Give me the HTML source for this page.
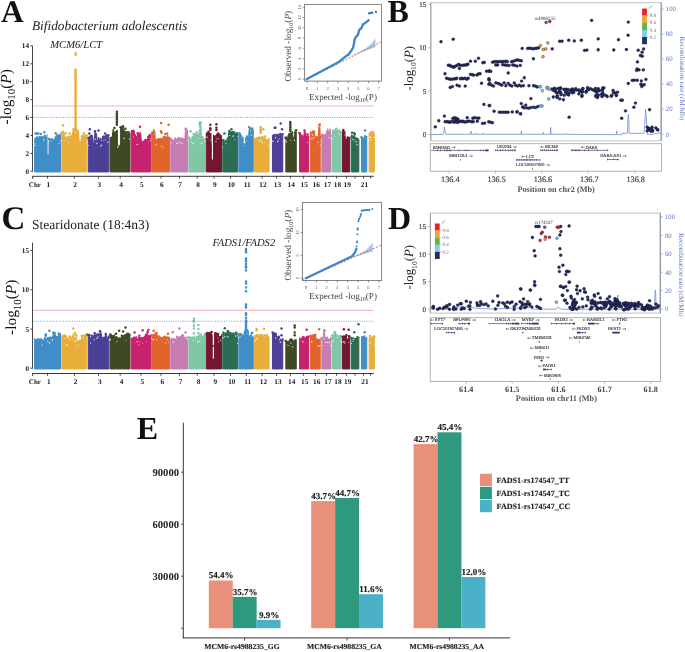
<!DOCTYPE html><html><head><meta charset="utf-8"><style>html,body{margin:0;padding:0;background:#fff;overflow:hidden}svg{display:block;will-change:transform;text-rendering:geometricPrecision;-webkit-font-smoothing:antialiased}</style></head><body>
<svg width="685" height="652" viewBox="0 0 685 652" style="font-family:'Liberation Serif',serif">
<rect width="685" height="652" fill="#fff"/>
<text x="0.9" y="21.6" font-size="31.5" font-weight="bold" font-style="normal" fill="#111" text-anchor="start" >A</text>
<text x="32" y="29.7" font-size="13.3" font-weight="normal" font-style="italic" fill="#222" text-anchor="start" >Bifidobacterium adolescentis</text>
<line x1="33" y1="105.8" x2="373.6" y2="105.8" stroke="#fad4d7" stroke-width="1.8" />
<line x1="33" y1="117.4" x2="373.8" y2="117.4" stroke="#8fa3dc" stroke-width="1" stroke-dasharray="1.1 1.2"/>
<path d="M34.55,171.95 L34.55,142.59 L34.56,143.5 L35.01,137.54 L35.47,138.06 L35.92,139.06 L36.38,138.2 L36.84,136.28 L37.29,136.89 L37.75,138.07 L38.2,137.43 L38.66,138.51 L39.12,139.18 L39.57,137.73 L40.03,136.49 L40.48,137.2 L40.94,137.2 L41.39,137.41 L41.85,135.99 L42.31,137.82 L42.76,136.89 L43.22,136.57 L43.67,137.54 L44.13,137.08 L44.59,135.99 L45.04,136.57 L45.5,137.57 L45.95,137.16 L46.41,137.79 L46.87,137.78 L47.32,134.19 L47.78,144.95 L48.23,145.4 L48.69,146.71 L49.15,139.3 L49.6,139.15 L50.06,138.65 L50.51,139.98 L50.97,139.39 L51.43,138.39 L51.88,138.72 L52.34,138.47 L52.79,140.88 L53.25,140.91 L53.71,140.41 L54.16,139.34 L54.62,140.22 L55.07,137.74 L55.53,136.43 L55.98,135.74 L56.44,136.67 L56.9,136.39 L57.35,136.27 L57.81,137.66 L58.26,137.06 L58.72,137.81 L59.18,135.47 L59.63,136.27 L60.09,136 L60.54,133.47 L60.55,136.07 L60.55,171.95 Z" fill="#3f8ec8" stroke="#3f8ec8" stroke-width="1.0" stroke-linejoin="round"/>
<g fill="#fff" fill-opacity="0.85"><circle cx="34.55" cy="145.74" r="0.77"/><circle cx="35.01" cy="143.85" r="0.66"/><circle cx="43.22" cy="141.77" r="0.49"/><circle cx="44.13" cy="139.71" r="0.75"/><circle cx="51.43" cy="141.07" r="0.54"/><circle cx="58.72" cy="143.65" r="0.48"/><circle cx="59.63" cy="143.26" r="0.46"/><circle cx="60.54" cy="141.01" r="0.6"/></g>
<rect x="47.6" y="108.55" width="0.9" height="45.64" rx="0.5" fill="#fff"/>
<g fill="#3f8ec8"><circle cx="39.39" cy="137.27" r="1.25"/><circle cx="42.07" cy="137.56" r="1.25"/><circle cx="44.94" cy="135.9" r="1.25"/><circle cx="49.04" cy="139.03" r="1.25"/><circle cx="53.35" cy="140.63" r="1.25"/><circle cx="57.46" cy="135.08" r="1.25"/><circle cx="58.56" cy="136.49" r="1.25"/><circle cx="35.5" cy="133.61" r="1.25"/><circle cx="37" cy="133.61" r="1.25"/><circle cx="38.2" cy="133.61" r="1.25"/><circle cx="40.8" cy="134.06" r="1.25"/><circle cx="44.3" cy="132.18" r="1.25"/><circle cx="55.7" cy="133.34" r="1.25"/><circle cx="59.8" cy="135.85" r="1.25"/></g>
<path d="M61.85,171.95 L61.85,133.24 L61.85,132.83 L62.31,131.27 L62.76,132.95 L63.21,132.58 L63.66,138.59 L64.12,135.68 L64.57,136.63 L65.02,137.97 L65.47,137.78 L65.93,138.47 L66.38,139.69 L66.83,138.05 L67.28,136.94 L67.74,138.59 L68.19,136.94 L68.64,138.05 L69.09,137.75 L69.55,138.4 L70,138.82 L70.45,137.64 L70.91,134.65 L71.36,138.25 L71.81,138.52 L72.26,137.33 L72.72,131.16 L73.17,131.72 L73.62,130 L74.07,130.15 L74.53,131.49 L74.98,128 L75.43,130.22 L75.88,130.12 L76.34,128.97 L76.79,129.57 L77.24,132.24 L77.69,131.08 L78.15,129.59 L78.6,130.57 L79.05,140.94 L79.51,141.58 L79.96,141.64 L80.41,141.61 L80.86,142.9 L81.32,138.07 L81.77,137.32 L82.22,136.94 L82.67,136.48 L83.13,135.49 L83.58,137.82 L84.03,134.63 L84.48,137.48 L84.94,134.21 L85.39,137.13 L85.84,135.98 L86.29,136.07 L86.75,136.89 L86.75,136.61 L86.75,171.95 Z" fill="#e9ae3a" stroke="#e9ae3a" stroke-width="1.0" stroke-linejoin="round"/>
<g fill="#fff" fill-opacity="0.85"><circle cx="64.12" cy="140.61" r="0.65"/><circle cx="68.64" cy="142.66" r="0.61"/><circle cx="75.88" cy="132.38" r="0.55"/><circle cx="86.75" cy="142.45" r="0.64"/></g>
<g fill="#e9ae3a"><circle cx="61.75" cy="133.02" r="1.25"/><circle cx="63.03" cy="131.73" r="1.25"/><circle cx="64.06" cy="134.87" r="1.25"/><circle cx="65.32" cy="137.39" r="1.25"/><circle cx="68.15" cy="136.69" r="1.25"/><circle cx="69.61" cy="137.56" r="1.25"/><circle cx="72.29" cy="136.95" r="1.25"/><circle cx="73.47" cy="129.21" r="1.25"/><circle cx="81.93" cy="136.17" r="1.25"/><circle cx="84.25" cy="137.1" r="1.25"/><circle cx="86.78" cy="135.61" r="1.25"/><circle cx="63.1" cy="125.29" r="1.25"/><circle cx="65.7" cy="133.16" r="1.25"/><circle cx="69.6" cy="133.61" r="1.25"/><circle cx="83.6" cy="133.16" r="1.25"/><circle cx="75.6" cy="54.85" r="1.25"/><circle cx="75.6" cy="53.06" r="1.25"/><circle cx="75.6" cy="130.92" r="1.25"/><circle cx="75.6" cy="129.31" r="1.25"/><circle cx="75.6" cy="127.7" r="1.25"/><circle cx="75.6" cy="126.09" r="1.25"/><circle cx="75.6" cy="124.48" r="1.25"/><circle cx="75.6" cy="122.87" r="1.25"/><circle cx="75.6" cy="121.26" r="1.25"/><circle cx="75.6" cy="119.65" r="1.25"/><circle cx="75.6" cy="118.04" r="1.25"/><circle cx="75.6" cy="116.43" r="1.25"/><circle cx="75.6" cy="114.82" r="1.25"/><circle cx="75.6" cy="113.2" r="1.25"/><circle cx="75.6" cy="111.59" r="1.25"/><circle cx="75.6" cy="109.98" r="1.25"/><circle cx="75.6" cy="108.37" r="1.25"/><circle cx="75.6" cy="106.76" r="1.25"/><circle cx="75.6" cy="105.15" r="1.25"/><circle cx="75.6" cy="103.54" r="1.25"/><circle cx="75.6" cy="101.93" r="1.25"/><circle cx="75.6" cy="100.32" r="1.25"/><circle cx="75.6" cy="98.71" r="1.25"/><circle cx="75.6" cy="97.09" r="1.25"/><circle cx="75.6" cy="95.48" r="1.25"/><circle cx="75.6" cy="93.87" r="1.25"/><circle cx="75.6" cy="92.26" r="1.25"/><circle cx="75.6" cy="90.65" r="1.25"/><circle cx="75.6" cy="89.04" r="1.25"/><circle cx="75.6" cy="87.43" r="1.25"/><circle cx="75.6" cy="85.82" r="1.25"/><circle cx="75.6" cy="84.21" r="1.25"/><circle cx="75.6" cy="82.6" r="1.25"/><circle cx="75.6" cy="80.98" r="1.25"/><circle cx="75.6" cy="79.37" r="1.25"/><circle cx="75.6" cy="77.76" r="1.25"/><circle cx="75.6" cy="76.15" r="1.25"/><circle cx="75.6" cy="74.54" r="1.25"/><circle cx="75.6" cy="72.93" r="1.25"/><circle cx="75.6" cy="71.32" r="1.25"/><circle cx="75.6" cy="69.71" r="1.25"/></g>
<path d="M88.25,171.95 L88.25,138.58 L88.26,137.82 L88.71,136.95 L89.17,137.05 L89.63,136.62 L90.09,136.94 L90.54,136.02 L91,135.79 L91.46,137.4 L91.92,136.41 L92.37,136.29 L92.83,137.26 L93.29,143.98 L93.75,144.38 L94.2,144.08 L94.66,135.28 L95.12,131.87 L95.58,134.51 L96.03,134.69 L96.49,133.27 L96.95,140.77 L97.41,140.36 L97.86,141.76 L98.32,137.2 L98.78,141.04 L99.24,139.79 L99.69,141.02 L100.15,139.78 L100.61,141.03 L101.07,141.94 L101.52,140.84 L101.98,140.46 L102.44,138.13 L102.9,137.04 L103.35,135.75 L103.81,136.04 L104.27,136.65 L104.73,137.86 L105.18,137.4 L105.64,136.98 L106.1,138 L106.56,137.48 L107.01,137.74 L107.47,136.82 L107.93,135.77 L108.39,135.75 L108.84,136.95 L108.85,137.03 L108.85,171.95 Z" fill="#4b3f96" stroke="#4b3f96" stroke-width="1.0" stroke-linejoin="round"/>
<g fill="#fff" fill-opacity="0.85"><circle cx="88.25" cy="145.54" r="0.6"/><circle cx="95.12" cy="139.04" r="0.75"/><circle cx="96.95" cy="143.5" r="0.73"/><circle cx="100.61" cy="146.12" r="0.61"/><circle cx="101.52" cy="145.2" r="0.7"/><circle cx="103.35" cy="140.81" r="0.48"/><circle cx="105.18" cy="139.82" r="0.58"/><circle cx="107.93" cy="142.27" r="0.73"/></g>
<g fill="#4b3f96"><circle cx="88.45" cy="137.95" r="1.25"/><circle cx="90.75" cy="135.94" r="1.25"/><circle cx="91.69" cy="136.05" r="1.25"/><circle cx="93.37" cy="143.94" r="1.25"/><circle cx="100.43" cy="138.94" r="1.25"/><circle cx="103.16" cy="136.96" r="1.25"/><circle cx="105.68" cy="136.17" r="1.25"/><circle cx="108.33" cy="135.27" r="1.25"/><circle cx="89.8" cy="129.13" r="1.25"/><circle cx="89.3" cy="133.61" r="1.25"/><circle cx="95" cy="131.37" r="1.25"/><circle cx="98.5" cy="130.48" r="1.25"/><circle cx="105.1" cy="133.61" r="1.25"/><circle cx="106.8" cy="135.4" r="1.25"/></g>
<path d="M110.05,171.95 L110.05,138.71 L110.05,138.73 L110.5,137.01 L110.96,138.31 L111.41,137.34 L111.86,137.55 L112.31,137.73 L112.77,131.49 L113.22,129.1 L113.67,132.08 L114.12,132.36 L114.57,131.96 L115.03,131.73 L115.48,131.25 L115.93,130.67 L116.38,130.34 L116.83,131.72 L117.29,130.19 L117.74,144.05 L118.19,143.85 L118.64,143.62 L119.1,146.04 L119.55,144.45 L120,144.67 L120.45,127.94 L120.9,127.58 L121.36,129.24 L121.81,128.56 L122.26,128.78 L122.71,128.33 L123.17,126.91 L123.62,127.37 L124.07,132.66 L124.52,131.94 L124.97,133.15 L125.43,133.69 L125.88,132.53 L126.33,133.31 L126.78,134.82 L127.23,135.73 L127.69,133.54 L128.14,133.75 L128.59,133.74 L129.04,133.32 L129.5,134.02 L129.95,133.44 L129.95,133.85 L129.95,171.95 Z" fill="#3d4a23" stroke="#3d4a23" stroke-width="1.0" stroke-linejoin="round"/>
<g fill="#fff" fill-opacity="0.85"><circle cx="117.74" cy="146.98" r="0.79"/><circle cx="118.64" cy="146" r="0.54"/><circle cx="124.07" cy="138.18" r="0.8"/><circle cx="129.5" cy="139.22" r="0.6"/></g>
<rect x="118.1" y="108.55" width="1.7" height="36.69" rx="0.5" fill="#fff"/>
<g fill="#3d4a23"><circle cx="112.57" cy="137.19" r="1.25"/><circle cx="120.63" cy="127.32" r="1.25"/><circle cx="121.8" cy="127.56" r="1.25"/><circle cx="122.94" cy="126.29" r="1.25"/><circle cx="124.23" cy="131.39" r="1.25"/><circle cx="126.09" cy="132.19" r="1.25"/><circle cx="128.45" cy="132.4" r="1.25"/><circle cx="125.5" cy="128.69" r="1.25"/><circle cx="128.1" cy="132.27" r="1.25"/><circle cx="114.4" cy="127.97" r="1.25"/><circle cx="116.9" cy="124.66" r="1.25"/><circle cx="116.9" cy="123.05" r="1.25"/><circle cx="116.9" cy="121.44" r="1.25"/><circle cx="116.9" cy="119.83" r="1.25"/><circle cx="116.9" cy="118.22" r="1.25"/><circle cx="116.9" cy="116.61" r="1.25"/><circle cx="116.9" cy="114.99" r="1.25"/><circle cx="116.9" cy="113.38" r="1.25"/><circle cx="116.9" cy="111.77" r="1.25"/></g>
<path d="M131.15,171.95 L131.15,133.04 L131.16,131.84 L131.62,131.52 L132.08,131.74 L132.54,131.23 L133,132.29 L133.45,131.64 L133.91,130.67 L134.37,131.95 L134.83,137.83 L135.29,134.34 L135.75,136.39 L136.21,137.55 L136.67,136.48 L137.13,137.15 L137.59,134.2 L138.05,132.31 L138.5,133.67 L138.96,132.88 L139.42,133.86 L139.88,133.41 L140.34,132.44 L140.8,133.87 L141.26,140.09 L141.72,140.94 L142.18,142.08 L142.64,141.65 L143.1,140.89 L143.55,141.35 L144.01,141.31 L144.47,141.72 L144.93,139.53 L145.39,139.24 L145.85,141.44 L146.31,139.09 L146.77,141.49 L147.23,142.55 L147.69,136.53 L148.15,137.15 L148.6,137.53 L149.06,136.58 L149.52,136.25 L149.98,136.25 L150.44,136.4 L150.45,135.87 L150.45,171.95 Z" fill="#c7226e" stroke="#c7226e" stroke-width="1.0" stroke-linejoin="round"/>
<g fill="#fff" fill-opacity="0.85"><circle cx="133.45" cy="137.1" r="0.54"/><circle cx="137.13" cy="144.5" r="0.77"/><circle cx="148.15" cy="141.92" r="0.46"/><circle cx="149.98" cy="138.71" r="0.49"/><circle cx="150.45" cy="140.84" r="0.57"/></g>
<g fill="#c7226e"><circle cx="131.88" cy="131.05" r="1.25"/><circle cx="133.48" cy="131.05" r="1.25"/><circle cx="134.85" cy="137.46" r="1.25"/><circle cx="135.97" cy="137.01" r="1.25"/><circle cx="137.61" cy="133.32" r="1.25"/><circle cx="144.58" cy="141.31" r="1.25"/><circle cx="145.64" cy="140.21" r="1.25"/><circle cx="148.81" cy="136.41" r="1.25"/><circle cx="149.78" cy="135.05" r="1.25"/><circle cx="140" cy="126.63" r="1.25"/></g>
<path d="M151.65,171.95 L151.65,131.82 L151.66,131.85 L152.12,132.22 L152.58,132.91 L153.03,131.32 L153.49,131.98 L153.95,129.2 L154.41,132.14 L154.87,131.63 L155.33,140.63 L155.79,139.9 L156.24,139.82 L156.7,139.91 L157.16,138.79 L157.62,140.12 L158.08,138.51 L158.54,139.31 L159,138.64 L159.45,139.38 L159.91,138.32 L160.37,140.04 L160.83,139.61 L161.29,140.09 L161.75,138.42 L162.2,140.3 L162.66,138.9 L163.12,140.98 L163.58,138.47 L164.04,138.48 L164.5,136.47 L164.96,137.5 L165.41,136.43 L165.87,136.91 L166.33,138.03 L166.79,138.03 L167.25,137.93 L167.71,134.92 L168.17,138.46 L168.62,136.98 L169.08,138.25 L169.54,138.46 L169.55,138.67 L169.55,171.95 Z" fill="#e0642b" stroke="#e0642b" stroke-width="1.0" stroke-linejoin="round"/>
<g fill="#fff" fill-opacity="0.85"><circle cx="151.65" cy="138.28" r="0.47"/><circle cx="155.79" cy="145.03" r="0.48"/><circle cx="156.7" cy="144.2" r="0.55"/><circle cx="161.29" cy="146.14" r="0.57"/><circle cx="163.12" cy="147.66" r="0.52"/></g>
<g fill="#e0642b"><circle cx="152.62" cy="132.71" r="1.25"/><circle cx="159.31" cy="139.19" r="1.25"/><circle cx="160.81" cy="139.24" r="1.25"/><circle cx="162.06" cy="140.12" r="1.25"/><circle cx="163.6" cy="137.39" r="1.25"/><circle cx="165.18" cy="136.93" r="1.25"/><circle cx="169.16" cy="137.98" r="1.25"/><circle cx="161.2" cy="123.05" r="1.25"/><circle cx="168.6" cy="124.66" r="1.25"/><circle cx="161" cy="131.19" r="1.25"/><circle cx="161.4" cy="132.72" r="1.25"/><circle cx="165.3" cy="134.06" r="1.25"/><circle cx="167.1" cy="133.61" r="1.25"/></g>
<path d="M170.75,171.95 L170.75,139.16 L170.76,138.24 L171.22,139.04 L171.68,140.54 L172.14,139.47 L172.59,139.7 L173.05,139.49 L173.51,141.2 L173.97,139.91 L174.43,139.81 L174.89,138.18 L175.35,137.6 L175.81,139.3 L176.27,139.18 L176.73,139.64 L177.18,138.29 L177.64,138.81 L178.1,139.18 L178.56,138.19 L179.02,138.56 L179.48,138.22 L179.94,139.49 L180.4,138.17 L180.86,138.65 L181.32,140.06 L181.77,139.49 L182.23,138.12 L182.69,138.25 L183.15,138.34 L183.61,138.84 L184.07,139.81 L184.53,139.04 L184.99,137.78 L185.45,129.19 L185.91,127.67 L186.36,131.37 L186.82,130.73 L187.28,130.06 L187.74,136.88 L187.75,138.93 L187.75,171.95 Z" fill="#c77db4" stroke="#c77db4" stroke-width="1.0" stroke-linejoin="round"/>
<g fill="#fff" fill-opacity="0.85"><circle cx="171.22" cy="142.77" r="0.62"/><circle cx="176.73" cy="143.57" r="0.77"/><circle cx="178.56" cy="142.8" r="0.58"/><circle cx="180.4" cy="142.1" r="0.71"/><circle cx="182.23" cy="143.51" r="0.68"/><circle cx="185.91" cy="130.52" r="0.5"/><circle cx="187.74" cy="140.54" r="0.52"/></g>
<g fill="#c77db4"><circle cx="170.64" cy="139.02" r="1.25"/><circle cx="178.64" cy="138.11" r="1.25"/><circle cx="181.35" cy="138.76" r="1.25"/><circle cx="185.71" cy="128.96" r="1.25"/><circle cx="186.69" cy="130.62" r="1.25"/></g>
<path d="M188.95,171.95 L188.95,138.01 L188.96,137.59 L189.42,138.44 L189.88,138.89 L190.34,138.57 L190.8,139.3 L191.26,139.2 L191.72,139.03 L192.18,139.75 L192.64,138.29 L193.09,136.41 L193.55,135.08 L194.01,135.01 L194.47,136.14 L194.93,134.36 L195.39,135.03 L195.85,134.8 L196.31,132.03 L196.77,131.24 L197.23,131.14 L197.69,132.7 L198.15,136.26 L198.61,136.51 L199.07,135.12 L199.53,124.2 L199.99,121.23 L200.45,123.08 L200.91,123.13 L201.36,140.27 L201.82,138.32 L202.28,137.57 L202.74,138.17 L203.2,139.06 L203.66,139.62 L204.12,139.36 L204.58,139.64 L205.04,138.02 L205.05,138.83 L205.05,171.95 Z" fill="#7fc8a6" stroke="#7fc8a6" stroke-width="1.0" stroke-linejoin="round"/>
<g fill="#fff" fill-opacity="0.85"><circle cx="191.26" cy="141.99" r="0.63"/><circle cx="193.09" cy="143.6" r="0.79"/><circle cx="194.01" cy="137.27" r="0.47"/><circle cx="196.77" cy="133.52" r="0.64"/><circle cx="198.61" cy="138.79" r="0.52"/><circle cx="199.53" cy="128.02" r="0.64"/><circle cx="201.36" cy="143.64" r="0.76"/><circle cx="202.28" cy="142.79" r="0.61"/><circle cx="205.04" cy="141.25" r="0.67"/></g>
<g fill="#7fc8a6"><circle cx="189.24" cy="137.8" r="1.25"/><circle cx="192.52" cy="137.35" r="1.25"/><circle cx="193.73" cy="134.1" r="1.25"/><circle cx="195.62" cy="134.29" r="1.25"/><circle cx="198.2" cy="135.45" r="1.25"/><circle cx="199.39" cy="123.46" r="1.25"/><circle cx="200.66" cy="122.71" r="1.25"/><circle cx="202.51" cy="136.9" r="1.25"/><circle cx="190.6" cy="131.37" r="1.25"/></g>
<path d="M206.25,171.95 L206.25,133.51 L206.26,133.26 L206.73,132.86 L207.19,133.95 L207.65,133.18 L208.11,132.58 L208.58,133 L209.04,132.14 L209.5,133.76 L209.97,134.6 L210.43,134.33 L210.89,132.94 L211.35,146.83 L211.82,146.51 L212.28,146.36 L212.74,135.17 L213.21,134.82 L213.67,135.51 L214.13,135.78 L214.59,137.05 L215.06,135.24 L215.52,136.48 L215.98,137.54 L216.45,136.47 L216.91,136.25 L217.37,134.93 L217.83,134.17 L218.3,134.25 L218.76,136.08 L219.22,134.98 L219.69,135 L220.15,136.35 L220.61,136.75 L221.07,135.96 L221.54,135.26 L221.55,136.23 L221.55,171.95 Z" fill="#731730" stroke="#731730" stroke-width="1.0" stroke-linejoin="round"/>
<g fill="#fff" fill-opacity="0.85"><circle cx="206.25" cy="136.87" r="0.51"/><circle cx="207.65" cy="137.35" r="0.66"/><circle cx="210.43" cy="140.02" r="0.52"/><circle cx="215.98" cy="141.47" r="0.62"/><circle cx="216.91" cy="138.77" r="0.58"/><circle cx="218.76" cy="138.69" r="0.56"/></g>
<rect x="211.9" y="108.55" width="1.1" height="51.02" rx="0.5" fill="#fff"/>
<g fill="#731730"><circle cx="206.97" cy="133.82" r="1.25"/><circle cx="208.36" cy="131.8" r="1.25"/><circle cx="209.97" cy="134.18" r="1.25"/><circle cx="216.96" cy="135.08" r="1.25"/><circle cx="218.21" cy="133.57" r="1.25"/><circle cx="219.51" cy="134.9" r="1.25"/><circle cx="210.3" cy="124.66" r="1.25"/><circle cx="210.3" cy="128.24" r="1.25"/><circle cx="210.3" cy="130.03" r="1.25"/><circle cx="216.4" cy="124.21" r="1.25"/><circle cx="216.4" cy="127.79" r="1.25"/><circle cx="216.4" cy="130.03" r="1.25"/></g>
<path d="M222.75,171.95 L222.75,140.01 L222.75,140.83 L223.2,139.35 L223.65,141.38 L224.11,141.75 L224.56,140.97 L225.01,141.49 L225.46,141.94 L225.91,141.19 L226.36,141.32 L226.81,141.07 L227.27,140.71 L227.72,139.19 L228.17,140.54 L228.62,132.49 L229.07,131.35 L229.52,130.37 L229.97,131.67 L230.43,133.01 L230.88,131.85 L231.33,132.09 L231.78,131.82 L232.23,131.23 L232.68,131.02 L233.13,133.11 L233.59,132.54 L234.04,130.9 L234.49,133.09 L234.94,133.46 L235.39,132.92 L235.84,132.7 L236.29,132.83 L236.75,132.16 L237.2,134.16 L237.65,133.77 L237.65,132.61 L237.65,171.95 Z" fill="#2c6c52" stroke="#2c6c52" stroke-width="1.0" stroke-linejoin="round"/>
<g fill="#fff" fill-opacity="0.85"><circle cx="222.75" cy="147.23" r="0.53"/><circle cx="225.91" cy="143.72" r="0.61"/><circle cx="229.52" cy="135.52" r="0.6"/><circle cx="233.13" cy="136.13" r="0.79"/><circle cx="234.94" cy="140.05" r="0.53"/><circle cx="237.65" cy="136.56" r="0.47"/></g>
<g fill="#2c6c52"><circle cx="223.39" cy="140.25" r="1.25"/><circle cx="226.33" cy="140.8" r="1.25"/><circle cx="227.93" cy="138.59" r="1.25"/><circle cx="229.36" cy="131.09" r="1.25"/><circle cx="230.67" cy="132.49" r="1.25"/><circle cx="232.94" cy="132.3" r="1.25"/><circle cx="224.4" cy="133.61" r="1.25"/><circle cx="231.4" cy="129.13" r="1.25"/></g>
<path d="M238.85,171.95 L238.85,132.77 L238.86,133.67 L239.33,132.09 L239.79,132.65 L240.25,132.7 L240.72,136.94 L241.18,136.48 L241.65,136.57 L242.11,136.82 L242.57,137.08 L243.04,137.69 L243.5,137.33 L243.96,144.54 L244.43,144.81 L244.89,144.31 L245.35,143.73 L245.82,137.3 L246.28,137.57 L246.75,135.53 L247.21,135.62 L247.67,137.05 L248.14,137.4 L248.6,137.45 L249.06,129.7 L249.53,128.53 L249.99,129.26 L250.45,128.22 L250.92,130.47 L251.38,129.35 L251.85,130.75 L252.31,129.59 L252.77,131.06 L253.24,131.18 L253.25,129.55 L253.25,171.95 Z" fill="#3f8ec8" stroke="#3f8ec8" stroke-width="1.0" stroke-linejoin="round"/>
<g fill="#fff" fill-opacity="0.85"><circle cx="240.25" cy="137.09" r="0.49"/><circle cx="245.82" cy="141.53" r="0.57"/><circle cx="250.45" cy="130.81" r="0.53"/><circle cx="251.38" cy="135.18" r="0.61"/></g>
<rect x="243.7" y="108.55" width="1.1" height="37.59" rx="0.5" fill="#fff"/>
<g fill="#3f8ec8"><circle cx="240.96" cy="135.99" r="1.25"/><circle cx="243.95" cy="144.45" r="1.25"/><circle cx="249.23" cy="127.31" r="1.25"/><circle cx="252.12" cy="128.49" r="1.25"/></g>
<path d="M254.45,171.95 L254.45,140.09 L254.46,141.4 L254.91,140.31 L255.37,139.68 L255.82,141.14 L256.28,139.85 L256.74,139.49 L257.19,137.81 L257.65,139.19 L258.1,136.66 L258.56,137.57 L259.01,138.2 L259.47,136.37 L259.93,137.54 L260.38,137.51 L260.84,138.53 L261.29,137.42 L261.75,137.13 L262.21,138.5 L262.66,137.63 L263.12,137 L263.57,138.43 L264.03,137.7 L264.49,137.26 L264.94,137.46 L265.4,138.53 L265.85,139.99 L266.31,139.8 L266.76,140.02 L267.22,139.81 L267.68,141.02 L268.13,138.62 L268.59,139.28 L269.04,140.32 L269.05,138.22 L269.05,171.95 Z" fill="#e9ae3a" stroke="#e9ae3a" stroke-width="1.0" stroke-linejoin="round"/>
<g fill="#fff" fill-opacity="0.85"><circle cx="258.56" cy="140.11" r="0.49"/><circle cx="259.47" cy="141.59" r="0.56"/><circle cx="261.29" cy="140.46" r="0.75"/><circle cx="262.21" cy="142.64" r="0.69"/><circle cx="264.94" cy="142.8" r="0.54"/><circle cx="268.59" cy="144.8" r="0.55"/></g>
<g fill="#e9ae3a"><circle cx="254.7" cy="139.11" r="1.25"/><circle cx="256.76" cy="138.18" r="1.25"/><circle cx="260.55" cy="137.91" r="1.25"/><circle cx="262.32" cy="137.21" r="1.25"/><circle cx="265" cy="136.54" r="1.25"/><circle cx="263.3" cy="129.13" r="1.25"/><circle cx="260.7" cy="132.72" r="1.25"/><circle cx="260.7" cy="130.92" r="1.25"/><circle cx="260.7" cy="129.13" r="1.25"/><circle cx="260.7" cy="127.34" r="1.25"/></g>
<path d="M272.45,171.95 L272.45,135.05 L272.47,136.18 L272.93,135 L273.4,135.58 L273.87,134.06 L274.33,134.53 L274.8,135.49 L275.27,133.87 L275.73,135.28 L276.2,136.2 L276.67,134.5 L277.13,133.91 L277.6,135.94 L278.07,134.51 L278.53,134.52 L279,134.86 L279.47,136.11 L279.93,136.36 L280.4,134.99 L280.87,135.8 L281.33,134.54 L281.8,136.45 L282.27,136.29 L282.73,135.99 L282.75,135.56 L282.75,171.95 Z" fill="#4b3f96" stroke="#4b3f96" stroke-width="1.0" stroke-linejoin="round"/>
<g fill="#fff" fill-opacity="0.85"><circle cx="272.93" cy="141.35" r="0.79"/><circle cx="275.73" cy="137.66" r="0.73"/><circle cx="277.6" cy="141.79" r="0.77"/><circle cx="278.53" cy="140.03" r="0.57"/><circle cx="279.47" cy="138.74" r="0.47"/></g>
<g fill="#4b3f96"><circle cx="277.85" cy="135.05" r="1.25"/><circle cx="280.27" cy="133.99" r="1.25"/><circle cx="282.47" cy="134.26" r="1.25"/><circle cx="280.7" cy="123.5" r="1.25"/><circle cx="282" cy="129.13" r="1.25"/><circle cx="275.4" cy="127.79" r="1.25"/><circle cx="274.7" cy="127.79" r="1.25"/></g>
<path d="M285.85,171.95 L285.85,137.92 L285.85,137.84 L286.3,137.63 L286.76,138.85 L287.21,138.54 L287.66,139.26 L288.11,135 L288.56,135.4 L289.02,135.25 L289.47,134.38 L289.92,133.9 L290.37,133.38 L290.82,134.2 L291.28,134.21 L291.73,135.46 L292.18,131.31 L292.63,134.56 L293.08,139.19 L293.54,138.37 L293.99,136.73 L294.44,137.03 L294.89,132.78 L295.34,133.4 L295.8,132.12 L296.25,131.5 L296.25,132.33 L296.25,171.95 Z" fill="#3d4a23" stroke="#3d4a23" stroke-width="1.0" stroke-linejoin="round"/>
<g fill="#fff" fill-opacity="0.85"><circle cx="285.85" cy="140.43" r="0.56"/><circle cx="286.3" cy="142" r="0.76"/><circle cx="290.82" cy="140.14" r="0.5"/><circle cx="294.44" cy="140.31" r="0.7"/></g>
<g fill="#3d4a23"><circle cx="285.56" cy="137.73" r="1.25"/><circle cx="286.51" cy="137.63" r="1.25"/><circle cx="289.34" cy="134.37" r="1.25"/><circle cx="291.05" cy="133.47" r="1.25"/><circle cx="294.88" cy="132.54" r="1.25"/><circle cx="296.07" cy="130.29" r="1.25"/><circle cx="290.3" cy="130.92" r="1.25"/><circle cx="290.3" cy="129.13" r="1.25"/><circle cx="290.3" cy="127.34" r="1.25"/><circle cx="290.3" cy="125.55" r="1.25"/><circle cx="290.3" cy="123.76" r="1.25"/><circle cx="290.3" cy="121.97" r="1.25"/></g>
<path d="M299.55,171.95 L299.55,134.37 L299.57,134.19 L300.04,132.04 L300.51,134.84 L300.99,134.26 L301.46,136.85 L301.93,135.55 L302.4,135.23 L302.87,136.82 L303.34,136.73 L303.81,135.65 L304.29,131.53 L304.76,131.62 L305.23,131.78 L305.7,132.5 L306.17,137.87 L306.64,136.25 L307.11,136.19 L307.59,135.54 L308.06,135.67 L308.53,137.78 L308.55,136.4 L308.55,171.95 Z" fill="#c7226e" stroke="#c7226e" stroke-width="1.0" stroke-linejoin="round"/>
<g fill="#fff" fill-opacity="0.85"><circle cx="302.87" cy="139.15" r="0.46"/><circle cx="307.59" cy="142.47" r="0.53"/></g>
<g fill="#c7226e"><circle cx="299.4" cy="133.08" r="1.25"/><circle cx="300.26" cy="134.81" r="1.25"/><circle cx="304.56" cy="130.62" r="1.25"/><circle cx="306.34" cy="137.02" r="1.25"/><circle cx="307.57" cy="134.45" r="1.25"/></g>
<path d="M310.35,171.95 L310.35,131.54 L310.35,132.85 L310.8,132.41 L311.25,133.39 L311.7,132.78 L312.15,131.61 L312.6,131.76 L313.05,131.15 L313.5,132.15 L313.95,131.99 L314.4,131.7 L314.85,136.61 L315.3,137.64 L315.75,137.29 L316.2,136.09 L316.65,137.73 L317.1,136.57 L317.55,137.64 L318,138.03 L318.45,134.86 L318.9,125.13 L319.35,125.72 L319.8,123.78 L320.25,137.02 L320.25,138.1 L320.25,171.95 Z" fill="#e0642b" stroke="#e0642b" stroke-width="1.0" stroke-linejoin="round"/>
<g fill="#fff" fill-opacity="0.85"><circle cx="311.7" cy="138.88" r="0.74"/><circle cx="312.6" cy="135.09" r="0.78"/><circle cx="313.5" cy="137.7" r="0.77"/><circle cx="318" cy="142.41" r="0.62"/><circle cx="319.8" cy="126.42" r="0.58"/><circle cx="320.25" cy="145.22" r="0.61"/></g>
<g fill="#e0642b"><circle cx="312.79" cy="131.65" r="1.25"/><circle cx="313.91" cy="131.52" r="1.25"/><circle cx="317.79" cy="137.67" r="1.25"/><circle cx="319.63" cy="124.43" r="1.25"/><circle cx="320.53" cy="137.3" r="1.25"/></g>
<path d="M321.85,171.95 L321.85,136.49 L321.85,134.94 L322.31,135.24 L322.76,135.97 L323.22,137.78 L323.67,136.58 L324.13,135.81 L324.58,137.26 L325.04,137.54 L325.49,134.46 L325.95,137.15 L326.4,130.82 L326.85,131.66 L327.31,131.39 L327.76,128.65 L328.22,131.58 L328.67,131.61 L329.13,132.28 L329.58,130.91 L330.04,128.77 L330.49,131.23 L330.95,136.14 L330.95,135.27 L330.95,171.95 Z" fill="#c77db4" stroke="#c77db4" stroke-width="1.0" stroke-linejoin="round"/>
<g fill="#fff" fill-opacity="0.85"><circle cx="328.67" cy="137.25" r="0.54"/><circle cx="330.95" cy="138.15" r="0.69"/></g>
<g fill="#c77db4"><circle cx="322.02" cy="135.58" r="1.25"/><circle cx="322.71" cy="134.71" r="1.25"/><circle cx="324.06" cy="135.58" r="1.25"/></g>
<path d="M332.45,171.95 L332.45,131.89 L332.46,130.46 L332.91,129.56 L333.37,131.95 L333.83,131.6 L334.29,131.13 L334.74,131.78 L335.2,129.69 L335.66,129.24 L336.11,129.38 L336.57,127.8 L337.03,131.65 L337.49,131.41 L337.94,130.24 L338.4,130.9 L338.86,130.89 L339.31,130.26 L339.77,130.27 L340.23,131.22 L340.69,131.81 L341.14,131.14 L341.15,132.05 L341.15,171.95 Z" fill="#7fc8a6" stroke="#7fc8a6" stroke-width="1.0" stroke-linejoin="round"/>
<g fill="#fff" fill-opacity="0.85"><circle cx="332.45" cy="138.24" r="0.48"/><circle cx="334.74" cy="136.3" r="0.5"/><circle cx="339.31" cy="133.96" r="0.74"/></g>
<g fill="#7fc8a6"><circle cx="333.47" cy="131.78" r="1.25"/><circle cx="334.51" cy="130.94" r="1.25"/><circle cx="336.12" cy="128.98" r="1.25"/><circle cx="337.69" cy="131.13" r="1.25"/><circle cx="339.08" cy="130.43" r="1.25"/></g>
<path d="M342.55,171.95 L342.55,132.6 L342.56,130.49 L343.03,133.2 L343.49,131.32 L343.96,132.04 L344.42,131.41 L344.89,130.94 L345.35,140.1 L345.82,139.77 L346.28,138.67 L346.75,140.38 L347.21,139.59 L347.68,137.93 L348.14,139.47 L348.61,138.57 L349.07,138.3 L349.54,138.4 L349.55,138.6 L349.55,171.95 Z" fill="#731730" stroke="#731730" stroke-width="1.0" stroke-linejoin="round"/>
<g fill="#fff" fill-opacity="0.85"><circle cx="344.89" cy="134.97" r="0.56"/></g>
<g fill="#731730"><circle cx="347.71" cy="137.52" r="1.25"/><circle cx="349.24" cy="137.9" r="1.25"/><circle cx="343.4" cy="130.03" r="1.25"/></g>
<path d="M351.15,171.95 L351.15,136.36 L351.15,136.78 L351.61,134.78 L352.06,136.31 L352.51,136.15 L352.96,136.33 L353.42,137.05 L353.87,135.71 L354.32,136.05 L354.77,135.28 L355.23,138.74 L355.68,138.47 L356.13,138.69 L356.58,139.31 L357.04,138.38 L357.49,137.98 L357.94,138.85 L358.39,139.35 L358.85,138.92 L358.85,138.83 L358.85,171.95 Z" fill="#2c6c52" stroke="#2c6c52" stroke-width="1.0" stroke-linejoin="round"/>
<g fill="#fff" fill-opacity="0.85"><circle cx="352.51" cy="139.33" r="0.54"/><circle cx="353.42" cy="139.51" r="0.59"/><circle cx="354.32" cy="140.99" r="0.45"/><circle cx="356.13" cy="141.8" r="0.69"/><circle cx="357.04" cy="144.81" r="0.69"/></g>
<g fill="#2c6c52"><circle cx="352.14" cy="136.22" r="1.25"/><circle cx="354.64" cy="134.23" r="1.25"/><circle cx="356.2" cy="138.58" r="1.25"/><circle cx="352.1" cy="132.72" r="1.25"/><circle cx="354.3" cy="133.16" r="1.25"/></g>
<path d="M361.55,171.95 L361.55,138.04 L361.57,139.3 L362.04,137.05 L362.51,137.77 L362.98,139.18 L363.45,138.28 L363.92,138.57 L364.38,136.15 L364.85,135.17 L365.32,136.17 L365.79,136.5 L366.26,136.86 L366.73,136.8 L366.75,135.88 L366.75,171.95 Z" fill="#3f8ec8" stroke="#3f8ec8" stroke-width="1.0" stroke-linejoin="round"/>
<g fill="#fff" fill-opacity="0.85"></g>
<g fill="#3f8ec8"><circle cx="361.48" cy="137.19" r="1.25"/><circle cx="365.1" cy="130.48" r="1.25"/></g>
<path d="M369.15,171.95 L369.15,133.29 L369.18,133.16 L369.65,133.61 L370.13,132.03 L370.61,133.16 L371.08,133.29 L371.56,133.19 L372.04,133.67 L372.52,133.73 L372.99,133.31 L373.47,131.38 L373.95,135.14 L374.42,134.16 L374.45,135.22 L374.45,171.95 Z" fill="#e9ae3a" stroke="#e9ae3a" stroke-width="1.0" stroke-linejoin="round"/>
<g fill="#fff" fill-opacity="0.85"><circle cx="369.15" cy="140.75" r="0.64"/><circle cx="369.65" cy="137.38" r="0.74"/><circle cx="370.61" cy="137.07" r="0.69"/><circle cx="371.56" cy="139.29" r="0.66"/><circle cx="374.42" cy="137.43" r="0.72"/></g>
<g fill="#e9ae3a"><circle cx="371.6" cy="131.93" r="1.25"/><circle cx="373.1" cy="132.63" r="1.25"/></g>
<line x1="32.5" y1="45.9" x2="32.5" y2="171.7" stroke="#333" stroke-width="0.9" />
<line x1="30.5" y1="171.2" x2="32.5" y2="171.2" stroke="#222" stroke-width="0.9" />
<text x="29" y="173.7" font-size="7.2" font-weight="bold" font-style="normal" fill="#222" text-anchor="end" >0</text>
<line x1="30.5" y1="153.3" x2="32.5" y2="153.3" stroke="#222" stroke-width="0.9" />
<text x="29" y="155.8" font-size="7.2" font-weight="bold" font-style="normal" fill="#222" text-anchor="end" >2</text>
<line x1="30.5" y1="135.4" x2="32.5" y2="135.4" stroke="#222" stroke-width="0.9" />
<text x="29" y="137.9" font-size="7.2" font-weight="bold" font-style="normal" fill="#222" text-anchor="end" >4</text>
<line x1="30.5" y1="117.5" x2="32.5" y2="117.5" stroke="#222" stroke-width="0.9" />
<text x="29" y="120" font-size="7.2" font-weight="bold" font-style="normal" fill="#222" text-anchor="end" >6</text>
<line x1="30.5" y1="99.6" x2="32.5" y2="99.6" stroke="#222" stroke-width="0.9" />
<text x="29" y="102.1" font-size="7.2" font-weight="bold" font-style="normal" fill="#222" text-anchor="end" >8</text>
<line x1="30.5" y1="81.7" x2="32.5" y2="81.7" stroke="#222" stroke-width="0.9" />
<text x="29" y="84.2" font-size="7.2" font-weight="bold" font-style="normal" fill="#222" text-anchor="end" >10</text>
<line x1="30.5" y1="63.8" x2="32.5" y2="63.8" stroke="#222" stroke-width="0.9" />
<text x="29" y="66.3" font-size="7.2" font-weight="bold" font-style="normal" fill="#222" text-anchor="end" >12</text>
<line x1="30.5" y1="45.9" x2="32.5" y2="45.9" stroke="#222" stroke-width="0.9" />
<text x="29" y="48.4" font-size="7.2" font-weight="bold" font-style="normal" fill="#222" text-anchor="end" >14</text>
<line x1="32.3" y1="176.3" x2="373.8" y2="176.3" stroke="#222" stroke-width="0.9" />
<line x1="32.7" y1="176.3" x2="32.7" y2="178.9" stroke="#222" stroke-width="0.9" />
<line x1="47.5" y1="176.3" x2="47.5" y2="178.6" stroke="#222" stroke-width="0.8" />
<text x="48.3" y="186.8" font-size="7.3" font-weight="bold" font-style="normal" fill="#222" text-anchor="middle" >1</text>
<line x1="74.4" y1="176.3" x2="74.4" y2="178.6" stroke="#222" stroke-width="0.8" />
<text x="75.2" y="186.8" font-size="7.3" font-weight="bold" font-style="normal" fill="#222" text-anchor="middle" >2</text>
<line x1="98.5" y1="176.3" x2="98.5" y2="178.6" stroke="#222" stroke-width="0.8" />
<text x="99.3" y="186.8" font-size="7.3" font-weight="bold" font-style="normal" fill="#222" text-anchor="middle" >3</text>
<line x1="120.2" y1="176.3" x2="120.2" y2="178.6" stroke="#222" stroke-width="0.8" />
<text x="121" y="186.8" font-size="7.3" font-weight="bold" font-style="normal" fill="#222" text-anchor="middle" >4</text>
<line x1="141" y1="176.3" x2="141" y2="178.6" stroke="#222" stroke-width="0.8" />
<text x="141.8" y="186.8" font-size="7.3" font-weight="bold" font-style="normal" fill="#222" text-anchor="middle" >5</text>
<line x1="161" y1="176.3" x2="161" y2="178.6" stroke="#222" stroke-width="0.8" />
<text x="161.8" y="186.8" font-size="7.3" font-weight="bold" font-style="normal" fill="#222" text-anchor="middle" >6</text>
<line x1="179.4" y1="176.3" x2="179.4" y2="178.6" stroke="#222" stroke-width="0.8" />
<text x="180.2" y="186.8" font-size="7.3" font-weight="bold" font-style="normal" fill="#222" text-anchor="middle" >7</text>
<line x1="197.2" y1="176.3" x2="197.2" y2="178.6" stroke="#222" stroke-width="0.8" />
<text x="198" y="186.8" font-size="7.3" font-weight="bold" font-style="normal" fill="#222" text-anchor="middle" >8</text>
<line x1="214" y1="176.3" x2="214" y2="178.6" stroke="#222" stroke-width="0.8" />
<text x="214.8" y="186.8" font-size="7.3" font-weight="bold" font-style="normal" fill="#222" text-anchor="middle" >9</text>
<line x1="230.5" y1="176.3" x2="230.5" y2="178.6" stroke="#222" stroke-width="0.8" />
<text x="231.3" y="186.8" font-size="7.3" font-weight="bold" font-style="normal" fill="#222" text-anchor="middle" >10</text>
<line x1="246.4" y1="176.3" x2="246.4" y2="178.6" stroke="#222" stroke-width="0.8" />
<text x="247.2" y="186.8" font-size="7.3" font-weight="bold" font-style="normal" fill="#222" text-anchor="middle" >11</text>
<line x1="262.2" y1="176.3" x2="262.2" y2="178.6" stroke="#222" stroke-width="0.8" />
<text x="263" y="186.8" font-size="7.3" font-weight="bold" font-style="normal" fill="#222" text-anchor="middle" >12</text>
<line x1="276.6" y1="176.3" x2="276.6" y2="178.6" stroke="#222" stroke-width="0.8" />
<text x="277.4" y="186.8" font-size="7.3" font-weight="bold" font-style="normal" fill="#222" text-anchor="middle" >13</text>
<line x1="290.4" y1="176.3" x2="290.4" y2="178.6" stroke="#222" stroke-width="0.8" />
<text x="291.2" y="186.8" font-size="7.3" font-weight="bold" font-style="normal" fill="#222" text-anchor="middle" >14</text>
<line x1="303.4" y1="176.3" x2="303.4" y2="178.6" stroke="#222" stroke-width="0.8" />
<text x="304.2" y="186.8" font-size="7.3" font-weight="bold" font-style="normal" fill="#222" text-anchor="middle" >15</text>
<line x1="315.4" y1="176.3" x2="315.4" y2="178.6" stroke="#222" stroke-width="0.8" />
<text x="316.2" y="186.8" font-size="7.3" font-weight="bold" font-style="normal" fill="#222" text-anchor="middle" >16</text>
<line x1="326.6" y1="176.3" x2="326.6" y2="178.6" stroke="#222" stroke-width="0.8" />
<text x="327.4" y="186.8" font-size="7.3" font-weight="bold" font-style="normal" fill="#222" text-anchor="middle" >17</text>
<line x1="336.6" y1="176.3" x2="336.6" y2="178.6" stroke="#222" stroke-width="0.8" />
<text x="337.4" y="186.8" font-size="7.3" font-weight="bold" font-style="normal" fill="#222" text-anchor="middle" >18</text>
<line x1="346.4" y1="176.3" x2="346.4" y2="178.6" stroke="#222" stroke-width="0.8" />
<text x="347.2" y="186.8" font-size="7.3" font-weight="bold" font-style="normal" fill="#222" text-anchor="middle" >19</text>
<line x1="355" y1="176.3" x2="355" y2="178.6" stroke="#222" stroke-width="0.8" />
<line x1="363.6" y1="176.3" x2="363.6" y2="178.6" stroke="#222" stroke-width="0.8" />
<text x="364.4" y="186.8" font-size="7.3" font-weight="bold" font-style="normal" fill="#222" text-anchor="middle" >21</text>
<line x1="370.6" y1="176.3" x2="370.6" y2="178.6" stroke="#222" stroke-width="0.8" />
<text x="34.9" y="186.8" font-size="7" font-weight="bold" font-style="normal" fill="#222" text-anchor="middle" >Chr</text>
<text transform="translate(10.9,96.8) rotate(-90)" font-size="15.4" text-anchor="middle" fill="#111">-log<tspan font-size="10.78" dy="4.31">10</tspan><tspan dy="-4.31">(</tspan><tspan font-style="italic">P</tspan>)</text>
<text x="50.2" y="48.1" font-size="10.65" font-weight="normal" font-style="italic" fill="#222" text-anchor="start" >MCM6/LCT</text>
<path d="M352,55.5 L360,51.5 L366,48 L371,44 L375.4,38.6 L375.4,47.3 L366,50.6 L358,53.6 L352,56 Z" fill="#9cc3e6" fill-opacity="0.85" stroke="none"/>
<line x1="304.6" y1="80.41" x2="381.4" y2="41.8" stroke="#d9534f" stroke-width="0.9" stroke-dasharray="2 1.5"/>
<polyline points="306.9,79.1 337.8,62.6 342,59.3 345.5,56.5 348.3,54.7 351,51 352.9,48.2 353.8,44.6 354.7,39 356.1,36.7 357.9,34.9 359.3,29.8 361.2,28.5 363,24.3 365.3,22.9 367.6,21.1 368.7,20.2" fill="none" stroke="#3a86c8" stroke-width="2.3" stroke-linecap="round" stroke-linejoin="round"/>
<g fill="#3a86c8"><circle cx="369.1" cy="13.3" r="1.2"/><circle cx="370.1" cy="13.1" r="1.2"/><circle cx="371.1" cy="12.9" r="1.2"/><circle cx="372.1" cy="12.7" r="1.2"/><circle cx="375.9" cy="11.9" r="1.2"/></g>
<rect x="304.6" y="4.4" width="76.8" height="76.7" fill="none" stroke="#777" stroke-width="0.9"/>
<line x1="302.8" y1="79.1" x2="304.6" y2="79.1" stroke="#666" stroke-width="0.7" />
<text transform="translate(301.4,79.1) rotate(-90)" font-size="4.6" text-anchor="middle" fill="#555">0</text>
<line x1="302.8" y1="68.83" x2="304.6" y2="68.83" stroke="#666" stroke-width="0.7" />
<text transform="translate(301.4,68.83) rotate(-90)" font-size="4.6" text-anchor="middle" fill="#555">2</text>
<line x1="302.8" y1="58.55" x2="304.6" y2="58.55" stroke="#666" stroke-width="0.7" />
<text transform="translate(301.4,58.55) rotate(-90)" font-size="4.6" text-anchor="middle" fill="#555">4</text>
<line x1="302.8" y1="48.28" x2="304.6" y2="48.28" stroke="#666" stroke-width="0.7" />
<text transform="translate(301.4,48.28) rotate(-90)" font-size="4.6" text-anchor="middle" fill="#555">6</text>
<line x1="302.8" y1="38" x2="304.6" y2="38" stroke="#666" stroke-width="0.7" />
<text transform="translate(301.4,38) rotate(-90)" font-size="4.6" text-anchor="middle" fill="#555">8</text>
<line x1="302.8" y1="27.73" x2="304.6" y2="27.73" stroke="#666" stroke-width="0.7" />
<text transform="translate(301.4,27.73) rotate(-90)" font-size="4.6" text-anchor="middle" fill="#555">10</text>
<line x1="302.8" y1="17.46" x2="304.6" y2="17.46" stroke="#666" stroke-width="0.7" />
<text transform="translate(301.4,17.46) rotate(-90)" font-size="4.6" text-anchor="middle" fill="#555">12</text>
<line x1="302.8" y1="7.18" x2="304.6" y2="7.18" stroke="#666" stroke-width="0.7" />
<text transform="translate(301.4,7.18) rotate(-90)" font-size="4.6" text-anchor="middle" fill="#555">14</text>
<line x1="307.2" y1="81.1" x2="307.2" y2="83.1" stroke="#666" stroke-width="0.7" />
<text x="307.2" y="89.7" font-size="4.6" font-weight="normal" font-style="normal" fill="#555" text-anchor="middle" >0</text>
<line x1="317.42" y1="81.1" x2="317.42" y2="83.1" stroke="#666" stroke-width="0.7" />
<text x="317.42" y="89.7" font-size="4.6" font-weight="normal" font-style="normal" fill="#555" text-anchor="middle" >1</text>
<line x1="327.64" y1="81.1" x2="327.64" y2="83.1" stroke="#666" stroke-width="0.7" />
<text x="327.64" y="89.7" font-size="4.6" font-weight="normal" font-style="normal" fill="#555" text-anchor="middle" >2</text>
<line x1="337.86" y1="81.1" x2="337.86" y2="83.1" stroke="#666" stroke-width="0.7" />
<text x="337.86" y="89.7" font-size="4.6" font-weight="normal" font-style="normal" fill="#555" text-anchor="middle" >3</text>
<line x1="348.08" y1="81.1" x2="348.08" y2="83.1" stroke="#666" stroke-width="0.7" />
<text x="348.08" y="89.7" font-size="4.6" font-weight="normal" font-style="normal" fill="#555" text-anchor="middle" >4</text>
<line x1="358.3" y1="81.1" x2="358.3" y2="83.1" stroke="#666" stroke-width="0.7" />
<text x="358.3" y="89.7" font-size="4.6" font-weight="normal" font-style="normal" fill="#555" text-anchor="middle" >5</text>
<line x1="368.52" y1="81.1" x2="368.52" y2="83.1" stroke="#666" stroke-width="0.7" />
<text x="368.52" y="89.7" font-size="4.6" font-weight="normal" font-style="normal" fill="#555" text-anchor="middle" >6</text>
<line x1="378.74" y1="81.1" x2="378.74" y2="83.1" stroke="#666" stroke-width="0.7" />
<text x="378.74" y="89.7" font-size="4.6" font-weight="normal" font-style="normal" fill="#555" text-anchor="middle" >7</text>
<text transform="translate(290.8,46.2) rotate(-90)" font-size="9.3" text-anchor="middle" fill="#444">Observed -log<tspan font-size="6" dy="2.6">10</tspan><tspan dy="-2.6">(</tspan><tspan font-style="italic">P</tspan>)</text>
<text x="343" y="99.6" font-size="9.1" text-anchor="middle" fill="#444">Expected -log<tspan font-size="6" dy="2.6">10</tspan><tspan dy="-2.6">(P)</tspan></text>
<text x="1.6" y="229" font-size="33" font-weight="bold" font-style="normal" fill="#111" text-anchor="start" >C</text>
<text x="32" y="228.7" font-size="13.5" font-weight="normal" font-style="normal" fill="#222" text-anchor="start" >Stearidonate (18:4n3)</text>
<line x1="33" y1="310.4" x2="373.6" y2="310.4" stroke="#f6c0c5" stroke-width="1.3" />
<line x1="33" y1="321.2" x2="373.8" y2="321.2" stroke="#8fa3dc" stroke-width="1" stroke-dasharray="1.1 1.2"/>
<path d="M34.55,368.95 L34.55,339.15 L34.56,338.62 L35.01,339.93 L35.47,338.93 L35.92,340.15 L36.38,340.48 L36.84,339.22 L37.29,339.81 L37.75,338.17 L38.2,340.81 L38.66,340.02 L39.12,339.31 L39.57,338.74 L40.03,339.11 L40.48,339.25 L40.94,340.3 L41.39,340.07 L41.85,340.09 L42.31,340.27 L42.76,339.75 L43.22,340.19 L43.67,340.65 L44.13,339.28 L44.59,337.47 L45.04,338.61 L45.5,338.82 L45.95,339.51 L46.41,339.59 L46.87,338.94 L47.32,338.23 L47.78,339.15 L48.23,337.22 L48.69,337.85 L49.15,339.13 L49.6,338.17 L50.06,336.56 L50.51,338.75 L50.97,337.3 L51.43,338.35 L51.88,338.13 L52.34,336.61 L52.79,337.59 L53.25,333.05 L53.71,333.48 L54.16,332.38 L54.62,333.68 L55.07,331.98 L55.53,337.78 L55.98,337.8 L56.44,338.58 L56.9,337.73 L57.35,337.49 L57.81,338.67 L58.26,335.52 L58.72,334.85 L59.18,334.9 L59.63,335.06 L60.09,334.63 L60.54,335.49 L60.55,334.42 L60.55,368.95 Z" fill="#3f8ec8" stroke="#3f8ec8" stroke-width="1.0" stroke-linejoin="round"/>
<g fill="#fff" fill-opacity="0.85"><circle cx="42.31" cy="345.03" r="0.65"/><circle cx="47.78" cy="341.62" r="0.65"/><circle cx="49.6" cy="343.09" r="0.76"/><circle cx="52.34" cy="339.94" r="0.79"/></g>
<g fill="#3f8ec8"><circle cx="38.25" cy="339.89" r="1.25"/><circle cx="41.1" cy="339.57" r="1.25"/><circle cx="45.01" cy="338.42" r="1.25"/><circle cx="47.86" cy="338.34" r="1.25"/><circle cx="48.98" cy="338.58" r="1.25"/><circle cx="50.4" cy="338.59" r="1.25"/><circle cx="51.6" cy="337.9" r="1.25"/><circle cx="53.32" cy="332.6" r="1.25"/><circle cx="55.69" cy="336.74" r="1.25"/><circle cx="57.3" cy="337.16" r="1.25"/><circle cx="58.64" cy="333.87" r="1.25"/><circle cx="59.85" cy="333.91" r="1.25"/><circle cx="45.8" cy="334.49" r="1.25"/><circle cx="45.8" cy="335.66" r="1.25"/><circle cx="49.4" cy="330.8" r="1.25"/></g>
<path d="M61.85,368.95 L61.85,335.59 L61.85,336.46 L62.31,336.36 L62.76,336.49 L63.21,335.34 L63.66,336.88 L64.12,336.11 L64.57,335.67 L65.02,336.36 L65.47,336.05 L65.93,336.35 L66.38,336.1 L66.83,340.62 L67.28,338.7 L67.74,339.52 L68.19,339.35 L68.64,338.91 L69.09,339.07 L69.55,336.89 L70,339.56 L70.45,338.33 L70.91,339.08 L71.36,340.05 L71.81,339.76 L72.26,336.21 L72.72,337.16 L73.17,334.09 L73.62,337.12 L74.07,337.74 L74.53,337.25 L74.98,337.57 L75.43,338.39 L75.88,338.95 L76.34,336.95 L76.79,341.88 L77.24,340.73 L77.69,341.68 L78.15,341.63 L78.6,341.25 L79.05,341.78 L79.51,341.96 L79.96,341.07 L80.41,340.88 L80.86,341.69 L81.32,341.41 L81.77,335.91 L82.22,335.46 L82.67,335.23 L83.13,335.31 L83.58,336.25 L84.03,336.34 L84.48,335.97 L84.94,335.64 L85.39,335.82 L85.84,335.55 L86.29,335.61 L86.75,334.15 L86.75,334.29 L86.75,368.95 Z" fill="#e9ae3a" stroke="#e9ae3a" stroke-width="1.0" stroke-linejoin="round"/>
<g fill="#fff" fill-opacity="0.85"><circle cx="65.02" cy="338.61" r="0.72"/><circle cx="66.83" cy="345.16" r="0.8"/><circle cx="69.55" cy="339.18" r="0.76"/><circle cx="72.26" cy="339.32" r="0.47"/><circle cx="74.07" cy="340.9" r="0.59"/><circle cx="75.88" cy="341.08" r="0.79"/><circle cx="76.79" cy="346.24" r="0.59"/><circle cx="78.6" cy="344.69" r="0.49"/><circle cx="83.13" cy="337.35" r="0.64"/></g>
<g fill="#e9ae3a"><circle cx="63.88" cy="335.57" r="1.25"/><circle cx="65.4" cy="335.86" r="1.25"/><circle cx="66.62" cy="339.58" r="1.25"/><circle cx="67.99" cy="339.02" r="1.25"/><circle cx="69.54" cy="336.61" r="1.25"/><circle cx="70.83" cy="337.99" r="1.25"/><circle cx="76.11" cy="335.84" r="1.25"/><circle cx="79.19" cy="340.99" r="1.25"/><circle cx="80.13" cy="340.64" r="1.25"/><circle cx="81.71" cy="335.82" r="1.25"/><circle cx="84.47" cy="335.61" r="1.25"/><circle cx="85.97" cy="334.69" r="1.25"/><circle cx="86.85" cy="334" r="1.25"/><circle cx="73.3" cy="328.61" r="1.25"/><circle cx="74.7" cy="332.92" r="1.25"/><circle cx="75.5" cy="334.49" r="1.25"/></g>
<path d="M88.25,368.95 L88.25,335.19 L88.26,335.5 L88.71,336.95 L89.17,335.58 L89.63,337.38 L90.09,337.19 L90.54,337.92 L91,337.99 L91.46,337.96 L91.92,336.74 L92.37,336.1 L92.83,336.33 L93.29,335.22 L93.75,336.22 L94.2,336.25 L94.66,334.17 L95.12,334.52 L95.58,336.18 L96.03,334.6 L96.49,335.27 L96.95,333.44 L97.41,333.82 L97.86,334.76 L98.32,333.51 L98.78,335.09 L99.24,334.78 L99.69,333.42 L100.15,333.42 L100.61,330.73 L101.07,334.12 L101.52,333.94 L101.98,338.25 L102.44,337.49 L102.9,338.52 L103.35,336.93 L103.81,338.37 L104.27,338.58 L104.73,337.92 L105.18,335.67 L105.64,335.08 L106.1,333.99 L106.56,335.73 L107.01,339.07 L107.47,338.42 L107.93,337.6 L108.39,337.47 L108.84,337.34 L108.85,337.52 L108.85,368.95 Z" fill="#4b3f96" stroke="#4b3f96" stroke-width="1.0" stroke-linejoin="round"/>
<g fill="#fff" fill-opacity="0.85"><circle cx="90.54" cy="343.12" r="0.64"/><circle cx="94.2" cy="339.65" r="0.54"/><circle cx="96.95" cy="338.38" r="0.72"/><circle cx="97.86" cy="337.02" r="0.65"/><circle cx="108.84" cy="339.45" r="0.49"/></g>
<g fill="#4b3f96"><circle cx="88" cy="335.1" r="1.25"/><circle cx="89.33" cy="334.9" r="1.25"/><circle cx="91.78" cy="335.65" r="1.25"/><circle cx="94.76" cy="333.28" r="1.25"/><circle cx="104.51" cy="337.97" r="1.25"/><circle cx="105.67" cy="333.94" r="1.25"/><circle cx="106.95" cy="339.07" r="1.25"/><circle cx="108.62" cy="336.7" r="1.25"/><circle cx="99.9" cy="331.2" r="1.25"/></g>
<path d="M110.05,368.95 L110.05,335.56 L110.05,336.01 L110.5,334.03 L110.96,334.57 L111.41,334.79 L111.86,335.29 L112.31,336.42 L112.77,336.92 L113.22,336.63 L113.67,335.04 L114.12,334.63 L114.57,334.53 L115.03,339.13 L115.48,338.54 L115.93,338.79 L116.38,338.26 L116.83,338.17 L117.29,337.21 L117.74,338.18 L118.19,339.44 L118.64,338.36 L119.1,339.12 L119.55,337.81 L120,338.83 L120.45,339.2 L120.9,337.62 L121.36,339.1 L121.81,335.8 L122.26,336.22 L122.71,335.88 L123.17,337.03 L123.62,335.62 L124.07,335.38 L124.52,336.14 L124.97,334.16 L125.43,334.96 L125.88,334.12 L126.33,336.02 L126.78,334.6 L127.23,334.86 L127.69,333.74 L128.14,334.37 L128.59,334.32 L129.04,334.54 L129.5,335.1 L129.95,335.42 L129.95,333.58 L129.95,368.95 Z" fill="#3d4a23" stroke="#3d4a23" stroke-width="1.0" stroke-linejoin="round"/>
<g fill="#fff" fill-opacity="0.85"><circle cx="110.05" cy="339.78" r="0.7"/><circle cx="110.5" cy="339.62" r="0.6"/><circle cx="114.12" cy="338.95" r="0.46"/><circle cx="116.83" cy="341.53" r="0.61"/><circle cx="125.88" cy="340.46" r="0.48"/></g>
<g fill="#3d4a23"><circle cx="110.33" cy="334.58" r="1.25"/><circle cx="112.57" cy="336.15" r="1.25"/><circle cx="114.98" cy="338.91" r="1.25"/><circle cx="116.31" cy="337.37" r="1.25"/><circle cx="119.38" cy="338.51" r="1.25"/><circle cx="121.89" cy="335.67" r="1.25"/><circle cx="123.15" cy="336.59" r="1.25"/><circle cx="127.09" cy="334.19" r="1.25"/><circle cx="116.1" cy="333.7" r="1.25"/><circle cx="119.2" cy="330.8" r="1.25"/><circle cx="123.1" cy="331.59" r="1.25"/><circle cx="125.5" cy="327.43" r="1.25"/><circle cx="127.9" cy="333.7" r="1.25"/></g>
<path d="M131.15,368.95 L131.15,337.95 L131.16,338.7 L131.62,338.67 L132.08,339.35 L132.54,338.02 L133,338.32 L133.45,338.24 L133.91,338.43 L134.37,338.04 L134.83,338.47 L135.29,338.04 L135.75,339.7 L136.21,336.24 L136.67,338.45 L137.13,338.86 L137.59,339.08 L138.05,339.33 L138.5,337.33 L138.96,338.15 L139.42,338.15 L139.88,339.37 L140.34,337.44 L140.8,338.87 L141.26,338.01 L141.72,338.39 L142.18,337.15 L142.64,337.9 L143.1,337.67 L143.55,338.55 L144.01,337.17 L144.47,337.65 L144.93,337.4 L145.39,336.14 L145.85,335.95 L146.31,336.14 L146.77,336.49 L147.23,332.43 L147.69,335.4 L148.15,336.17 L148.6,337.25 L149.06,334.89 L149.52,335.87 L149.98,335.87 L150.44,334.84 L150.45,336.89 L150.45,368.95 Z" fill="#c7226e" stroke="#c7226e" stroke-width="1.0" stroke-linejoin="round"/>
<g fill="#fff" fill-opacity="0.85"><circle cx="137.13" cy="341.78" r="0.69"/><circle cx="138.96" cy="344.8" r="0.5"/><circle cx="139.88" cy="341.76" r="0.61"/><circle cx="142.64" cy="343.14" r="0.49"/><circle cx="146.31" cy="341.49" r="0.49"/></g>
<g fill="#c7226e"><circle cx="133.62" cy="338.12" r="1.25"/><circle cx="134.58" cy="337.84" r="1.25"/><circle cx="138.99" cy="337.83" r="1.25"/><circle cx="141.73" cy="338.15" r="1.25"/><circle cx="144.72" cy="336.91" r="1.25"/><circle cx="145.87" cy="335" r="1.25"/><circle cx="147.49" cy="332.36" r="1.25"/><circle cx="148.86" cy="336.73" r="1.25"/><circle cx="134.5" cy="332.53" r="1.25"/><circle cx="142.6" cy="330.33" r="1.25"/><circle cx="148.3" cy="329.94" r="1.25"/><circle cx="139.3" cy="335.66" r="1.25"/></g>
<path d="M151.65,368.95 L151.65,334.2 L151.66,334.64 L152.12,335.6 L152.58,335.66 L153.03,336.36 L153.49,335.09 L153.95,335.14 L154.41,335.44 L154.87,335.24 L155.33,333.64 L155.79,333.27 L156.24,336.1 L156.7,334.19 L157.16,334.29 L157.62,337.85 L158.08,337.98 L158.54,337.91 L159,337.83 L159.45,337.64 L159.91,338.64 L160.37,338.09 L160.83,338.05 L161.29,337.15 L161.75,338.64 L162.2,337.35 L162.66,337.22 L163.12,338.06 L163.58,336.3 L164.04,337.81 L164.5,338.88 L164.96,337.8 L165.41,337.72 L165.87,338.54 L166.33,336.89 L166.79,337.26 L167.25,336.95 L167.71,336.46 L168.17,336.73 L168.62,337.06 L169.08,337.87 L169.54,337.72 L169.55,337.15 L169.55,368.95 Z" fill="#e0642b" stroke="#e0642b" stroke-width="1.0" stroke-linejoin="round"/>
<g fill="#fff" fill-opacity="0.85"><circle cx="151.65" cy="338.17" r="0.6"/><circle cx="153.03" cy="339.7" r="0.74"/><circle cx="153.95" cy="339.62" r="0.53"/><circle cx="156.7" cy="339.58" r="0.59"/><circle cx="162.2" cy="341.75" r="0.48"/><circle cx="165.87" cy="342.92" r="0.61"/><circle cx="167.71" cy="339.73" r="0.61"/><circle cx="168.62" cy="342.19" r="0.54"/></g>
<g fill="#e0642b"><circle cx="152.45" cy="335.49" r="1.25"/><circle cx="153.91" cy="334.96" r="1.25"/><circle cx="155.36" cy="333.64" r="1.25"/><circle cx="159.2" cy="336.56" r="1.25"/><circle cx="160.56" cy="338.05" r="1.25"/><circle cx="164.93" cy="336.86" r="1.25"/><circle cx="153.6" cy="330.8" r="1.25"/><circle cx="156.6" cy="332.92" r="1.25"/><circle cx="168" cy="333.7" r="1.25"/></g>
<path d="M170.75,368.95 L170.75,339.06 L170.76,339.53 L171.22,338.77 L171.68,338.15 L172.14,338.27 L172.59,338.52 L173.05,339.42 L173.51,338.46 L173.97,338.96 L174.43,338.72 L174.89,338.51 L175.35,338.89 L175.81,339.09 L176.27,339.1 L176.73,338.92 L177.18,336.85 L177.64,338.12 L178.1,338.56 L178.56,338.27 L179.02,337.41 L179.48,337.78 L179.94,337.4 L180.4,337.39 L180.86,335.99 L181.32,335.73 L181.77,336.23 L182.23,337.84 L182.69,337.02 L183.15,337.08 L183.61,335.32 L184.07,337.67 L184.53,337.27 L184.99,337.4 L185.45,337.72 L185.91,337.93 L186.36,338.65 L186.82,336.68 L187.28,338.24 L187.74,337.08 L187.75,338.98 L187.75,368.95 Z" fill="#c77db4" stroke="#c77db4" stroke-width="1.0" stroke-linejoin="round"/>
<g fill="#fff" fill-opacity="0.85"><circle cx="173.05" cy="342.6" r="0.61"/><circle cx="173.97" cy="341.3" r="0.54"/><circle cx="186.82" cy="338.68" r="0.65"/><circle cx="187.74" cy="339.07" r="0.56"/></g>
<g fill="#c77db4"><circle cx="177.05" cy="336.65" r="1.25"/><circle cx="178.69" cy="338.07" r="1.25"/><circle cx="179.82" cy="337.39" r="1.25"/><circle cx="179.4" cy="328.61" r="1.25"/><circle cx="172.8" cy="332.14" r="1.25"/><circle cx="185.5" cy="332.53" r="1.25"/><circle cx="182.5" cy="335.27" r="1.25"/></g>
<path d="M188.95,368.95 L188.95,338.26 L188.96,337.91 L189.42,337.13 L189.88,337.25 L190.34,336.91 L190.8,338 L191.26,337.26 L191.72,337.31 L192.18,336.52 L192.64,336.93 L193.09,337.83 L193.55,337.04 L194.01,337.29 L194.47,335.74 L194.93,338.85 L195.39,338.46 L195.85,338.83 L196.31,338.89 L196.77,337.45 L197.23,338.27 L197.69,338.15 L198.15,338.09 L198.61,335.69 L199.07,337.43 L199.53,337.18 L199.99,336.41 L200.45,336.59 L200.91,334.57 L201.36,337.44 L201.82,336.66 L202.28,336.73 L202.74,336.52 L203.2,336.69 L203.66,336.12 L204.12,336.7 L204.58,335.97 L205.04,334.45 L205.05,335.26 L205.05,368.95 Z" fill="#7fc8a6" stroke="#7fc8a6" stroke-width="1.0" stroke-linejoin="round"/>
<g fill="#fff" fill-opacity="0.85"><circle cx="193.09" cy="340.36" r="0.5"/><circle cx="197.69" cy="341.49" r="0.67"/><circle cx="199.53" cy="341.6" r="0.54"/><circle cx="200.45" cy="342.25" r="0.49"/></g>
<g fill="#7fc8a6"><circle cx="188.97" cy="337.36" r="1.25"/><circle cx="196.86" cy="336.87" r="1.25"/><circle cx="199.42" cy="336.05" r="1.25"/><circle cx="200.72" cy="334.52" r="1.25"/><circle cx="203.85" cy="335.77" r="1.25"/><circle cx="205.08" cy="333.66" r="1.25"/><circle cx="193.9" cy="318.81" r="1.25"/><circle cx="193.9" cy="320.38" r="1.25"/><circle cx="193.9" cy="321.94" r="1.25"/><circle cx="193.9" cy="325.47" r="1.25"/><circle cx="193.9" cy="328.61" r="1.25"/><circle cx="193.9" cy="333.31" r="1.25"/><circle cx="198.3" cy="325.08" r="1.25"/><circle cx="198.3" cy="329" r="1.25"/><circle cx="198.3" cy="333.31" r="1.25"/></g>
<path d="M206.25,368.95 L206.25,333.68 L206.26,334.03 L206.73,332.23 L207.19,333.32 L207.65,332.09 L208.11,332.61 L208.58,334.46 L209.04,333.7 L209.5,333.03 L209.97,333.21 L210.43,333.96 L210.89,333.29 L211.35,333.11 L211.82,334.53 L212.28,334.62 L212.74,346.51 L213.21,346.43 L213.67,346.61 L214.13,345.13 L214.59,334.92 L215.06,332.2 L215.52,333.38 L215.98,334.99 L216.45,334.86 L216.91,334.22 L217.37,334.03 L217.83,334.11 L218.3,334.42 L218.76,336.59 L219.22,338.55 L219.69,336.32 L220.15,338.57 L220.61,338.25 L221.07,337.4 L221.54,334.58 L221.55,339.01 L221.55,368.95 Z" fill="#731730" stroke="#731730" stroke-width="1.0" stroke-linejoin="round"/>
<g fill="#fff" fill-opacity="0.85"><circle cx="217.83" cy="338.03" r="0.5"/><circle cx="218.76" cy="341.79" r="0.57"/><circle cx="220.61" cy="340.32" r="0.69"/></g>
<rect x="212.8" y="313.32" width="1.1" height="45.47" rx="0.5" fill="#fff"/>
<g fill="#731730"><circle cx="208.53" cy="333.61" r="1.25"/><circle cx="209.73" cy="332.96" r="1.25"/><circle cx="211.62" cy="331.99" r="1.25"/><circle cx="212.61" cy="346.02" r="1.25"/><circle cx="215.75" cy="333.18" r="1.25"/><circle cx="218.13" cy="333.88" r="1.25"/><circle cx="220.96" cy="337.05" r="1.25"/></g>
<path d="M222.75,368.95 L222.75,333.24 L222.75,333.76 L223.2,333.6 L223.65,333.26 L224.11,334.16 L224.56,333.58 L225.01,334.34 L225.46,332.88 L225.91,332.9 L226.36,334.5 L226.81,332.74 L227.27,332.23 L227.72,332.18 L228.17,331.7 L228.62,331.33 L229.07,331.43 L229.52,332.95 L229.97,333.15 L230.43,333.22 L230.88,333.76 L231.33,333.54 L231.78,334.38 L232.23,333.37 L232.68,333.92 L233.13,334.56 L233.59,333.16 L234.04,333.61 L234.49,334.4 L234.94,334.91 L235.39,333.89 L235.84,333.57 L236.29,333.8 L236.75,332.01 L237.2,336.9 L237.65,337.17 L237.65,337.33 L237.65,368.95 Z" fill="#2c6c52" stroke="#2c6c52" stroke-width="1.0" stroke-linejoin="round"/>
<g fill="#fff" fill-opacity="0.85"><circle cx="222.75" cy="338.07" r="0.78"/><circle cx="224.11" cy="337.07" r="0.67"/><circle cx="225.01" cy="336.3" r="0.58"/><circle cx="227.72" cy="336.77" r="0.69"/><circle cx="235.84" cy="336.06" r="0.75"/><circle cx="237.65" cy="343.33" r="0.66"/></g>
<g fill="#2c6c52"><circle cx="223.43" cy="332.8" r="1.25"/><circle cx="226.15" cy="333.51" r="1.25"/><circle cx="227.72" cy="331.06" r="1.25"/><circle cx="230.35" cy="332.93" r="1.25"/><circle cx="233.36" cy="333.49" r="1.25"/><circle cx="236.09" cy="332.71" r="1.25"/><circle cx="224.8" cy="328.22" r="1.25"/></g>
<path d="M238.85,368.95 L238.85,334.61 L238.86,335.14 L239.33,336 L239.79,335.03 L240.25,333.63 L240.72,334.75 L241.18,334.95 L241.65,335.71 L242.11,335.33 L242.57,335.01 L243.04,336.55 L243.5,335.34 L243.96,334.22 L244.43,330.8 L244.89,331.17 L245.35,330.96 L245.82,331.78 L246.28,331.51 L246.75,331.35 L247.21,329.54 L247.67,329.91 L248.14,330.09 L248.6,337.28 L249.06,336.35 L249.53,337.57 L249.99,338.18 L250.45,337.09 L250.92,336.52 L251.38,337.57 L251.85,337.39 L252.31,337.43 L252.77,335.99 L253.24,338.49 L253.25,337.22 L253.25,368.95 Z" fill="#3f8ec8" stroke="#3f8ec8" stroke-width="1.0" stroke-linejoin="round"/>
<g fill="#fff" fill-opacity="0.85"><circle cx="238.85" cy="337.56" r="0.65"/><circle cx="240.25" cy="336.76" r="0.58"/><circle cx="247.67" cy="333.71" r="0.47"/></g>
<g fill="#3f8ec8"><circle cx="238.63" cy="334.31" r="1.25"/><circle cx="239.61" cy="334.16" r="1.25"/><circle cx="240.96" cy="334.22" r="1.25"/><circle cx="249.46" cy="337.07" r="1.25"/><circle cx="250.88" cy="335.45" r="1.25"/><circle cx="246" cy="249.03" r="1.25"/><circle cx="246" cy="250.6" r="1.25"/><circle cx="246" cy="252.17" r="1.25"/><circle cx="246" cy="258.44" r="1.25"/><circle cx="246" cy="260.01" r="1.25"/><circle cx="246" cy="261.58" r="1.25"/><circle cx="246" cy="263.93" r="1.25"/><circle cx="246" cy="266.28" r="1.25"/><circle cx="246" cy="267.85" r="1.25"/><circle cx="246" cy="270.59" r="1.25"/><circle cx="246" cy="281.57" r="1.25"/><circle cx="246" cy="283.53" r="1.25"/><circle cx="246" cy="287.45" r="1.25"/><circle cx="246" cy="291.37" r="1.25"/><circle cx="246" cy="304.38" r="1.25"/><circle cx="246" cy="306.03" r="1.25"/><circle cx="246" cy="307.6" r="1.25"/><circle cx="246" cy="313.32" r="1.25"/><circle cx="246" cy="314.89" r="1.25"/><circle cx="246" cy="318.02" r="1.25"/><circle cx="246" cy="320.38" r="1.25"/><circle cx="251.9" cy="332.92" r="1.25"/><circle cx="252.2" cy="332.92" r="1.25"/><circle cx="246" cy="332.14" r="1.25"/><circle cx="246" cy="330.72" r="1.25"/><circle cx="246" cy="329.31" r="1.25"/><circle cx="246" cy="327.9" r="1.25"/><circle cx="246" cy="326.49" r="1.25"/><circle cx="246" cy="325.08" r="1.25"/><circle cx="246" cy="323.67" r="1.25"/><circle cx="246" cy="322.26" r="1.25"/></g>
<path d="M254.45,368.95 L254.45,336.32 L254.46,336.3 L254.91,335.1 L255.37,335.6 L255.82,336.15 L256.28,335.18 L256.74,335.68 L257.19,336.58 L257.65,336.19 L258.1,336.4 L258.56,335.38 L259.01,336.27 L259.47,334.77 L259.93,335.59 L260.38,334.71 L260.84,336.11 L261.29,337.14 L261.75,334.98 L262.21,336.15 L262.66,336.71 L263.12,337.83 L263.57,336.21 L264.03,337.98 L264.49,337.48 L264.94,336.56 L265.4,337.27 L265.85,337.64 L266.31,336.21 L266.76,336.15 L267.22,333.85 L267.68,336.91 L268.13,336.31 L268.59,336.61 L269.04,337.09 L269.05,337.22 L269.05,368.95 Z" fill="#e9ae3a" stroke="#e9ae3a" stroke-width="1.0" stroke-linejoin="round"/>
<g fill="#fff" fill-opacity="0.85"><circle cx="254.91" cy="341.2" r="0.75"/><circle cx="255.82" cy="339.54" r="0.62"/><circle cx="256.74" cy="338.63" r="0.59"/><circle cx="257.65" cy="338.83" r="0.66"/></g>
<g fill="#e9ae3a"><circle cx="256.76" cy="335.04" r="1.25"/><circle cx="258.38" cy="335.77" r="1.25"/><circle cx="260.91" cy="335.31" r="1.25"/><circle cx="262.13" cy="335.36" r="1.25"/><circle cx="264.82" cy="335.59" r="1.25"/><circle cx="266.08" cy="335.83" r="1.25"/><circle cx="256.6" cy="329" r="1.25"/><circle cx="256.6" cy="330.18" r="1.25"/><circle cx="264" cy="329" r="1.25"/></g>
<path d="M272.45,368.95 L272.45,333.5 L272.47,333.04 L272.93,332.72 L273.4,332.79 L273.87,332.74 L274.33,332.89 L274.8,332.47 L275.27,334.14 L275.73,332.89 L276.2,333.04 L276.67,337.68 L277.13,338.24 L277.6,338.09 L278.07,337.41 L278.53,337.62 L279,337.78 L279.47,336.45 L279.93,339.37 L280.4,339.89 L280.87,339.16 L281.33,339.48 L281.8,340.66 L282.27,341.07 L282.73,339.34 L282.75,339.56 L282.75,368.95 Z" fill="#4b3f96" stroke="#4b3f96" stroke-width="1.0" stroke-linejoin="round"/>
<g fill="#fff" fill-opacity="0.85"><circle cx="275.73" cy="337.95" r="0.72"/><circle cx="279.47" cy="339.66" r="0.59"/><circle cx="280.4" cy="342.2" r="0.79"/></g>
<g fill="#4b3f96"><circle cx="272.68" cy="332.44" r="1.25"/><circle cx="277.46" cy="337.52" r="1.25"/><circle cx="278.84" cy="336.66" r="1.25"/><circle cx="282.56" cy="339.54" r="1.25"/><circle cx="281.5" cy="328.61" r="1.25"/><circle cx="281.5" cy="335.27" r="1.25"/></g>
<path d="M285.85,368.95 L285.85,341.76 L285.85,341.46 L286.3,342.25 L286.76,342.57 L287.21,342.36 L287.66,342.34 L288.11,342.9 L288.56,342.95 L289.02,342.03 L289.47,339.77 L289.92,340.35 L290.37,339.12 L290.82,340.06 L291.28,339.18 L291.73,340.72 L292.18,340.42 L292.63,341.95 L293.08,341.13 L293.54,341.52 L293.99,341.12 L294.44,339.95 L294.89,339.94 L295.34,340.3 L295.8,339.23 L296.25,339.7 L296.25,339.66 L296.25,368.95 Z" fill="#3d4a23" stroke="#3d4a23" stroke-width="1.0" stroke-linejoin="round"/>
<g fill="#fff" fill-opacity="0.85"><circle cx="287.21" cy="345.03" r="0.5"/><circle cx="289.02" cy="345.48" r="0.5"/><circle cx="290.82" cy="343.13" r="0.66"/><circle cx="292.63" cy="346.64" r="0.64"/></g>
<g fill="#3d4a23"><circle cx="285.72" cy="341.08" r="1.25"/><circle cx="288.02" cy="342.07" r="1.25"/><circle cx="290.82" cy="339.49" r="1.25"/><circle cx="292.16" cy="340.28" r="1.25"/><circle cx="294.7" cy="325.47" r="1.25"/><circle cx="294.7" cy="327.43" r="1.25"/><circle cx="294.7" cy="332.53" r="1.25"/><circle cx="294.7" cy="335.27" r="1.25"/></g>
<path d="M299.55,368.95 L299.55,337.83 L299.57,339.4 L300.04,338.64 L300.51,339.3 L300.99,339.42 L301.46,339.04 L301.93,338.78 L302.4,338.43 L302.87,339.24 L303.34,337.87 L303.81,339.34 L304.29,339.13 L304.76,337.95 L305.23,336.89 L305.7,338.11 L306.17,336.99 L306.64,337.1 L307.11,336.38 L307.59,337.08 L308.06,338.32 L308.53,336.89 L308.55,337.04 L308.55,368.95 Z" fill="#c7226e" stroke="#c7226e" stroke-width="1.0" stroke-linejoin="round"/>
<g fill="#fff" fill-opacity="0.85"><circle cx="302.87" cy="341.83" r="0.77"/></g>
<g fill="#c7226e"><circle cx="301.7" cy="338.6" r="1.25"/><circle cx="303.29" cy="337.01" r="1.25"/><circle cx="307.44" cy="336.72" r="1.25"/><circle cx="308.4" cy="337.01" r="1.25"/><circle cx="306.6" cy="329.78" r="1.25"/></g>
<path d="M310.35,368.95 L310.35,336.97 L310.35,336.89 L310.8,337.16 L311.25,336.97 L311.7,336.56 L312.15,334.52 L312.6,336.53 L313.05,335.36 L313.5,336.49 L313.95,335.31 L314.4,336.66 L314.85,336.95 L315.3,334.95 L315.75,335.52 L316.2,339.81 L316.65,339.9 L317.1,340.15 L317.55,338.69 L318,339.85 L318.45,339.23 L318.9,339.35 L319.35,339.43 L319.8,339.66 L320.25,338.63 L320.25,339.36 L320.25,368.95 Z" fill="#e0642b" stroke="#e0642b" stroke-width="1.0" stroke-linejoin="round"/>
<g fill="#fff" fill-opacity="0.85"><circle cx="311.7" cy="341.73" r="0.74"/><circle cx="318" cy="346.22" r="0.63"/><circle cx="318.9" cy="345.94" r="0.67"/><circle cx="319.8" cy="345.6" r="0.67"/></g>
<g fill="#e0642b"><circle cx="310.16" cy="336.05" r="1.25"/><circle cx="311.13" cy="336.88" r="1.25"/><circle cx="314.19" cy="335.17" r="1.25"/><circle cx="315.24" cy="334.7" r="1.25"/><circle cx="319.2" cy="329.24" r="1.25"/></g>
<path d="M321.85,368.95 L321.85,338.78 L321.85,339.04 L322.31,339.2 L322.76,339.07 L323.22,338.13 L323.67,332.83 L324.13,332.59 L324.58,333.13 L325.04,337.37 L325.49,338.61 L325.95,337.36 L326.4,337.54 L326.85,338.34 L327.31,339.11 L327.76,338.77 L328.22,339.03 L328.67,338.91 L329.13,338.93 L329.58,338.92 L330.04,339.51 L330.49,338.47 L330.95,338.91 L330.95,339.63 L330.95,368.95 Z" fill="#c77db4" stroke="#c77db4" stroke-width="1.0" stroke-linejoin="round"/>
<g fill="#fff" fill-opacity="0.85"><circle cx="321.85" cy="342.35" r="0.53"/><circle cx="322.31" cy="345.23" r="0.56"/><circle cx="324.13" cy="338.89" r="0.61"/><circle cx="325.95" cy="342.16" r="0.73"/><circle cx="327.76" cy="342.53" r="0.72"/><circle cx="329.58" cy="342.4" r="0.77"/><circle cx="330.95" cy="345.67" r="0.74"/></g>
<g fill="#c77db4"><circle cx="321.66" cy="338.12" r="1.25"/><circle cx="324.38" cy="331.5" r="1.25"/><circle cx="327" cy="337.87" r="1.25"/><circle cx="331.08" cy="338.44" r="1.25"/><circle cx="324.2" cy="330.33" r="1.25"/></g>
<path d="M332.45,368.95 L332.45,336.33 L332.46,336.76 L332.91,335.26 L333.37,335.32 L333.83,335.88 L334.29,332.08 L334.74,332.88 L335.2,332.39 L335.66,331.39 L336.11,336.08 L336.57,334.97 L337.03,335.2 L337.49,334.86 L337.94,335.68 L338.4,335.87 L338.86,335.88 L339.31,337.4 L339.77,337.62 L340.23,336.25 L340.69,336.09 L341.14,336.1 L341.15,336.26 L341.15,368.95 Z" fill="#7fc8a6" stroke="#7fc8a6" stroke-width="1.0" stroke-linejoin="round"/>
<g fill="#fff" fill-opacity="0.85"><circle cx="332.91" cy="341.14" r="0.65"/><circle cx="333.83" cy="341.99" r="0.49"/><circle cx="337.49" cy="337.52" r="0.67"/><circle cx="341.14" cy="341.47" r="0.79"/></g>
<g fill="#7fc8a6"><circle cx="332.18" cy="335.59" r="1.25"/><circle cx="334.6" cy="332.33" r="1.25"/><circle cx="335.93" cy="335.36" r="1.25"/><circle cx="340.05" cy="336" r="1.25"/><circle cx="341.43" cy="336.25" r="1.25"/></g>
<path d="M342.55,368.95 L342.55,338.17 L342.56,338.25 L343.03,337.98 L343.49,337.61 L343.96,335.39 L344.42,338.35 L344.89,338.09 L345.35,337.51 L345.82,337.21 L346.28,335.24 L346.75,338.43 L347.21,339.15 L347.68,339.49 L348.14,338.34 L348.61,338.47 L349.07,337.32 L349.54,337.95 L349.55,337.76 L349.55,368.95 Z" fill="#731730" stroke="#731730" stroke-width="1.0" stroke-linejoin="round"/>
<g fill="#fff" fill-opacity="0.85"><circle cx="343.03" cy="342.32" r="0.62"/><circle cx="343.96" cy="341.58" r="0.71"/><circle cx="344.89" cy="342.98" r="0.66"/><circle cx="348.61" cy="342.41" r="0.5"/></g>
<g fill="#731730"><circle cx="342.83" cy="337.11" r="1.25"/><circle cx="345.18" cy="337.11" r="1.25"/><circle cx="346.38" cy="335.16" r="1.25"/><circle cx="349.17" cy="336.34" r="1.25"/><circle cx="343.9" cy="329.24" r="1.25"/><circle cx="348.6" cy="329.78" r="1.25"/></g>
<path d="M351.15,368.95 L351.15,338.93 L351.15,338.37 L351.61,338.56 L352.06,339.64 L352.51,338.76 L352.96,338.46 L353.42,337.48 L353.87,338.25 L354.32,339.51 L354.77,338.09 L355.23,338.67 L355.68,339.26 L356.13,339.14 L356.58,338.24 L357.04,336.1 L357.49,336.32 L357.94,337.88 L358.39,336.83 L358.85,337.6 L358.85,336.81 L358.85,368.95 Z" fill="#2c6c52" stroke="#2c6c52" stroke-width="1.0" stroke-linejoin="round"/>
<g fill="#fff" fill-opacity="0.85"><circle cx="351.61" cy="343.44" r="0.56"/><circle cx="352.51" cy="341.6" r="0.49"/><circle cx="353.42" cy="339.62" r="0.79"/></g>
<g fill="#2c6c52"><circle cx="351.33" cy="338.01" r="1.25"/><circle cx="351.76" cy="338.69" r="1.25"/><circle cx="355.99" cy="339.03" r="1.25"/><circle cx="358.5" cy="324.3" r="1.25"/><circle cx="354.3" cy="332.14" r="1.25"/></g>
<path d="M361.55,368.95 L361.55,336.57 L361.57,337.49 L362.04,336.51 L362.51,336.03 L362.98,336.91 L363.45,336.79 L363.92,336.79 L364.38,335.48 L364.85,336.11 L365.32,337.43 L365.79,337.71 L366.26,338.12 L366.73,338.38 L366.75,337.56 L366.75,368.95 Z" fill="#3f8ec8" stroke="#3f8ec8" stroke-width="1.0" stroke-linejoin="round"/>
<g fill="#fff" fill-opacity="0.85"></g>
<g fill="#3f8ec8"><circle cx="364.7" cy="332.29" r="1.25"/></g>
<path d="M369.15,368.95 L369.15,338.41 L369.18,338.43 L369.65,337.9 L370.13,337.09 L370.61,336.96 L371.08,337.7 L371.56,338.32 L372.04,336.78 L372.52,336.55 L372.99,337.26 L373.47,336.66 L373.95,335.83 L374.42,337.55 L374.45,336.83 L374.45,368.95 Z" fill="#e9ae3a" stroke="#e9ae3a" stroke-width="1.0" stroke-linejoin="round"/>
<g fill="#fff" fill-opacity="0.85"><circle cx="370.61" cy="342.64" r="0.76"/><circle cx="374.42" cy="344.21" r="0.56"/></g>
<g fill="#e9ae3a"><circle cx="369.93" cy="335.98" r="1.25"/><circle cx="374.24" cy="336.4" r="1.25"/></g>
<line x1="32.5" y1="242.5" x2="32.5" y2="368.7" stroke="#333" stroke-width="0.9" />
<line x1="30.5" y1="368.2" x2="32.5" y2="368.2" stroke="#222" stroke-width="0.9" />
<text x="29" y="370.7" font-size="7.2" font-weight="bold" font-style="normal" fill="#222" text-anchor="end" >0</text>
<line x1="30.5" y1="329" x2="32.5" y2="329" stroke="#222" stroke-width="0.9" />
<text x="29" y="331.5" font-size="7.2" font-weight="bold" font-style="normal" fill="#222" text-anchor="end" >5</text>
<line x1="30.5" y1="289.8" x2="32.5" y2="289.8" stroke="#222" stroke-width="0.9" />
<text x="29" y="292.3" font-size="7.2" font-weight="bold" font-style="normal" fill="#222" text-anchor="end" >10</text>
<line x1="30.5" y1="250.6" x2="32.5" y2="250.6" stroke="#222" stroke-width="0.9" />
<text x="29" y="253.1" font-size="7.2" font-weight="bold" font-style="normal" fill="#222" text-anchor="end" >15</text>
<line x1="32.3" y1="373.5" x2="373.8" y2="373.5" stroke="#222" stroke-width="0.9" />
<line x1="32.7" y1="373.5" x2="32.7" y2="376.1" stroke="#222" stroke-width="0.9" />
<line x1="47.5" y1="373.5" x2="47.5" y2="375.8" stroke="#222" stroke-width="0.8" />
<text x="48.8" y="383.5" font-size="7.3" font-weight="bold" font-style="normal" fill="#222" text-anchor="middle" >1</text>
<line x1="74.4" y1="373.5" x2="74.4" y2="375.8" stroke="#222" stroke-width="0.8" />
<text x="75.7" y="383.5" font-size="7.3" font-weight="bold" font-style="normal" fill="#222" text-anchor="middle" >2</text>
<line x1="98.5" y1="373.5" x2="98.5" y2="375.8" stroke="#222" stroke-width="0.8" />
<text x="99.8" y="383.5" font-size="7.3" font-weight="bold" font-style="normal" fill="#222" text-anchor="middle" >3</text>
<line x1="120.2" y1="373.5" x2="120.2" y2="375.8" stroke="#222" stroke-width="0.8" />
<text x="121.5" y="383.5" font-size="7.3" font-weight="bold" font-style="normal" fill="#222" text-anchor="middle" >4</text>
<line x1="141" y1="373.5" x2="141" y2="375.8" stroke="#222" stroke-width="0.8" />
<text x="142.3" y="383.5" font-size="7.3" font-weight="bold" font-style="normal" fill="#222" text-anchor="middle" >5</text>
<line x1="161" y1="373.5" x2="161" y2="375.8" stroke="#222" stroke-width="0.8" />
<text x="162.3" y="383.5" font-size="7.3" font-weight="bold" font-style="normal" fill="#222" text-anchor="middle" >6</text>
<line x1="179.4" y1="373.5" x2="179.4" y2="375.8" stroke="#222" stroke-width="0.8" />
<text x="180.7" y="383.5" font-size="7.3" font-weight="bold" font-style="normal" fill="#222" text-anchor="middle" >7</text>
<line x1="197.2" y1="373.5" x2="197.2" y2="375.8" stroke="#222" stroke-width="0.8" />
<text x="198.5" y="383.5" font-size="7.3" font-weight="bold" font-style="normal" fill="#222" text-anchor="middle" >8</text>
<line x1="214" y1="373.5" x2="214" y2="375.8" stroke="#222" stroke-width="0.8" />
<text x="215.3" y="383.5" font-size="7.3" font-weight="bold" font-style="normal" fill="#222" text-anchor="middle" >9</text>
<line x1="230.5" y1="373.5" x2="230.5" y2="375.8" stroke="#222" stroke-width="0.8" />
<text x="231.8" y="383.5" font-size="7.3" font-weight="bold" font-style="normal" fill="#222" text-anchor="middle" >10</text>
<line x1="246.4" y1="373.5" x2="246.4" y2="375.8" stroke="#222" stroke-width="0.8" />
<text x="247.7" y="383.5" font-size="7.3" font-weight="bold" font-style="normal" fill="#222" text-anchor="middle" >11</text>
<line x1="262.2" y1="373.5" x2="262.2" y2="375.8" stroke="#222" stroke-width="0.8" />
<text x="263.5" y="383.5" font-size="7.3" font-weight="bold" font-style="normal" fill="#222" text-anchor="middle" >12</text>
<line x1="276.6" y1="373.5" x2="276.6" y2="375.8" stroke="#222" stroke-width="0.8" />
<text x="277.9" y="383.5" font-size="7.3" font-weight="bold" font-style="normal" fill="#222" text-anchor="middle" >13</text>
<line x1="290.4" y1="373.5" x2="290.4" y2="375.8" stroke="#222" stroke-width="0.8" />
<text x="291.7" y="383.5" font-size="7.3" font-weight="bold" font-style="normal" fill="#222" text-anchor="middle" >14</text>
<line x1="303.4" y1="373.5" x2="303.4" y2="375.8" stroke="#222" stroke-width="0.8" />
<text x="304.7" y="383.5" font-size="7.3" font-weight="bold" font-style="normal" fill="#222" text-anchor="middle" >15</text>
<line x1="315.4" y1="373.5" x2="315.4" y2="375.8" stroke="#222" stroke-width="0.8" />
<text x="316.7" y="383.5" font-size="7.3" font-weight="bold" font-style="normal" fill="#222" text-anchor="middle" >16</text>
<line x1="326.6" y1="373.5" x2="326.6" y2="375.8" stroke="#222" stroke-width="0.8" />
<text x="327.9" y="383.5" font-size="7.3" font-weight="bold" font-style="normal" fill="#222" text-anchor="middle" >17</text>
<line x1="336.6" y1="373.5" x2="336.6" y2="375.8" stroke="#222" stroke-width="0.8" />
<text x="337.9" y="383.5" font-size="7.3" font-weight="bold" font-style="normal" fill="#222" text-anchor="middle" >18</text>
<line x1="346.4" y1="373.5" x2="346.4" y2="375.8" stroke="#222" stroke-width="0.8" />
<text x="347.7" y="383.5" font-size="7.3" font-weight="bold" font-style="normal" fill="#222" text-anchor="middle" >19</text>
<line x1="355" y1="373.5" x2="355" y2="375.8" stroke="#222" stroke-width="0.8" />
<line x1="363.6" y1="373.5" x2="363.6" y2="375.8" stroke="#222" stroke-width="0.8" />
<text x="364.9" y="383.5" font-size="7.3" font-weight="bold" font-style="normal" fill="#222" text-anchor="middle" >21</text>
<line x1="370.6" y1="373.5" x2="370.6" y2="375.8" stroke="#222" stroke-width="0.8" />
<text x="34.9" y="383.5" font-size="7" font-weight="bold" font-style="normal" fill="#222" text-anchor="middle" >Chr</text>
<text transform="translate(16.3,307.3) rotate(-90)" font-size="15.4" text-anchor="middle" fill="#111">-log<tspan font-size="10.78" dy="4.31">10</tspan><tspan dy="-4.31">(</tspan><tspan font-style="italic">P</tspan>)</text>
<text x="212.6" y="246" font-size="10.6" font-weight="normal" font-style="italic" fill="#222" text-anchor="start" >FADS1/FADS2</text>
<path d="M351,257.2 L360,253.5 L366,250 L372.7,243 L372.7,251.7 L364,254 L356,256.5 L351,257.6 Z" fill="#9cc3e6" fill-opacity="0.85" stroke="none"/>
<line x1="302.4" y1="279.74" x2="381.6" y2="244.96" stroke="#d9534f" stroke-width="0.9" stroke-dasharray="2 1.5"/>
<polyline points="305.9,278.2 352,256.3 354.3,253.5 355.6,250.8 356.4,249" fill="none" stroke="#3a86c8" stroke-width="2.3" stroke-linecap="round" stroke-linejoin="round"/>
<g fill="#3a86c8"><circle cx="356.6" cy="246.6" r="1.0"/><circle cx="357" cy="242.5" r="1.0"/><circle cx="357" cy="241.6" r="1.0"/><circle cx="357.3" cy="234.2" r="1.0"/><circle cx="357.7" cy="229.6" r="1.0"/><circle cx="357.7" cy="228.2" r="1.0"/><circle cx="358.4" cy="221.3" r="1.0"/><circle cx="358.9" cy="219.5" r="1.0"/><circle cx="359.3" cy="218.6" r="1.0"/><circle cx="360.2" cy="216.7" r="1.0"/><circle cx="360.7" cy="214.9" r="1.0"/><circle cx="361" cy="214" r="1.0"/><circle cx="361.6" cy="210.7" r="1.0"/><circle cx="362.4" cy="210.6" r="1.0"/><circle cx="363.5" cy="210.5" r="1.0"/><circle cx="364.6" cy="210.3" r="1.0"/><circle cx="365.8" cy="210.1" r="1.0"/><circle cx="366.7" cy="210" r="1.0"/><circle cx="367.6" cy="210" r="1.0"/><circle cx="368.5" cy="209.9" r="1.0"/><circle cx="369.4" cy="209.8" r="1.0"/><circle cx="372.4" cy="208.9" r="1.0"/></g>
<rect x="302.4" y="202.4" width="79.2" height="78.1" fill="none" stroke="#777" stroke-width="0.9"/>
<line x1="300.6" y1="278.2" x2="302.4" y2="278.2" stroke="#666" stroke-width="0.7" />
<text transform="translate(299.2,278.2) rotate(-90)" font-size="4.6" text-anchor="middle" fill="#555">0</text>
<line x1="300.6" y1="255.3" x2="302.4" y2="255.3" stroke="#666" stroke-width="0.7" />
<text transform="translate(299.2,255.3) rotate(-90)" font-size="4.6" text-anchor="middle" fill="#555">5</text>
<line x1="300.6" y1="232.4" x2="302.4" y2="232.4" stroke="#666" stroke-width="0.7" />
<text transform="translate(299.2,232.4) rotate(-90)" font-size="4.6" text-anchor="middle" fill="#555">10</text>
<line x1="300.6" y1="209.5" x2="302.4" y2="209.5" stroke="#666" stroke-width="0.7" />
<text transform="translate(299.2,209.5) rotate(-90)" font-size="4.6" text-anchor="middle" fill="#555">15</text>
<line x1="305.9" y1="280.5" x2="305.9" y2="282.5" stroke="#666" stroke-width="0.7" />
<text x="305.9" y="289.1" font-size="4.6" font-weight="normal" font-style="normal" fill="#555" text-anchor="middle" >0</text>
<line x1="316.33" y1="280.5" x2="316.33" y2="282.5" stroke="#666" stroke-width="0.7" />
<text x="316.33" y="289.1" font-size="4.6" font-weight="normal" font-style="normal" fill="#555" text-anchor="middle" >1</text>
<line x1="326.76" y1="280.5" x2="326.76" y2="282.5" stroke="#666" stroke-width="0.7" />
<text x="326.76" y="289.1" font-size="4.6" font-weight="normal" font-style="normal" fill="#555" text-anchor="middle" >2</text>
<line x1="337.19" y1="280.5" x2="337.19" y2="282.5" stroke="#666" stroke-width="0.7" />
<text x="337.19" y="289.1" font-size="4.6" font-weight="normal" font-style="normal" fill="#555" text-anchor="middle" >3</text>
<line x1="347.62" y1="280.5" x2="347.62" y2="282.5" stroke="#666" stroke-width="0.7" />
<text x="347.62" y="289.1" font-size="4.6" font-weight="normal" font-style="normal" fill="#555" text-anchor="middle" >4</text>
<line x1="358.05" y1="280.5" x2="358.05" y2="282.5" stroke="#666" stroke-width="0.7" />
<text x="358.05" y="289.1" font-size="4.6" font-weight="normal" font-style="normal" fill="#555" text-anchor="middle" >5</text>
<line x1="368.48" y1="280.5" x2="368.48" y2="282.5" stroke="#666" stroke-width="0.7" />
<text x="368.48" y="289.1" font-size="4.6" font-weight="normal" font-style="normal" fill="#555" text-anchor="middle" >6</text>
<line x1="378.91" y1="280.5" x2="378.91" y2="282.5" stroke="#666" stroke-width="0.7" />
<text x="378.91" y="289.1" font-size="4.6" font-weight="normal" font-style="normal" fill="#555" text-anchor="middle" >7</text>
<text transform="translate(290.8,245.2) rotate(-90)" font-size="9.3" text-anchor="middle" fill="#444">Observed -log<tspan font-size="6" dy="2.6">10</tspan><tspan dy="-2.6">(</tspan><tspan font-style="italic">P</tspan>)</text>
<text x="343" y="298.5" font-size="9.1" text-anchor="middle" fill="#444">Expected -log<tspan font-size="6" dy="2.6">10</tspan><tspan dy="-2.6">(P)</tspan></text>
<text x="387.6" y="21.8" font-size="32" font-weight="bold" font-style="normal" fill="#111" text-anchor="start" >B</text>
<rect x="430.8" y="2.6" width="230.4" height="138.2" fill="#fff" stroke="#d0d0d0" stroke-width="1.3"/>
<line x1="430.8" y1="2.6" x2="430.8" y2="140.8" stroke="#a0a0a0" stroke-width="1" />
<line x1="661.2" y1="2.6" x2="661.2" y2="140.8" stroke="#8a8fa0" stroke-width="1.1" />
<polyline points="431,134.5 443.2,134.5 444.0,131 444.4,127 445,131 446,134.3 470.5,134.3 471,131 471.6,134.3 475,134.3 475.4,133 475.8,134.3 482.5,134.3 483,133 483.5,134.3 521,134.3 521.3,131 521.8,134.3 543,134.3 543.3,132.3 543.7,134.3 550.3,134.3 550.7,127.4 551.1,134.3 565,134.3 566,133.5 567,134.3 616.2,134.7 616.6,130.9 617.1,134.7 621.9,134.7 622,133.3 627.4,133.3 627.9,120 628.3,114.2 628.8,120 629.1,133.3 644,133.3 645,120.9 645.6,109.5 646.3,118 647.2,134.2 650,134.5 656,133.5 661,132.5" fill="none" stroke="#6d8fd0" stroke-width="0.8"/>
<circle cx="441" cy="41.8" r="1.45" fill="#262a5e" stroke="#15172e" stroke-width="0.35"/>
<circle cx="453.2" cy="39.2" r="1.45" fill="#262a5e" stroke="#15172e" stroke-width="0.35"/>
<circle cx="478.5" cy="58.3" r="1.45" fill="#262a5e" stroke="#15172e" stroke-width="0.35"/>
<circle cx="470.5" cy="61.3" r="1.45" fill="#262a5e" stroke="#15172e" stroke-width="0.35"/>
<circle cx="475.3" cy="61.3" r="1.45" fill="#262a5e" stroke="#15172e" stroke-width="0.35"/>
<circle cx="482.9" cy="62.7" r="1.45" fill="#262a5e" stroke="#15172e" stroke-width="0.35"/>
<circle cx="484.3" cy="62.4" r="1.45" fill="#262a5e" stroke="#15172e" stroke-width="0.35"/>
<circle cx="448.4" cy="65.2" r="1.45" fill="#262a5e" stroke="#15172e" stroke-width="0.35"/>
<circle cx="449.8" cy="65.4" r="1.45" fill="#262a5e" stroke="#15172e" stroke-width="0.35"/>
<circle cx="451.2" cy="66.3" r="1.45" fill="#262a5e" stroke="#15172e" stroke-width="0.35"/>
<circle cx="452.5" cy="66.8" r="1.45" fill="#262a5e" stroke="#15172e" stroke-width="0.35"/>
<circle cx="453.9" cy="67.3" r="1.45" fill="#262a5e" stroke="#15172e" stroke-width="0.35"/>
<circle cx="455.3" cy="66.3" r="1.45" fill="#262a5e" stroke="#15172e" stroke-width="0.35"/>
<circle cx="457.1" cy="65.4" r="1.45" fill="#262a5e" stroke="#15172e" stroke-width="0.35"/>
<circle cx="458.5" cy="64.5" r="1.45" fill="#262a5e" stroke="#15172e" stroke-width="0.35"/>
<circle cx="459.9" cy="65.1" r="1.45" fill="#262a5e" stroke="#15172e" stroke-width="0.35"/>
<circle cx="461.7" cy="65.4" r="1.45" fill="#262a5e" stroke="#15172e" stroke-width="0.35"/>
<circle cx="463.6" cy="65.2" r="1.45" fill="#262a5e" stroke="#15172e" stroke-width="0.35"/>
<circle cx="465.4" cy="65" r="1.45" fill="#262a5e" stroke="#15172e" stroke-width="0.35"/>
<circle cx="466.8" cy="64.8" r="1.45" fill="#262a5e" stroke="#15172e" stroke-width="0.35"/>
<circle cx="467.9" cy="64.2" r="1.45" fill="#262a5e" stroke="#15172e" stroke-width="0.35"/>
<circle cx="459.4" cy="68.5" r="1.45" fill="#262a5e" stroke="#15172e" stroke-width="0.35"/>
<circle cx="445" cy="73.7" r="1.45" fill="#262a5e" stroke="#15172e" stroke-width="0.35"/>
<circle cx="470.5" cy="74.4" r="1.45" fill="#262a5e" stroke="#15172e" stroke-width="0.35"/>
<circle cx="472.3" cy="74.8" r="1.45" fill="#262a5e" stroke="#15172e" stroke-width="0.35"/>
<circle cx="473.7" cy="75.1" r="1.45" fill="#262a5e" stroke="#15172e" stroke-width="0.35"/>
<circle cx="476.9" cy="75.1" r="1.45" fill="#262a5e" stroke="#15172e" stroke-width="0.35"/>
<circle cx="478.3" cy="74" r="1.45" fill="#262a5e" stroke="#15172e" stroke-width="0.35"/>
<circle cx="480.1" cy="73.7" r="1.45" fill="#262a5e" stroke="#15172e" stroke-width="0.35"/>
<circle cx="486.6" cy="71.2" r="1.45" fill="#262a5e" stroke="#15172e" stroke-width="0.35"/>
<circle cx="488.9" cy="71.2" r="1.45" fill="#262a5e" stroke="#15172e" stroke-width="0.35"/>
<circle cx="446.6" cy="78.3" r="1.45" fill="#262a5e" stroke="#15172e" stroke-width="0.35"/>
<circle cx="448.4" cy="78.8" r="1.45" fill="#262a5e" stroke="#15172e" stroke-width="0.35"/>
<circle cx="450.2" cy="79.2" r="1.45" fill="#262a5e" stroke="#15172e" stroke-width="0.35"/>
<circle cx="452.1" cy="79.2" r="1.45" fill="#262a5e" stroke="#15172e" stroke-width="0.35"/>
<circle cx="453.9" cy="78.9" r="1.45" fill="#262a5e" stroke="#15172e" stroke-width="0.35"/>
<circle cx="455.8" cy="78.8" r="1.45" fill="#262a5e" stroke="#15172e" stroke-width="0.35"/>
<circle cx="456.7" cy="78.3" r="1.45" fill="#262a5e" stroke="#15172e" stroke-width="0.35"/>
<circle cx="460.4" cy="78.8" r="1.45" fill="#262a5e" stroke="#15172e" stroke-width="0.35"/>
<circle cx="461.7" cy="78.3" r="1.45" fill="#262a5e" stroke="#15172e" stroke-width="0.35"/>
<circle cx="463.1" cy="78.8" r="1.45" fill="#262a5e" stroke="#15172e" stroke-width="0.35"/>
<circle cx="465" cy="78.3" r="1.45" fill="#262a5e" stroke="#15172e" stroke-width="0.35"/>
<circle cx="466.8" cy="79.2" r="1.45" fill="#262a5e" stroke="#15172e" stroke-width="0.35"/>
<circle cx="468.2" cy="78.3" r="1.45" fill="#262a5e" stroke="#15172e" stroke-width="0.35"/>
<circle cx="481.5" cy="83.2" r="1.45" fill="#262a5e" stroke="#15172e" stroke-width="0.35"/>
<circle cx="488.9" cy="79.7" r="1.45" fill="#262a5e" stroke="#15172e" stroke-width="0.35"/>
<circle cx="488.9" cy="84.3" r="1.45" fill="#262a5e" stroke="#15172e" stroke-width="0.35"/>
<circle cx="450.2" cy="87.5" r="1.45" fill="#262a5e" stroke="#15172e" stroke-width="0.35"/>
<circle cx="452.5" cy="86.6" r="1.45" fill="#262a5e" stroke="#15172e" stroke-width="0.35"/>
<circle cx="457.1" cy="85.2" r="1.45" fill="#262a5e" stroke="#15172e" stroke-width="0.35"/>
<circle cx="459.4" cy="86.1" r="1.45" fill="#262a5e" stroke="#15172e" stroke-width="0.35"/>
<circle cx="465.2" cy="86.1" r="1.45" fill="#262a5e" stroke="#15172e" stroke-width="0.35"/>
<circle cx="522.2" cy="48.4" r="1.45" fill="#262a5e" stroke="#15172e" stroke-width="0.35"/>
<circle cx="527.6" cy="48.4" r="1.45" fill="#262a5e" stroke="#15172e" stroke-width="0.35"/>
<circle cx="529.4" cy="48.2" r="1.45" fill="#262a5e" stroke="#15172e" stroke-width="0.35"/>
<circle cx="531.2" cy="48.4" r="1.45" fill="#262a5e" stroke="#15172e" stroke-width="0.35"/>
<circle cx="533.1" cy="48.9" r="1.45" fill="#262a5e" stroke="#15172e" stroke-width="0.35"/>
<circle cx="534.9" cy="48.4" r="1.45" fill="#262a5e" stroke="#15172e" stroke-width="0.35"/>
<circle cx="536.8" cy="48.2" r="1.45" fill="#262a5e" stroke="#15172e" stroke-width="0.35"/>
<circle cx="538.6" cy="47.9" r="1.45" fill="#262a5e" stroke="#15172e" stroke-width="0.35"/>
<circle cx="533.4" cy="58.8" r="1.45" fill="#262a5e" stroke="#15172e" stroke-width="0.35"/>
<circle cx="492.6" cy="62.2" r="1.45" fill="#262a5e" stroke="#15172e" stroke-width="0.35"/>
<circle cx="494.4" cy="61.7" r="1.45" fill="#262a5e" stroke="#15172e" stroke-width="0.35"/>
<circle cx="496.3" cy="61.6" r="1.45" fill="#262a5e" stroke="#15172e" stroke-width="0.35"/>
<circle cx="498.1" cy="61.7" r="1.45" fill="#262a5e" stroke="#15172e" stroke-width="0.35"/>
<circle cx="500" cy="61.6" r="1.45" fill="#262a5e" stroke="#15172e" stroke-width="0.35"/>
<circle cx="501.8" cy="61.7" r="1.45" fill="#262a5e" stroke="#15172e" stroke-width="0.35"/>
<circle cx="503.6" cy="61.5" r="1.45" fill="#262a5e" stroke="#15172e" stroke-width="0.35"/>
<circle cx="505.9" cy="61.3" r="1.45" fill="#262a5e" stroke="#15172e" stroke-width="0.35"/>
<circle cx="507.3" cy="61.7" r="1.45" fill="#262a5e" stroke="#15172e" stroke-width="0.35"/>
<circle cx="511.5" cy="61.7" r="1.45" fill="#262a5e" stroke="#15172e" stroke-width="0.35"/>
<circle cx="513.3" cy="61.3" r="1.45" fill="#262a5e" stroke="#15172e" stroke-width="0.35"/>
<circle cx="515.6" cy="60.4" r="1.45" fill="#262a5e" stroke="#15172e" stroke-width="0.35"/>
<circle cx="517.4" cy="59.9" r="1.45" fill="#262a5e" stroke="#15172e" stroke-width="0.35"/>
<circle cx="519.3" cy="60.4" r="1.45" fill="#262a5e" stroke="#15172e" stroke-width="0.35"/>
<circle cx="521.3" cy="60.8" r="1.45" fill="#262a5e" stroke="#15172e" stroke-width="0.35"/>
<circle cx="495.8" cy="65" r="1.45" fill="#262a5e" stroke="#15172e" stroke-width="0.35"/>
<circle cx="497.7" cy="65" r="1.45" fill="#262a5e" stroke="#15172e" stroke-width="0.35"/>
<circle cx="502.7" cy="64.8" r="1.45" fill="#262a5e" stroke="#15172e" stroke-width="0.35"/>
<circle cx="505" cy="65" r="1.45" fill="#262a5e" stroke="#15172e" stroke-width="0.35"/>
<circle cx="506.9" cy="65.4" r="1.45" fill="#262a5e" stroke="#15172e" stroke-width="0.35"/>
<circle cx="509.2" cy="65.4" r="1.45" fill="#262a5e" stroke="#15172e" stroke-width="0.35"/>
<circle cx="512.8" cy="65" r="1.45" fill="#262a5e" stroke="#15172e" stroke-width="0.35"/>
<circle cx="514.7" cy="65.4" r="1.45" fill="#262a5e" stroke="#15172e" stroke-width="0.35"/>
<circle cx="517" cy="66.1" r="1.45" fill="#262a5e" stroke="#15172e" stroke-width="0.35"/>
<circle cx="520.2" cy="65.4" r="1.45" fill="#262a5e" stroke="#15172e" stroke-width="0.35"/>
<circle cx="489.4" cy="70.9" r="1.45" fill="#262a5e" stroke="#15172e" stroke-width="0.35"/>
<circle cx="490.8" cy="71.4" r="1.45" fill="#262a5e" stroke="#15172e" stroke-width="0.35"/>
<circle cx="508.2" cy="73" r="1.45" fill="#262a5e" stroke="#15172e" stroke-width="0.35"/>
<circle cx="488.9" cy="78.8" r="1.45" fill="#262a5e" stroke="#15172e" stroke-width="0.35"/>
<circle cx="489.4" cy="80.1" r="1.45" fill="#262a5e" stroke="#15172e" stroke-width="0.35"/>
<circle cx="524.3" cy="77.8" r="1.45" fill="#262a5e" stroke="#15172e" stroke-width="0.35"/>
<circle cx="521.6" cy="81.1" r="1.45" fill="#262a5e" stroke="#15172e" stroke-width="0.35"/>
<circle cx="489.8" cy="83.4" r="1.45" fill="#262a5e" stroke="#15172e" stroke-width="0.35"/>
<circle cx="491.7" cy="85.2" r="1.45" fill="#262a5e" stroke="#15172e" stroke-width="0.35"/>
<circle cx="493.5" cy="86.1" r="1.45" fill="#262a5e" stroke="#15172e" stroke-width="0.35"/>
<circle cx="495.8" cy="82.9" r="1.45" fill="#262a5e" stroke="#15172e" stroke-width="0.35"/>
<circle cx="498.1" cy="83.4" r="1.45" fill="#262a5e" stroke="#15172e" stroke-width="0.35"/>
<circle cx="500" cy="84.3" r="1.45" fill="#262a5e" stroke="#15172e" stroke-width="0.35"/>
<circle cx="501.8" cy="85.2" r="1.45" fill="#262a5e" stroke="#15172e" stroke-width="0.35"/>
<circle cx="504.1" cy="82.9" r="1.45" fill="#262a5e" stroke="#15172e" stroke-width="0.35"/>
<circle cx="505.9" cy="85.7" r="1.45" fill="#262a5e" stroke="#15172e" stroke-width="0.35"/>
<circle cx="508.2" cy="83.4" r="1.45" fill="#262a5e" stroke="#15172e" stroke-width="0.35"/>
<circle cx="510.1" cy="85.2" r="1.45" fill="#262a5e" stroke="#15172e" stroke-width="0.35"/>
<circle cx="511.9" cy="86.1" r="1.45" fill="#262a5e" stroke="#15172e" stroke-width="0.35"/>
<circle cx="514.2" cy="82.9" r="1.45" fill="#262a5e" stroke="#15172e" stroke-width="0.35"/>
<circle cx="515.6" cy="85.2" r="1.45" fill="#262a5e" stroke="#15172e" stroke-width="0.35"/>
<circle cx="517.4" cy="86.1" r="1.45" fill="#262a5e" stroke="#15172e" stroke-width="0.35"/>
<circle cx="519.3" cy="85.2" r="1.45" fill="#262a5e" stroke="#15172e" stroke-width="0.35"/>
<circle cx="521.1" cy="86.1" r="1.45" fill="#262a5e" stroke="#15172e" stroke-width="0.35"/>
<circle cx="523.4" cy="85.7" r="1.45" fill="#262a5e" stroke="#15172e" stroke-width="0.35"/>
<circle cx="528.9" cy="85.7" r="1.45" fill="#262a5e" stroke="#15172e" stroke-width="0.35"/>
<circle cx="533.5" cy="85.7" r="1.45" fill="#262a5e" stroke="#15172e" stroke-width="0.35"/>
<circle cx="535.4" cy="86.1" r="1.45" fill="#262a5e" stroke="#15172e" stroke-width="0.35"/>
<circle cx="537.2" cy="87" r="1.45" fill="#262a5e" stroke="#15172e" stroke-width="0.35"/>
<circle cx="552.2" cy="48.9" r="1.45" fill="#262a5e" stroke="#15172e" stroke-width="0.35"/>
<circle cx="559.7" cy="41.3" r="1.45" fill="#262a5e" stroke="#15172e" stroke-width="0.35"/>
<circle cx="562" cy="41.3" r="1.45" fill="#262a5e" stroke="#15172e" stroke-width="0.35"/>
<circle cx="568.7" cy="40.3" r="1.45" fill="#262a5e" stroke="#15172e" stroke-width="0.35"/>
<circle cx="574.3" cy="41" r="1.45" fill="#262a5e" stroke="#15172e" stroke-width="0.35"/>
<circle cx="581.3" cy="40.3" r="1.45" fill="#262a5e" stroke="#15172e" stroke-width="0.35"/>
<circle cx="598.2" cy="38.9" r="1.45" fill="#262a5e" stroke="#15172e" stroke-width="0.35"/>
<circle cx="584.6" cy="50.4" r="1.45" fill="#262a5e" stroke="#15172e" stroke-width="0.35"/>
<circle cx="586.9" cy="50.1" r="1.45" fill="#262a5e" stroke="#15172e" stroke-width="0.35"/>
<circle cx="598.2" cy="49.8" r="1.45" fill="#262a5e" stroke="#15172e" stroke-width="0.35"/>
<circle cx="591.6" cy="20.4" r="1.45" fill="#262a5e" stroke="#15172e" stroke-width="0.35"/>
<circle cx="613.8" cy="50" r="1.45" fill="#262a5e" stroke="#15172e" stroke-width="0.35"/>
<circle cx="628.3" cy="22.1" r="1.45" fill="#262a5e" stroke="#15172e" stroke-width="0.35"/>
<circle cx="628.1" cy="35.2" r="1.45" fill="#262a5e" stroke="#15172e" stroke-width="0.35"/>
<circle cx="618.5" cy="39.7" r="1.45" fill="#262a5e" stroke="#15172e" stroke-width="0.35"/>
<circle cx="626.4" cy="49.5" r="1.45" fill="#262a5e" stroke="#15172e" stroke-width="0.35"/>
<circle cx="638.2" cy="50.3" r="1.45" fill="#262a5e" stroke="#15172e" stroke-width="0.35"/>
<circle cx="643.6" cy="49" r="1.45" fill="#262a5e" stroke="#15172e" stroke-width="0.35"/>
<circle cx="642.1" cy="52.3" r="1.45" fill="#262a5e" stroke="#15172e" stroke-width="0.35"/>
<circle cx="640.4" cy="55.5" r="1.45" fill="#262a5e" stroke="#15172e" stroke-width="0.35"/>
<circle cx="642.3" cy="56.2" r="1.45" fill="#262a5e" stroke="#15172e" stroke-width="0.35"/>
<circle cx="637.4" cy="61.9" r="1.45" fill="#262a5e" stroke="#15172e" stroke-width="0.35"/>
<circle cx="637.1" cy="69" r="1.45" fill="#262a5e" stroke="#15172e" stroke-width="0.35"/>
<circle cx="636.6" cy="70.4" r="1.45" fill="#262a5e" stroke="#15172e" stroke-width="0.35"/>
<circle cx="639" cy="69.9" r="1.45" fill="#262a5e" stroke="#15172e" stroke-width="0.35"/>
<circle cx="643.3" cy="69.9" r="1.45" fill="#262a5e" stroke="#15172e" stroke-width="0.35"/>
<circle cx="632.3" cy="80.4" r="1.45" fill="#262a5e" stroke="#15172e" stroke-width="0.35"/>
<circle cx="634.2" cy="80.2" r="1.45" fill="#262a5e" stroke="#15172e" stroke-width="0.35"/>
<circle cx="637.1" cy="80.2" r="1.45" fill="#262a5e" stroke="#15172e" stroke-width="0.35"/>
<circle cx="641.4" cy="80.9" r="1.45" fill="#262a5e" stroke="#15172e" stroke-width="0.35"/>
<circle cx="645.9" cy="79.4" r="1.45" fill="#262a5e" stroke="#15172e" stroke-width="0.35"/>
<circle cx="628.3" cy="83.5" r="1.45" fill="#262a5e" stroke="#15172e" stroke-width="0.35"/>
<circle cx="640.9" cy="84.2" r="1.45" fill="#262a5e" stroke="#15172e" stroke-width="0.35"/>
<circle cx="642.3" cy="85.2" r="1.45" fill="#262a5e" stroke="#15172e" stroke-width="0.35"/>
<circle cx="644.2" cy="84.7" r="1.45" fill="#262a5e" stroke="#15172e" stroke-width="0.35"/>
<circle cx="641.8" cy="86.6" r="1.45" fill="#262a5e" stroke="#15172e" stroke-width="0.35"/>
<circle cx="435.3" cy="126.9" r="1.45" fill="#262a5e" stroke="#15172e" stroke-width="0.35"/>
<circle cx="438.8" cy="120.7" r="1.45" fill="#262a5e" stroke="#15172e" stroke-width="0.35"/>
<circle cx="444.4" cy="116.1" r="1.45" fill="#262a5e" stroke="#15172e" stroke-width="0.35"/>
<circle cx="445.09" cy="121.78" r="1.45" fill="#262a5e" stroke="#15172e" stroke-width="0.35"/>
<circle cx="446.99" cy="121.65" r="1.45" fill="#262a5e" stroke="#15172e" stroke-width="0.35"/>
<circle cx="448.36" cy="121.96" r="1.45" fill="#262a5e" stroke="#15172e" stroke-width="0.35"/>
<circle cx="449.29" cy="122.1" r="1.45" fill="#262a5e" stroke="#15172e" stroke-width="0.35"/>
<circle cx="450.77" cy="121.97" r="1.45" fill="#262a5e" stroke="#15172e" stroke-width="0.35"/>
<circle cx="452.32" cy="121.52" r="1.45" fill="#262a5e" stroke="#15172e" stroke-width="0.35"/>
<circle cx="454.25" cy="122.37" r="1.45" fill="#262a5e" stroke="#15172e" stroke-width="0.35"/>
<circle cx="455.39" cy="121.61" r="1.45" fill="#262a5e" stroke="#15172e" stroke-width="0.35"/>
<circle cx="457.5" cy="122.44" r="1.45" fill="#262a5e" stroke="#15172e" stroke-width="0.35"/>
<circle cx="458.95" cy="121.74" r="1.45" fill="#262a5e" stroke="#15172e" stroke-width="0.35"/>
<circle cx="460.93" cy="121.28" r="1.45" fill="#262a5e" stroke="#15172e" stroke-width="0.35"/>
<circle cx="462.3" cy="121.54" r="1.45" fill="#262a5e" stroke="#15172e" stroke-width="0.35"/>
<circle cx="462.95" cy="121.29" r="1.45" fill="#262a5e" stroke="#15172e" stroke-width="0.35"/>
<circle cx="464.65" cy="122.09" r="1.45" fill="#262a5e" stroke="#15172e" stroke-width="0.35"/>
<circle cx="466" cy="121.77" r="1.45" fill="#262a5e" stroke="#15172e" stroke-width="0.35"/>
<circle cx="468.06" cy="121.48" r="1.45" fill="#262a5e" stroke="#15172e" stroke-width="0.35"/>
<circle cx="469.46" cy="121.08" r="1.45" fill="#262a5e" stroke="#15172e" stroke-width="0.35"/>
<circle cx="452.8" cy="118.5" r="1.45" fill="#262a5e" stroke="#15172e" stroke-width="0.35"/>
<circle cx="454.5" cy="117.8" r="1.45" fill="#262a5e" stroke="#15172e" stroke-width="0.35"/>
<circle cx="456.2" cy="118.2" r="1.45" fill="#262a5e" stroke="#15172e" stroke-width="0.35"/>
<circle cx="458" cy="119.2" r="1.45" fill="#262a5e" stroke="#15172e" stroke-width="0.35"/>
<circle cx="455" cy="120" r="1.45" fill="#262a5e" stroke="#15172e" stroke-width="0.35"/>
<circle cx="457" cy="121" r="1.45" fill="#262a5e" stroke="#15172e" stroke-width="0.35"/>
<circle cx="467.2" cy="117.8" r="1.45" fill="#262a5e" stroke="#15172e" stroke-width="0.35"/>
<circle cx="472.9" cy="118.3" r="1.45" fill="#262a5e" stroke="#15172e" stroke-width="0.35"/>
<circle cx="474.7" cy="117.8" r="1.45" fill="#262a5e" stroke="#15172e" stroke-width="0.35"/>
<circle cx="477.3" cy="118.1" r="1.45" fill="#262a5e" stroke="#15172e" stroke-width="0.35"/>
<circle cx="479" cy="118.1" r="1.45" fill="#262a5e" stroke="#15172e" stroke-width="0.35"/>
<circle cx="471.6" cy="121.8" r="1.45" fill="#262a5e" stroke="#15172e" stroke-width="0.35"/>
<circle cx="473.3" cy="121.8" r="1.45" fill="#262a5e" stroke="#15172e" stroke-width="0.35"/>
<circle cx="477.3" cy="121.3" r="1.45" fill="#262a5e" stroke="#15172e" stroke-width="0.35"/>
<circle cx="482.5" cy="123.4" r="1.45" fill="#262a5e" stroke="#15172e" stroke-width="0.35"/>
<circle cx="484.7" cy="123.1" r="1.45" fill="#262a5e" stroke="#15172e" stroke-width="0.35"/>
<circle cx="488.7" cy="121.8" r="1.45" fill="#262a5e" stroke="#15172e" stroke-width="0.35"/>
<circle cx="483.9" cy="104.4" r="1.45" fill="#262a5e" stroke="#15172e" stroke-width="0.35"/>
<circle cx="489.1" cy="105.6" r="1.45" fill="#262a5e" stroke="#15172e" stroke-width="0.35"/>
<circle cx="489.8" cy="105.6" r="1.45" fill="#262a5e" stroke="#15172e" stroke-width="0.35"/>
<circle cx="494.1" cy="111.3" r="1.45" fill="#262a5e" stroke="#15172e" stroke-width="0.35"/>
<circle cx="499.4" cy="112.3" r="1.45" fill="#262a5e" stroke="#15172e" stroke-width="0.35"/>
<circle cx="501.6" cy="112.3" r="1.45" fill="#262a5e" stroke="#15172e" stroke-width="0.35"/>
<circle cx="503.8" cy="112.3" r="1.45" fill="#262a5e" stroke="#15172e" stroke-width="0.35"/>
<circle cx="506" cy="112.3" r="1.45" fill="#262a5e" stroke="#15172e" stroke-width="0.35"/>
<circle cx="508.1" cy="112.3" r="1.45" fill="#262a5e" stroke="#15172e" stroke-width="0.35"/>
<circle cx="512.3" cy="112" r="1.45" fill="#262a5e" stroke="#15172e" stroke-width="0.35"/>
<circle cx="516.9" cy="112.1" r="1.45" fill="#262a5e" stroke="#15172e" stroke-width="0.35"/>
<circle cx="520.6" cy="113.9" r="1.45" fill="#262a5e" stroke="#15172e" stroke-width="0.35"/>
<circle cx="490.5" cy="122.3" r="1.45" fill="#262a5e" stroke="#15172e" stroke-width="0.35"/>
<circle cx="492.4" cy="122.7" r="1.45" fill="#262a5e" stroke="#15172e" stroke-width="0.35"/>
<circle cx="521.3" cy="103.6" r="1.45" fill="#262a5e" stroke="#15172e" stroke-width="0.35"/>
<circle cx="525.7" cy="105.1" r="1.45" fill="#262a5e" stroke="#15172e" stroke-width="0.35"/>
<circle cx="522.6" cy="106.9" r="1.45" fill="#262a5e" stroke="#15172e" stroke-width="0.35"/>
<circle cx="523.9" cy="107.9" r="1.45" fill="#262a5e" stroke="#15172e" stroke-width="0.35"/>
<circle cx="526.5" cy="107.9" r="1.45" fill="#262a5e" stroke="#15172e" stroke-width="0.35"/>
<circle cx="528.7" cy="108.2" r="1.45" fill="#262a5e" stroke="#15172e" stroke-width="0.35"/>
<circle cx="530.9" cy="107.6" r="1.45" fill="#262a5e" stroke="#15172e" stroke-width="0.35"/>
<circle cx="533.5" cy="107.3" r="1.45" fill="#262a5e" stroke="#15172e" stroke-width="0.35"/>
<circle cx="535.7" cy="107.6" r="1.45" fill="#262a5e" stroke="#15172e" stroke-width="0.35"/>
<circle cx="537.9" cy="106.5" r="1.45" fill="#262a5e" stroke="#15172e" stroke-width="0.35"/>
<circle cx="530.9" cy="98.6" r="1.45" fill="#262a5e" stroke="#15172e" stroke-width="0.35"/>
<circle cx="553.3" cy="97" r="1.45" fill="#262a5e" stroke="#15172e" stroke-width="0.35"/>
<circle cx="557" cy="97.5" r="1.45" fill="#262a5e" stroke="#15172e" stroke-width="0.35"/>
<circle cx="559.7" cy="98.9" r="1.45" fill="#262a5e" stroke="#15172e" stroke-width="0.35"/>
<circle cx="563.4" cy="99.8" r="1.45" fill="#262a5e" stroke="#15172e" stroke-width="0.35"/>
<circle cx="569.1" cy="117.3" r="1.45" fill="#262a5e" stroke="#15172e" stroke-width="0.35"/>
<circle cx="597.4" cy="97.5" r="1.45" fill="#262a5e" stroke="#15172e" stroke-width="0.35"/>
<circle cx="517.1" cy="111.6" r="1.45" fill="#262a5e" stroke="#15172e" stroke-width="0.35"/>
<circle cx="520.4" cy="113.7" r="1.45" fill="#262a5e" stroke="#15172e" stroke-width="0.35"/>
<circle cx="554.59" cy="88.24" r="1.45" fill="#262a5e" stroke="#15172e" stroke-width="0.35"/>
<circle cx="587.87" cy="89.15" r="1.45" fill="#262a5e" stroke="#15172e" stroke-width="0.35"/>
<circle cx="568.24" cy="89.8" r="1.45" fill="#262a5e" stroke="#15172e" stroke-width="0.35"/>
<circle cx="575.69" cy="88.63" r="1.45" fill="#262a5e" stroke="#15172e" stroke-width="0.35"/>
<circle cx="593.98" cy="90.27" r="1.45" fill="#262a5e" stroke="#15172e" stroke-width="0.35"/>
<circle cx="564.48" cy="89.76" r="1.45" fill="#262a5e" stroke="#15172e" stroke-width="0.35"/>
<circle cx="579.55" cy="90.99" r="1.45" fill="#262a5e" stroke="#15172e" stroke-width="0.35"/>
<circle cx="590.5" cy="88.58" r="1.45" fill="#262a5e" stroke="#15172e" stroke-width="0.35"/>
<circle cx="603.94" cy="87.88" r="1.45" fill="#262a5e" stroke="#15172e" stroke-width="0.35"/>
<circle cx="573.81" cy="90.5" r="1.45" fill="#262a5e" stroke="#15172e" stroke-width="0.35"/>
<circle cx="559.55" cy="89.4" r="1.45" fill="#262a5e" stroke="#15172e" stroke-width="0.35"/>
<circle cx="553.5" cy="90.14" r="1.45" fill="#262a5e" stroke="#15172e" stroke-width="0.35"/>
<circle cx="592.38" cy="89.75" r="1.45" fill="#262a5e" stroke="#15172e" stroke-width="0.35"/>
<circle cx="598.33" cy="88.69" r="1.45" fill="#262a5e" stroke="#15172e" stroke-width="0.35"/>
<circle cx="588.67" cy="89.84" r="1.45" fill="#262a5e" stroke="#15172e" stroke-width="0.35"/>
<circle cx="582.48" cy="89.27" r="1.45" fill="#262a5e" stroke="#15172e" stroke-width="0.35"/>
<circle cx="596.42" cy="91.27" r="1.45" fill="#262a5e" stroke="#15172e" stroke-width="0.35"/>
<circle cx="576.81" cy="90.12" r="1.45" fill="#262a5e" stroke="#15172e" stroke-width="0.35"/>
<circle cx="554.65" cy="90.28" r="1.45" fill="#262a5e" stroke="#15172e" stroke-width="0.35"/>
<circle cx="586.09" cy="91.47" r="1.45" fill="#262a5e" stroke="#15172e" stroke-width="0.35"/>
<circle cx="595.46" cy="88.57" r="1.45" fill="#262a5e" stroke="#15172e" stroke-width="0.35"/>
<circle cx="572.08" cy="90.14" r="1.45" fill="#262a5e" stroke="#15172e" stroke-width="0.35"/>
<circle cx="552.61" cy="89.29" r="1.45" fill="#262a5e" stroke="#15172e" stroke-width="0.35"/>
<circle cx="560.41" cy="87.88" r="1.45" fill="#262a5e" stroke="#15172e" stroke-width="0.35"/>
<circle cx="554.56" cy="90.55" r="1.45" fill="#262a5e" stroke="#15172e" stroke-width="0.35"/>
<circle cx="558.33" cy="88.42" r="1.45" fill="#262a5e" stroke="#15172e" stroke-width="0.35"/>
<circle cx="572.35" cy="90.97" r="1.45" fill="#262a5e" stroke="#15172e" stroke-width="0.35"/>
<circle cx="555.72" cy="89.24" r="1.45" fill="#262a5e" stroke="#15172e" stroke-width="0.35"/>
<circle cx="580.85" cy="91.02" r="1.45" fill="#262a5e" stroke="#15172e" stroke-width="0.35"/>
<circle cx="595.31" cy="90.94" r="1.45" fill="#262a5e" stroke="#15172e" stroke-width="0.35"/>
<circle cx="566.32" cy="89.1" r="1.45" fill="#262a5e" stroke="#15172e" stroke-width="0.35"/>
<circle cx="570.63" cy="91.03" r="1.45" fill="#262a5e" stroke="#15172e" stroke-width="0.35"/>
<circle cx="602.73" cy="88.02" r="1.45" fill="#262a5e" stroke="#15172e" stroke-width="0.35"/>
<circle cx="560.85" cy="88.35" r="1.45" fill="#262a5e" stroke="#15172e" stroke-width="0.35"/>
<circle cx="563.91" cy="89.39" r="1.45" fill="#262a5e" stroke="#15172e" stroke-width="0.35"/>
<circle cx="582.98" cy="88.48" r="1.45" fill="#262a5e" stroke="#15172e" stroke-width="0.35"/>
<circle cx="551.62" cy="89.12" r="1.45" fill="#262a5e" stroke="#15172e" stroke-width="0.35"/>
<circle cx="571.19" cy="89.72" r="1.45" fill="#262a5e" stroke="#15172e" stroke-width="0.35"/>
<circle cx="602.49" cy="90.23" r="1.45" fill="#262a5e" stroke="#15172e" stroke-width="0.35"/>
<circle cx="579.03" cy="89.93" r="1.45" fill="#262a5e" stroke="#15172e" stroke-width="0.35"/>
<circle cx="587.64" cy="87.62" r="1.45" fill="#262a5e" stroke="#15172e" stroke-width="0.35"/>
<circle cx="599.61" cy="90.6" r="1.45" fill="#262a5e" stroke="#15172e" stroke-width="0.35"/>
<circle cx="598.27" cy="90.67" r="1.45" fill="#262a5e" stroke="#15172e" stroke-width="0.35"/>
<circle cx="572.43" cy="89.04" r="1.45" fill="#262a5e" stroke="#15172e" stroke-width="0.35"/>
<circle cx="561.07" cy="94.67" r="1.45" fill="#262a5e" stroke="#15172e" stroke-width="0.35"/>
<circle cx="559.05" cy="91.84" r="1.45" fill="#262a5e" stroke="#15172e" stroke-width="0.35"/>
<circle cx="566.23" cy="92.31" r="1.45" fill="#262a5e" stroke="#15172e" stroke-width="0.35"/>
<circle cx="572.66" cy="91.76" r="1.45" fill="#262a5e" stroke="#15172e" stroke-width="0.35"/>
<circle cx="556.01" cy="92.26" r="1.45" fill="#262a5e" stroke="#15172e" stroke-width="0.35"/>
<circle cx="560.97" cy="93.32" r="1.45" fill="#262a5e" stroke="#15172e" stroke-width="0.35"/>
<circle cx="557.25" cy="95.87" r="1.45" fill="#262a5e" stroke="#15172e" stroke-width="0.35"/>
<circle cx="586.09" cy="92.24" r="1.45" fill="#262a5e" stroke="#15172e" stroke-width="0.35"/>
<circle cx="568.36" cy="93.24" r="1.45" fill="#262a5e" stroke="#15172e" stroke-width="0.35"/>
<circle cx="573.84" cy="92.11" r="1.45" fill="#262a5e" stroke="#15172e" stroke-width="0.35"/>
<circle cx="597.6" cy="96.47" r="1.45" fill="#262a5e" stroke="#15172e" stroke-width="0.35"/>
<circle cx="578.83" cy="93.92" r="1.45" fill="#262a5e" stroke="#15172e" stroke-width="0.35"/>
<circle cx="560.21" cy="92.01" r="1.45" fill="#262a5e" stroke="#15172e" stroke-width="0.35"/>
<circle cx="572.79" cy="92.82" r="1.45" fill="#262a5e" stroke="#15172e" stroke-width="0.35"/>
<circle cx="596.61" cy="92.31" r="1.45" fill="#262a5e" stroke="#15172e" stroke-width="0.35"/>
<circle cx="557.13" cy="96.25" r="1.45" fill="#262a5e" stroke="#15172e" stroke-width="0.35"/>
<circle cx="581.88" cy="92.23" r="1.45" fill="#262a5e" stroke="#15172e" stroke-width="0.35"/>
<circle cx="582.62" cy="91.64" r="1.45" fill="#262a5e" stroke="#15172e" stroke-width="0.35"/>
<circle cx="581.88" cy="96.39" r="1.45" fill="#262a5e" stroke="#15172e" stroke-width="0.35"/>
<circle cx="598.3" cy="94.98" r="1.45" fill="#262a5e" stroke="#15172e" stroke-width="0.35"/>
<circle cx="568.79" cy="93.33" r="1.45" fill="#262a5e" stroke="#15172e" stroke-width="0.35"/>
<circle cx="564.19" cy="95.36" r="1.45" fill="#262a5e" stroke="#15172e" stroke-width="0.35"/>
<circle cx="582.1" cy="95.4" r="1.45" fill="#262a5e" stroke="#15172e" stroke-width="0.35"/>
<circle cx="572.15" cy="92.62" r="1.45" fill="#262a5e" stroke="#15172e" stroke-width="0.35"/>
<circle cx="595.76" cy="96.42" r="1.45" fill="#262a5e" stroke="#15172e" stroke-width="0.35"/>
<circle cx="597.78" cy="95.53" r="1.45" fill="#262a5e" stroke="#15172e" stroke-width="0.35"/>
<circle cx="596.1" cy="95.2" r="1.45" fill="#262a5e" stroke="#15172e" stroke-width="0.35"/>
<circle cx="567.11" cy="94.09" r="1.45" fill="#262a5e" stroke="#15172e" stroke-width="0.35"/>
<circle cx="573.42" cy="91.64" r="1.45" fill="#262a5e" stroke="#15172e" stroke-width="0.35"/>
<circle cx="557.37" cy="92.9" r="1.45" fill="#262a5e" stroke="#15172e" stroke-width="0.35"/>
<circle cx="568.7" cy="94.96" r="1.45" fill="#262a5e" stroke="#15172e" stroke-width="0.35"/>
<circle cx="602.87" cy="93.74" r="1.45" fill="#262a5e" stroke="#15172e" stroke-width="0.35"/>
<circle cx="601.91" cy="96.44" r="1.45" fill="#262a5e" stroke="#15172e" stroke-width="0.35"/>
<circle cx="602.8" cy="93.32" r="1.45" fill="#262a5e" stroke="#15172e" stroke-width="0.35"/>
<circle cx="566.8" cy="92.63" r="1.45" fill="#262a5e" stroke="#15172e" stroke-width="0.35"/>
<circle cx="565.64" cy="92.52" r="1.45" fill="#262a5e" stroke="#15172e" stroke-width="0.35"/>
<circle cx="611.23" cy="96.2" r="1.45" fill="#262a5e" stroke="#15172e" stroke-width="0.35"/>
<circle cx="615.13" cy="92.84" r="1.45" fill="#262a5e" stroke="#15172e" stroke-width="0.35"/>
<circle cx="611.75" cy="95.4" r="1.45" fill="#262a5e" stroke="#15172e" stroke-width="0.35"/>
<circle cx="601.53" cy="94.28" r="1.45" fill="#262a5e" stroke="#15172e" stroke-width="0.35"/>
<circle cx="616.38" cy="95.26" r="1.45" fill="#262a5e" stroke="#15172e" stroke-width="0.35"/>
<circle cx="613.5" cy="92.82" r="1.45" fill="#262a5e" stroke="#15172e" stroke-width="0.35"/>
<circle cx="603.21" cy="95.31" r="1.45" fill="#262a5e" stroke="#15172e" stroke-width="0.35"/>
<circle cx="605.99" cy="95.41" r="1.45" fill="#262a5e" stroke="#15172e" stroke-width="0.35"/>
<circle cx="617.49" cy="92.17" r="1.45" fill="#262a5e" stroke="#15172e" stroke-width="0.35"/>
<circle cx="607.22" cy="96.57" r="1.45" fill="#262a5e" stroke="#15172e" stroke-width="0.35"/>
<circle cx="613.05" cy="90.36" r="1.45" fill="#262a5e" stroke="#15172e" stroke-width="0.35"/>
<circle cx="602.29" cy="90.21" r="1.45" fill="#262a5e" stroke="#15172e" stroke-width="0.35"/>
<circle cx="616.29" cy="95.45" r="1.45" fill="#262a5e" stroke="#15172e" stroke-width="0.35"/>
<circle cx="602.63" cy="95.61" r="1.45" fill="#262a5e" stroke="#15172e" stroke-width="0.35"/>
<circle cx="620.9" cy="100.2" r="1.45" fill="#262a5e" stroke="#15172e" stroke-width="0.35"/>
<circle cx="622.3" cy="100.2" r="1.45" fill="#262a5e" stroke="#15172e" stroke-width="0.35"/>
<circle cx="635.4" cy="103.1" r="1.45" fill="#262a5e" stroke="#15172e" stroke-width="0.35"/>
<circle cx="633.9" cy="107.3" r="1.45" fill="#262a5e" stroke="#15172e" stroke-width="0.35"/>
<circle cx="625.5" cy="110.9" r="1.45" fill="#262a5e" stroke="#15172e" stroke-width="0.35"/>
<circle cx="649.6" cy="109.7" r="1.45" fill="#262a5e" stroke="#15172e" stroke-width="0.35"/>
<circle cx="621.7" cy="118.3" r="1.45" fill="#262a5e" stroke="#15172e" stroke-width="0.35"/>
<circle cx="657.76" cy="129.86" r="1.45" fill="#262a5e" stroke="#15172e" stroke-width="0.35"/>
<circle cx="649.95" cy="129.4" r="1.45" fill="#262a5e" stroke="#15172e" stroke-width="0.35"/>
<circle cx="647.22" cy="127.16" r="1.45" fill="#262a5e" stroke="#15172e" stroke-width="0.35"/>
<circle cx="657.64" cy="129.83" r="1.45" fill="#262a5e" stroke="#15172e" stroke-width="0.35"/>
<circle cx="652.13" cy="131.02" r="1.45" fill="#262a5e" stroke="#15172e" stroke-width="0.35"/>
<circle cx="650.98" cy="130.76" r="1.45" fill="#262a5e" stroke="#15172e" stroke-width="0.35"/>
<circle cx="655.84" cy="127.99" r="1.45" fill="#262a5e" stroke="#15172e" stroke-width="0.35"/>
<circle cx="648.72" cy="128.33" r="1.45" fill="#262a5e" stroke="#15172e" stroke-width="0.35"/>
<circle cx="648.58" cy="129.56" r="1.45" fill="#262a5e" stroke="#15172e" stroke-width="0.35"/>
<circle cx="648.82" cy="128.86" r="1.45" fill="#262a5e" stroke="#15172e" stroke-width="0.35"/>
<circle cx="647.23" cy="130.92" r="1.45" fill="#262a5e" stroke="#15172e" stroke-width="0.35"/>
<circle cx="649.99" cy="129.02" r="1.45" fill="#262a5e" stroke="#15172e" stroke-width="0.35"/>
<circle cx="652.83" cy="130.9" r="1.45" fill="#262a5e" stroke="#15172e" stroke-width="0.35"/>
<circle cx="650.82" cy="130.95" r="1.45" fill="#262a5e" stroke="#15172e" stroke-width="0.35"/>
<circle cx="651.82" cy="129.33" r="1.45" fill="#262a5e" stroke="#15172e" stroke-width="0.35"/>
<circle cx="652.09" cy="127.18" r="1.45" fill="#262a5e" stroke="#15172e" stroke-width="0.35"/>
<circle cx="540" cy="86.6" r="1.45" fill="#7fcaee" stroke="#15172e" stroke-width="0.35"/>
<circle cx="547.3" cy="87.5" r="1.45" fill="#7fcaee" stroke="#15172e" stroke-width="0.35"/>
<circle cx="540.5" cy="106" r="1.45" fill="#7fcaee" stroke="#15172e" stroke-width="0.35"/>
<circle cx="542.1" cy="106" r="1.45" fill="#7fcaee" stroke="#15172e" stroke-width="0.35"/>
<circle cx="542.3" cy="90.7" r="1.45" fill="#7fcaee" stroke="#15172e" stroke-width="0.35"/>
<circle cx="547.1" cy="88.1" r="1.45" fill="#7fcaee" stroke="#15172e" stroke-width="0.35"/>
<circle cx="540.1" cy="86.8" r="1.45" fill="#7fcaee" stroke="#15172e" stroke-width="0.35"/>
<circle cx="548.7" cy="98.9" r="1.45" fill="#7fcaee" stroke="#15172e" stroke-width="0.35"/>
<circle cx="547.8" cy="87.8" r="1.45" fill="#7fcaee" stroke="#15172e" stroke-width="0.35"/>
<circle cx="549.6" cy="89.2" r="1.45" fill="#7fcaee" stroke="#15172e" stroke-width="0.35"/>
<circle cx="540.4" cy="45.6" r="1.45" fill="#f7a032" stroke="#15172e" stroke-width="0.35"/>
<circle cx="543.2" cy="49.5" r="1.45" fill="#f7a032" stroke="#15172e" stroke-width="0.35"/>
<circle cx="545.8" cy="48.9" r="1.45" fill="#f7a032" stroke="#15172e" stroke-width="0.35"/>
<circle cx="543" cy="56.7" r="1.45" fill="#f7a032" stroke="#15172e" stroke-width="0.35"/>
<circle cx="547.8" cy="42.9" r="1.45" fill="#f7a032" stroke="#15172e" stroke-width="0.35"/>
<circle cx="549.8" cy="21.5" r="1.45" fill="#e8232a" stroke="#15172e" stroke-width="0.35"/>
<circle cx="546.1" cy="22.5" r="1.45" fill="#7b4fa0" stroke="#15172e" stroke-width="0.35"/>
<line x1="428.3" y1="134.5" x2="430.8" y2="134.5" stroke="#999" stroke-width="0.7" />
<text x="426.4" y="137" font-size="7.2" font-weight="normal" font-style="normal" fill="#444" text-anchor="end" stroke="#444" stroke-width="0.2">0</text>
<line x1="428.3" y1="91.15" x2="430.8" y2="91.15" stroke="#999" stroke-width="0.7" />
<text x="426.4" y="93.65" font-size="7.2" font-weight="normal" font-style="normal" fill="#444" text-anchor="end" stroke="#444" stroke-width="0.2">5</text>
<line x1="428.3" y1="47.8" x2="430.8" y2="47.8" stroke="#999" stroke-width="0.7" />
<text x="426.4" y="50.3" font-size="7.2" font-weight="normal" font-style="normal" fill="#444" text-anchor="end" stroke="#444" stroke-width="0.2">10</text>
<line x1="428.3" y1="4.45" x2="430.8" y2="4.45" stroke="#999" stroke-width="0.7" />
<text x="426.4" y="6.95" font-size="7.2" font-weight="normal" font-style="normal" fill="#444" text-anchor="end" stroke="#444" stroke-width="0.2">15</text>
<line x1="661.2" y1="134.2" x2="663.7" y2="134.2" stroke="#7f95d0" stroke-width="0.7" />
<text x="665.8" y="136.5" font-size="6.8" font-weight="normal" font-style="normal" fill="#5a78c8" text-anchor="start" >0</text>
<line x1="661.2" y1="109.16" x2="663.7" y2="109.16" stroke="#7f95d0" stroke-width="0.7" />
<text x="665.8" y="111.46" font-size="6.8" font-weight="normal" font-style="normal" fill="#5a78c8" text-anchor="start" >20</text>
<line x1="661.2" y1="84.12" x2="663.7" y2="84.12" stroke="#7f95d0" stroke-width="0.7" />
<text x="665.8" y="86.42" font-size="6.8" font-weight="normal" font-style="normal" fill="#5a78c8" text-anchor="start" >40</text>
<line x1="661.2" y1="59.08" x2="663.7" y2="59.08" stroke="#7f95d0" stroke-width="0.7" />
<text x="665.8" y="61.38" font-size="6.8" font-weight="normal" font-style="normal" fill="#5a78c8" text-anchor="start" >60</text>
<line x1="661.2" y1="34.04" x2="663.7" y2="34.04" stroke="#7f95d0" stroke-width="0.7" />
<text x="665.8" y="36.34" font-size="6.8" font-weight="normal" font-style="normal" fill="#5a78c8" text-anchor="start" >80</text>
<line x1="661.2" y1="9" x2="663.7" y2="9" stroke="#7f95d0" stroke-width="0.7" />
<text x="665.8" y="11.3" font-size="6.8" font-weight="normal" font-style="normal" fill="#5a78c8" text-anchor="start" >100</text>
<rect x="642.1" y="8.5" width="4.8" height="7.19" fill="#e8232a"/>
<rect x="642.1" y="15.64" width="4.8" height="7.19" fill="#f7a032"/>
<rect x="642.1" y="22.78" width="4.8" height="7.19" fill="#5db544"/>
<rect x="642.1" y="29.92" width="4.8" height="7.19" fill="#7fcaee"/>
<rect x="642.1" y="37.06" width="4.8" height="7.19" fill="#262a5e"/>
<line x1="646.9" y1="15.64" x2="648.4" y2="15.64" stroke="#777" stroke-width="0.5" />
<text x="649.8" y="17.34" font-size="5" font-weight="normal" font-style="normal" fill="#666" text-anchor="start" >0.8</text>
<line x1="646.9" y1="22.78" x2="648.4" y2="22.78" stroke="#777" stroke-width="0.5" />
<text x="649.8" y="24.48" font-size="5" font-weight="normal" font-style="normal" fill="#666" text-anchor="start" >0.6</text>
<line x1="646.9" y1="29.92" x2="648.4" y2="29.92" stroke="#777" stroke-width="0.5" />
<text x="649.8" y="31.62" font-size="5" font-weight="normal" font-style="normal" fill="#666" text-anchor="start" >0.4</text>
<line x1="646.9" y1="37.06" x2="648.4" y2="37.06" stroke="#777" stroke-width="0.5" />
<text x="649.8" y="38.76" font-size="5" font-weight="normal" font-style="normal" fill="#666" text-anchor="start" >0.2</text>
<text x="648.9" y="8.6" font-size="5.2" font-style="italic" fill="#666">r<tspan font-size="3.6" dy="-2">2</tspan></text>
<text transform="translate(412.6,68.2) rotate(-90)" font-size="12.8" text-anchor="middle" fill="#222">-log<tspan font-size="7.7" dy="3.6">10</tspan><tspan dy="-3.6">(</tspan><tspan font-style="italic">P</tspan>)</text>
<text transform="translate(679.6,78.3) rotate(90)" font-size="7.1" text-anchor="middle" fill="#5a78c8">Recombination rate (cM/Mb)</text>
<rect x="430.3" y="143.7" width="231.3" height="27.5" fill="#fff" stroke="#aaa" stroke-width="0.9"/>
<line x1="449.3" y1="171.2" x2="449.3" y2="173.4" stroke="#999" stroke-width="0.7" />
<text x="450.3" y="181.8" font-size="8.2" font-weight="normal" font-style="normal" fill="#444" text-anchor="middle" stroke="#444" stroke-width="0.2">136.4</text>
<line x1="495.6" y1="171.2" x2="495.6" y2="173.4" stroke="#999" stroke-width="0.7" />
<text x="496.6" y="181.8" font-size="8.2" font-weight="normal" font-style="normal" fill="#444" text-anchor="middle" stroke="#444" stroke-width="0.2">136.5</text>
<line x1="541.9" y1="171.2" x2="541.9" y2="173.4" stroke="#999" stroke-width="0.7" />
<text x="542.9" y="181.8" font-size="8.2" font-weight="normal" font-style="normal" fill="#444" text-anchor="middle" stroke="#444" stroke-width="0.2">136.6</text>
<line x1="588.3" y1="171.2" x2="588.3" y2="173.4" stroke="#999" stroke-width="0.7" />
<text x="589.3" y="181.8" font-size="8.2" font-weight="normal" font-style="normal" fill="#444" text-anchor="middle" stroke="#444" stroke-width="0.2">136.7</text>
<line x1="634.7" y1="171.2" x2="634.7" y2="173.4" stroke="#999" stroke-width="0.7" />
<text x="635.7" y="181.8" font-size="8.2" font-weight="normal" font-style="normal" fill="#444" text-anchor="middle" stroke="#444" stroke-width="0.2">136.8</text>
<text x="556.1" y="191.9" font-size="8.27" font-weight="bold" font-style="normal" fill="#555" text-anchor="middle" >Position on chr2 (Mb)</text>
<path d="M451.6,147.35 h3.6 M454,146.4 L455.2,147.35 L454,148.3" stroke="#333" stroke-width="0.5" fill="none"/>
<text x="432.7" y="148.6" font-size="4.4" font-weight="normal" font-style="normal" fill="#333" text-anchor="start" stroke="#333" stroke-width="0.12">R3HDM1</text>
<line x1="431.2" y1="150.4" x2="488.5" y2="150.4" stroke="#2b3075" stroke-width="0.65" />
<rect x="437.3" y="149.55" width="0.6" height="1.7" fill="#2b3075"/>
<rect x="440" y="149.55" width="0.6" height="1.7" fill="#2b3075"/>
<rect x="444.5" y="149.55" width="0.6" height="1.7" fill="#2b3075"/>
<rect x="446" y="149.55" width="0.6" height="1.7" fill="#2b3075"/>
<rect x="447.5" y="149.55" width="0.6" height="1.7" fill="#2b3075"/>
<rect x="449" y="149.55" width="0.6" height="1.7" fill="#2b3075"/>
<rect x="450.5" y="149.55" width="0.6" height="1.7" fill="#2b3075"/>
<rect x="458.5" y="149.55" width="0.6" height="1.7" fill="#2b3075"/>
<rect x="464.8" y="149.55" width="0.6" height="1.7" fill="#2b3075"/>
<rect x="467.5" y="149.55" width="0.6" height="1.7" fill="#2b3075"/>
<rect x="480.5" y="149.55" width="0.6" height="1.7" fill="#2b3075"/>
<rect x="483.2" y="149.55" width="0.6" height="1.7" fill="#2b3075"/>
<rect x="485.3" y="149.55" width="3.2" height="1.7" fill="#2b3075"/>
<path d="M468.88,156.05 h3.6 M471.28,155.1 L472.48,156.05 L471.28,157" stroke="#333" stroke-width="0.5" fill="none"/>
<text x="449" y="157.3" font-size="4.4" font-weight="normal" font-style="normal" fill="#333" text-anchor="start" stroke="#333" stroke-width="0.12">MIR128-1</text>
<rect x="460.3" y="159.05" width="0.6" height="1.7" fill="#2b3075"/>
<path d="M512.87,147.05 h3.6 M515.27,146.1 L516.47,147.05 L515.27,148" stroke="#333" stroke-width="0.5" fill="none"/>
<text x="496.9" y="148.3" font-size="4.4" font-weight="normal" font-style="normal" fill="#333" text-anchor="start" stroke="#333" stroke-width="0.12">UBXN4</text>
<line x1="495" y1="150.3" x2="515.5" y2="150.3" stroke="#2b3075" stroke-width="0.65" />
<rect x="495" y="149.45" width="0.6" height="1.7" fill="#2b3075"/>
<rect x="497.5" y="149.45" width="0.6" height="1.7" fill="#2b3075"/>
<rect x="500" y="149.45" width="0.6" height="1.7" fill="#2b3075"/>
<rect x="502.5" y="149.45" width="0.6" height="1.7" fill="#2b3075"/>
<rect x="505" y="149.45" width="0.6" height="1.7" fill="#2b3075"/>
<rect x="508" y="149.45" width="0.6" height="1.7" fill="#2b3075"/>
<rect x="510" y="149.45" width="0.6" height="1.7" fill="#2b3075"/>
<rect x="512" y="149.45" width="0.6" height="1.7" fill="#2b3075"/>
<rect x="514" y="149.45" width="0.6" height="1.7" fill="#2b3075"/>
<rect x="515" y="149.45" width="0.6" height="1.7" fill="#2b3075"/>
<path d="M521.8,156.55 h3.6 M523,155.6 L521.8,156.55 L523,157.5" stroke="#333" stroke-width="0.5" fill="none"/>
<text x="526" y="157.8" font-size="4.4" font-weight="normal" font-style="normal" fill="#333" text-anchor="start" stroke="#333" stroke-width="0.12">LCT</text>
<line x1="516" y1="159.9" x2="540.2" y2="159.9" stroke="#2b3075" stroke-width="0.65" />
<rect x="516" y="159.05" width="0.6" height="1.7" fill="#2b3075"/>
<rect x="517.5" y="159.05" width="0.6" height="1.7" fill="#2b3075"/>
<rect x="519.5" y="159.05" width="0.6" height="1.7" fill="#2b3075"/>
<rect x="521.5" y="159.05" width="0.6" height="1.7" fill="#2b3075"/>
<rect x="523" y="159.05" width="0.6" height="1.7" fill="#2b3075"/>
<rect x="524.5" y="159.05" width="0.6" height="1.7" fill="#2b3075"/>
<rect x="526" y="159.05" width="0.6" height="1.7" fill="#2b3075"/>
<rect x="527.5" y="159.05" width="0.6" height="1.7" fill="#2b3075"/>
<rect x="529" y="159.05" width="0.6" height="1.7" fill="#2b3075"/>
<rect x="530.5" y="159.05" width="0.6" height="1.7" fill="#2b3075"/>
<rect x="532" y="159.05" width="0.6" height="1.7" fill="#2b3075"/>
<rect x="534" y="159.05" width="0.6" height="1.7" fill="#2b3075"/>
<rect x="536.5" y="159.05" width="0.6" height="1.7" fill="#2b3075"/>
<rect x="539.6" y="159.05" width="0.6" height="1.7" fill="#2b3075"/>
<path d="M545.9,165.05 h3.6 M548.3,164.1 L549.5,165.05 L548.3,166" stroke="#333" stroke-width="0.5" fill="none"/>
<text x="516" y="166.3" font-size="4.4" font-weight="normal" font-style="normal" fill="#333" text-anchor="start" stroke="#333" stroke-width="0.12">LOC100507600</text>
<rect x="532.1" y="167.95" width="0.6" height="1.7" fill="#2b3075"/>
<path d="M540.7,147.05 h3.6 M541.9,146.1 L540.7,147.05 L541.9,148" stroke="#333" stroke-width="0.5" fill="none"/>
<text x="544.9" y="148.3" font-size="4.4" font-weight="normal" font-style="normal" fill="#333" text-anchor="start" stroke="#333" stroke-width="0.12">MCM6</text>
<line x1="540.2" y1="150.3" x2="558" y2="150.3" stroke="#2b3075" stroke-width="0.65" />
<rect x="540.2" y="149.45" width="0.6" height="1.7" fill="#2b3075"/>
<rect x="542" y="149.45" width="0.6" height="1.7" fill="#2b3075"/>
<rect x="544" y="149.45" width="0.6" height="1.7" fill="#2b3075"/>
<rect x="546" y="149.45" width="0.6" height="1.7" fill="#2b3075"/>
<rect x="548" y="149.45" width="0.6" height="1.7" fill="#2b3075"/>
<rect x="550" y="149.45" width="0.6" height="1.7" fill="#2b3075"/>
<rect x="552" y="149.45" width="0.6" height="1.7" fill="#2b3075"/>
<rect x="554" y="149.45" width="0.6" height="1.7" fill="#2b3075"/>
<rect x="556" y="149.45" width="0.6" height="1.7" fill="#2b3075"/>
<rect x="557.5" y="149.45" width="0.6" height="1.7" fill="#2b3075"/>
<path d="M581.3,147.25 h3.6 M582.5,146.3 L581.3,147.25 L582.5,148.2" stroke="#333" stroke-width="0.5" fill="none"/>
<text x="585.5" y="148.5" font-size="4.4" font-weight="normal" font-style="normal" fill="#333" text-anchor="start" stroke="#333" stroke-width="0.12">DARS</text>
<line x1="571.3" y1="150.3" x2="608.1" y2="150.3" stroke="#2b3075" stroke-width="0.65" />
<rect x="571.3" y="149.45" width="0.6" height="1.7" fill="#2b3075"/>
<rect x="572.5" y="149.45" width="0.6" height="1.7" fill="#2b3075"/>
<rect x="573.8" y="149.45" width="0.6" height="1.7" fill="#2b3075"/>
<rect x="575" y="149.45" width="0.6" height="1.7" fill="#2b3075"/>
<rect x="576.5" y="149.45" width="0.6" height="1.7" fill="#2b3075"/>
<rect x="578" y="149.45" width="0.6" height="1.7" fill="#2b3075"/>
<rect x="579.5" y="149.45" width="0.6" height="1.7" fill="#2b3075"/>
<rect x="584" y="149.45" width="0.6" height="1.7" fill="#2b3075"/>
<rect x="588.5" y="149.45" width="0.6" height="1.7" fill="#2b3075"/>
<rect x="597" y="149.45" width="0.6" height="1.7" fill="#2b3075"/>
<rect x="607.5" y="149.45" width="0.6" height="1.7" fill="#2b3075"/>
<path d="M622.53,156.05 h3.6 M624.93,155.1 L626.13,156.05 L624.93,157" stroke="#333" stroke-width="0.5" fill="none"/>
<text x="600.2" y="157.3" font-size="4.4" font-weight="normal" font-style="normal" fill="#333" text-anchor="start" stroke="#333" stroke-width="0.12">DARS-AS1</text>
<line x1="607" y1="159.5" x2="618.6" y2="159.5" stroke="#2b3075" stroke-width="0.65" />
<rect x="607" y="158.65" width="0.6" height="1.7" fill="#2b3075"/>
<rect x="613.5" y="158.65" width="0.6" height="1.7" fill="#2b3075"/>
<rect x="617.5" y="158.65" width="0.8" height="1.7" fill="#2b3075"/>
<text x="545" y="19.9" font-size="5" font-weight="normal" font-style="normal" fill="#333" text-anchor="middle" >rs4988235</text>
<text x="388" y="229.4" font-size="32" font-weight="bold" font-style="normal" fill="#111" text-anchor="start" >D</text>
<rect x="430.4" y="213.1" width="229.9" height="100" fill="#fff" stroke="#d0d0d0" stroke-width="1.3"/>
<line x1="430.4" y1="213.1" x2="430.4" y2="313.1" stroke="#a0a0a0" stroke-width="1" />
<line x1="660.3" y1="213.1" x2="660.3" y2="313.1" stroke="#8a8fa0" stroke-width="1.1" />
<polyline points="431,309 452,309 456,307.5 462,306.8 470,307.3 480,308.6 492,309 530,307.5 531.2,306 532.5,309.2 556,309.2 557.6,307 559,308 562,309.3 617,309.3 617.9,295 618.8,309.3 654.5,309.3 655.0,295 655.3,290 655.7,295 656.2,309 660,309" fill="none" stroke="#6d8fd0" stroke-width="0.8"/>
<circle cx="535.9" cy="226.5" r="1.45" fill="#262a5e" stroke="#15172e" stroke-width="0.35"/>
<circle cx="537.9" cy="226.5" r="1.45" fill="#262a5e" stroke="#15172e" stroke-width="0.35"/>
<circle cx="539.1" cy="226.5" r="1.45" fill="#262a5e" stroke="#15172e" stroke-width="0.35"/>
<circle cx="560.7" cy="226.5" r="1.45" fill="#262a5e" stroke="#15172e" stroke-width="0.35"/>
<circle cx="569.1" cy="226" r="1.45" fill="#262a5e" stroke="#15172e" stroke-width="0.35"/>
<circle cx="561" cy="231.6" r="1.45" fill="#262a5e" stroke="#15172e" stroke-width="0.35"/>
<circle cx="559.9" cy="235" r="1.45" fill="#262a5e" stroke="#15172e" stroke-width="0.35"/>
<circle cx="532.4" cy="237.5" r="1.45" fill="#262a5e" stroke="#15172e" stroke-width="0.35"/>
<circle cx="542.2" cy="232.3" r="1.45" fill="#e8232a" stroke="#15172e" stroke-width="0.35"/>
<circle cx="541.3" cy="233.6" r="1.45" fill="#e8232a" stroke="#15172e" stroke-width="0.35"/>
<circle cx="545.5" cy="237" r="1.45" fill="#e8232a" stroke="#15172e" stroke-width="0.35"/>
<circle cx="549.4" cy="237.3" r="1.45" fill="#e8232a" stroke="#15172e" stroke-width="0.35"/>
<circle cx="540.1" cy="240.4" r="1.45" fill="#e8232a" stroke="#15172e" stroke-width="0.35"/>
<circle cx="557.3" cy="227.2" r="1.45" fill="#e8232a" stroke="#15172e" stroke-width="0.35"/>
<circle cx="559" cy="227.2" r="1.45" fill="#e8232a" stroke="#15172e" stroke-width="0.35"/>
<circle cx="545.2" cy="239.2" r="1.45" fill="#f7a032" stroke="#15172e" stroke-width="0.35"/>
<circle cx="557" cy="238.3" r="1.45" fill="#7fcaee" stroke="#15172e" stroke-width="0.35"/>
<circle cx="556.4" cy="302.2" r="1.45" fill="#7fcaee" stroke="#15172e" stroke-width="0.35"/>
<circle cx="544.7" cy="227.2" r="1.45" fill="#7b4fa0" stroke="#15172e" stroke-width="0.35"/>
<circle cx="534.2" cy="250.8" r="1.45" fill="#262a5e" stroke="#15172e" stroke-width="0.35"/>
<circle cx="535.1" cy="255.9" r="1.45" fill="#262a5e" stroke="#15172e" stroke-width="0.35"/>
<circle cx="559.9" cy="248.8" r="1.45" fill="#262a5e" stroke="#15172e" stroke-width="0.35"/>
<circle cx="560.7" cy="255.2" r="1.45" fill="#262a5e" stroke="#15172e" stroke-width="0.35"/>
<circle cx="559" cy="267.3" r="1.45" fill="#262a5e" stroke="#15172e" stroke-width="0.35"/>
<circle cx="562.9" cy="265.3" r="1.45" fill="#262a5e" stroke="#15172e" stroke-width="0.35"/>
<circle cx="559.4" cy="271.6" r="1.45" fill="#262a5e" stroke="#15172e" stroke-width="0.35"/>
<circle cx="566.6" cy="271.6" r="1.45" fill="#262a5e" stroke="#15172e" stroke-width="0.35"/>
<circle cx="569.1" cy="271.6" r="1.45" fill="#262a5e" stroke="#15172e" stroke-width="0.35"/>
<circle cx="565.8" cy="274.6" r="1.45" fill="#262a5e" stroke="#15172e" stroke-width="0.35"/>
<circle cx="569.1" cy="282.2" r="1.45" fill="#262a5e" stroke="#15172e" stroke-width="0.35"/>
<circle cx="534.6" cy="281.7" r="1.45" fill="#262a5e" stroke="#15172e" stroke-width="0.35"/>
<circle cx="534.6" cy="285" r="1.45" fill="#262a5e" stroke="#15172e" stroke-width="0.35"/>
<circle cx="520.6" cy="288.9" r="1.45" fill="#262a5e" stroke="#15172e" stroke-width="0.35"/>
<circle cx="530.4" cy="290.1" r="1.45" fill="#262a5e" stroke="#15172e" stroke-width="0.35"/>
<circle cx="540.5" cy="299.4" r="1.45" fill="#262a5e" stroke="#15172e" stroke-width="0.35"/>
<circle cx="523.6" cy="299" r="1.45" fill="#262a5e" stroke="#15172e" stroke-width="0.35"/>
<circle cx="567" cy="271.3" r="1.45" fill="#262a5e" stroke="#15172e" stroke-width="0.35"/>
<circle cx="569.5" cy="282.1" r="1.45" fill="#262a5e" stroke="#15172e" stroke-width="0.35"/>
<circle cx="560.9" cy="286.2" r="1.45" fill="#262a5e" stroke="#15172e" stroke-width="0.35"/>
<circle cx="563.5" cy="287.5" r="1.45" fill="#262a5e" stroke="#15172e" stroke-width="0.35"/>
<circle cx="565.7" cy="286.6" r="1.45" fill="#262a5e" stroke="#15172e" stroke-width="0.35"/>
<circle cx="567.4" cy="290.6" r="1.45" fill="#262a5e" stroke="#15172e" stroke-width="0.35"/>
<circle cx="577.1" cy="286.2" r="1.45" fill="#262a5e" stroke="#15172e" stroke-width="0.35"/>
<circle cx="576.6" cy="289.7" r="1.45" fill="#262a5e" stroke="#15172e" stroke-width="0.35"/>
<circle cx="580.1" cy="290.8" r="1.45" fill="#262a5e" stroke="#15172e" stroke-width="0.35"/>
<circle cx="584.1" cy="288.8" r="1.45" fill="#262a5e" stroke="#15172e" stroke-width="0.35"/>
<circle cx="584.5" cy="291.9" r="1.45" fill="#262a5e" stroke="#15172e" stroke-width="0.35"/>
<circle cx="585.4" cy="292.3" r="1.45" fill="#262a5e" stroke="#15172e" stroke-width="0.35"/>
<circle cx="562.6" cy="295.4" r="1.45" fill="#262a5e" stroke="#15172e" stroke-width="0.35"/>
<circle cx="577.5" cy="293.6" r="1.45" fill="#262a5e" stroke="#15172e" stroke-width="0.35"/>
<circle cx="570.9" cy="296.3" r="1.45" fill="#262a5e" stroke="#15172e" stroke-width="0.35"/>
<circle cx="571.4" cy="298" r="1.45" fill="#262a5e" stroke="#15172e" stroke-width="0.35"/>
<circle cx="565.3" cy="300.2" r="1.45" fill="#262a5e" stroke="#15172e" stroke-width="0.35"/>
<circle cx="567" cy="303.3" r="1.45" fill="#262a5e" stroke="#15172e" stroke-width="0.35"/>
<circle cx="574.59" cy="299.61" r="1.45" fill="#262a5e" stroke="#15172e" stroke-width="0.35"/>
<circle cx="572.32" cy="305.03" r="1.45" fill="#262a5e" stroke="#15172e" stroke-width="0.35"/>
<circle cx="573.2" cy="302.17" r="1.45" fill="#262a5e" stroke="#15172e" stroke-width="0.35"/>
<circle cx="576.07" cy="302.9" r="1.45" fill="#262a5e" stroke="#15172e" stroke-width="0.35"/>
<circle cx="574" cy="302.56" r="1.45" fill="#262a5e" stroke="#15172e" stroke-width="0.35"/>
<circle cx="575.19" cy="304.9" r="1.45" fill="#262a5e" stroke="#15172e" stroke-width="0.35"/>
<circle cx="572.85" cy="302.93" r="1.45" fill="#262a5e" stroke="#15172e" stroke-width="0.35"/>
<circle cx="573.59" cy="300.44" r="1.45" fill="#262a5e" stroke="#15172e" stroke-width="0.35"/>
<circle cx="576.32" cy="302.47" r="1.45" fill="#262a5e" stroke="#15172e" stroke-width="0.35"/>
<circle cx="582.3" cy="298.9" r="1.45" fill="#262a5e" stroke="#15172e" stroke-width="0.35"/>
<circle cx="587.6" cy="297.1" r="1.45" fill="#262a5e" stroke="#15172e" stroke-width="0.35"/>
<circle cx="588" cy="299.8" r="1.45" fill="#262a5e" stroke="#15172e" stroke-width="0.35"/>
<circle cx="594.2" cy="295" r="1.45" fill="#262a5e" stroke="#15172e" stroke-width="0.35"/>
<circle cx="594.6" cy="296.3" r="1.45" fill="#262a5e" stroke="#15172e" stroke-width="0.35"/>
<circle cx="598.1" cy="293.6" r="1.45" fill="#262a5e" stroke="#15172e" stroke-width="0.35"/>
<circle cx="600.3" cy="298" r="1.45" fill="#262a5e" stroke="#15172e" stroke-width="0.35"/>
<circle cx="592.4" cy="300.2" r="1.45" fill="#262a5e" stroke="#15172e" stroke-width="0.35"/>
<circle cx="586.3" cy="305.9" r="1.45" fill="#262a5e" stroke="#15172e" stroke-width="0.35"/>
<circle cx="591.5" cy="307.2" r="1.45" fill="#262a5e" stroke="#15172e" stroke-width="0.35"/>
<circle cx="595.5" cy="305.9" r="1.45" fill="#262a5e" stroke="#15172e" stroke-width="0.35"/>
<circle cx="609.5" cy="296.7" r="1.45" fill="#262a5e" stroke="#15172e" stroke-width="0.35"/>
<circle cx="607.3" cy="298.9" r="1.45" fill="#262a5e" stroke="#15172e" stroke-width="0.35"/>
<circle cx="615.2" cy="298.9" r="1.45" fill="#262a5e" stroke="#15172e" stroke-width="0.35"/>
<circle cx="606.41" cy="303.94" r="1.45" fill="#262a5e" stroke="#15172e" stroke-width="0.35"/>
<circle cx="617.29" cy="302.55" r="1.45" fill="#262a5e" stroke="#15172e" stroke-width="0.35"/>
<circle cx="607.99" cy="302.82" r="1.45" fill="#262a5e" stroke="#15172e" stroke-width="0.35"/>
<circle cx="604.88" cy="303.65" r="1.45" fill="#262a5e" stroke="#15172e" stroke-width="0.35"/>
<circle cx="603.02" cy="302.95" r="1.45" fill="#262a5e" stroke="#15172e" stroke-width="0.35"/>
<circle cx="603.82" cy="304.74" r="1.45" fill="#262a5e" stroke="#15172e" stroke-width="0.35"/>
<circle cx="610.68" cy="304.46" r="1.45" fill="#262a5e" stroke="#15172e" stroke-width="0.35"/>
<circle cx="618.21" cy="301.74" r="1.45" fill="#262a5e" stroke="#15172e" stroke-width="0.35"/>
<circle cx="606.34" cy="304.75" r="1.45" fill="#262a5e" stroke="#15172e" stroke-width="0.35"/>
<circle cx="615.04" cy="301.2" r="1.45" fill="#262a5e" stroke="#15172e" stroke-width="0.35"/>
<circle cx="592.77" cy="302.55" r="1.45" fill="#262a5e" stroke="#15172e" stroke-width="0.35"/>
<circle cx="591.25" cy="301.66" r="1.45" fill="#262a5e" stroke="#15172e" stroke-width="0.35"/>
<circle cx="591.27" cy="303.55" r="1.45" fill="#262a5e" stroke="#15172e" stroke-width="0.35"/>
<circle cx="613.3" cy="304.55" r="1.45" fill="#262a5e" stroke="#15172e" stroke-width="0.35"/>
<circle cx="593.79" cy="303.75" r="1.45" fill="#262a5e" stroke="#15172e" stroke-width="0.35"/>
<circle cx="609.47" cy="301.23" r="1.45" fill="#262a5e" stroke="#15172e" stroke-width="0.35"/>
<circle cx="616.37" cy="304.86" r="1.45" fill="#262a5e" stroke="#15172e" stroke-width="0.35"/>
<circle cx="595.81" cy="304.79" r="1.45" fill="#262a5e" stroke="#15172e" stroke-width="0.35"/>
<circle cx="601.35" cy="302.74" r="1.45" fill="#262a5e" stroke="#15172e" stroke-width="0.35"/>
<circle cx="619.69" cy="304.26" r="1.45" fill="#262a5e" stroke="#15172e" stroke-width="0.35"/>
<circle cx="594.01" cy="302.5" r="1.45" fill="#262a5e" stroke="#15172e" stroke-width="0.35"/>
<circle cx="604.98" cy="302.09" r="1.45" fill="#262a5e" stroke="#15172e" stroke-width="0.35"/>
<circle cx="578.98" cy="307.42" r="1.45" fill="#262a5e" stroke="#15172e" stroke-width="0.35"/>
<circle cx="605.83" cy="306.56" r="1.45" fill="#262a5e" stroke="#15172e" stroke-width="0.35"/>
<circle cx="597.26" cy="307.78" r="1.45" fill="#262a5e" stroke="#15172e" stroke-width="0.35"/>
<circle cx="569.92" cy="307.46" r="1.45" fill="#262a5e" stroke="#15172e" stroke-width="0.35"/>
<circle cx="600.82" cy="307.99" r="1.45" fill="#262a5e" stroke="#15172e" stroke-width="0.35"/>
<circle cx="572.28" cy="309.36" r="1.45" fill="#262a5e" stroke="#15172e" stroke-width="0.35"/>
<circle cx="609.21" cy="309.32" r="1.45" fill="#262a5e" stroke="#15172e" stroke-width="0.35"/>
<circle cx="574.34" cy="307.27" r="1.45" fill="#262a5e" stroke="#15172e" stroke-width="0.35"/>
<circle cx="571.02" cy="308.76" r="1.45" fill="#262a5e" stroke="#15172e" stroke-width="0.35"/>
<circle cx="582.79" cy="306.88" r="1.45" fill="#262a5e" stroke="#15172e" stroke-width="0.35"/>
<circle cx="590.53" cy="309.14" r="1.45" fill="#262a5e" stroke="#15172e" stroke-width="0.35"/>
<circle cx="610.77" cy="307.25" r="1.45" fill="#262a5e" stroke="#15172e" stroke-width="0.35"/>
<circle cx="576.62" cy="309.17" r="1.45" fill="#262a5e" stroke="#15172e" stroke-width="0.35"/>
<circle cx="598.1" cy="308.53" r="1.45" fill="#262a5e" stroke="#15172e" stroke-width="0.35"/>
<circle cx="573.56" cy="306.67" r="1.45" fill="#262a5e" stroke="#15172e" stroke-width="0.35"/>
<circle cx="604.1" cy="307.73" r="1.45" fill="#262a5e" stroke="#15172e" stroke-width="0.35"/>
<circle cx="572.69" cy="309.22" r="1.45" fill="#262a5e" stroke="#15172e" stroke-width="0.35"/>
<circle cx="601.36" cy="308.82" r="1.45" fill="#262a5e" stroke="#15172e" stroke-width="0.35"/>
<circle cx="573.27" cy="308.98" r="1.45" fill="#262a5e" stroke="#15172e" stroke-width="0.35"/>
<circle cx="572.4" cy="309" r="1.45" fill="#262a5e" stroke="#15172e" stroke-width="0.35"/>
<circle cx="592.14" cy="307.48" r="1.45" fill="#262a5e" stroke="#15172e" stroke-width="0.35"/>
<circle cx="597.21" cy="309.19" r="1.45" fill="#262a5e" stroke="#15172e" stroke-width="0.35"/>
<circle cx="615" cy="298.9" r="1.45" fill="#262a5e" stroke="#15172e" stroke-width="0.35"/>
<circle cx="616.9" cy="300" r="1.45" fill="#262a5e" stroke="#15172e" stroke-width="0.35"/>
<circle cx="625.7" cy="302.6" r="1.45" fill="#262a5e" stroke="#15172e" stroke-width="0.35"/>
<circle cx="638.4" cy="302.5" r="1.45" fill="#262a5e" stroke="#15172e" stroke-width="0.35"/>
<circle cx="649.6" cy="300.8" r="1.45" fill="#262a5e" stroke="#15172e" stroke-width="0.35"/>
<circle cx="634.8" cy="304.2" r="1.45" fill="#262a5e" stroke="#15172e" stroke-width="0.35"/>
<circle cx="497.6" cy="296" r="1.45" fill="#262a5e" stroke="#15172e" stroke-width="0.35"/>
<circle cx="520.8" cy="289.1" r="1.45" fill="#262a5e" stroke="#15172e" stroke-width="0.35"/>
<circle cx="530.3" cy="290.1" r="1.45" fill="#262a5e" stroke="#15172e" stroke-width="0.35"/>
<circle cx="534.9" cy="285.5" r="1.45" fill="#262a5e" stroke="#15172e" stroke-width="0.35"/>
<circle cx="562.4" cy="295.2" r="1.45" fill="#262a5e" stroke="#15172e" stroke-width="0.35"/>
<circle cx="564.5" cy="300.3" r="1.45" fill="#262a5e" stroke="#15172e" stroke-width="0.35"/>
<circle cx="560.4" cy="286.5" r="1.45" fill="#262a5e" stroke="#15172e" stroke-width="0.35"/>
<circle cx="563.5" cy="287.6" r="1.45" fill="#262a5e" stroke="#15172e" stroke-width="0.35"/>
<circle cx="624.59" cy="304.25" r="1.45" fill="#262a5e" stroke="#15172e" stroke-width="0.35"/>
<circle cx="636.77" cy="304.97" r="1.45" fill="#262a5e" stroke="#15172e" stroke-width="0.35"/>
<circle cx="617.14" cy="304.47" r="1.45" fill="#262a5e" stroke="#15172e" stroke-width="0.35"/>
<circle cx="614.37" cy="304.73" r="1.45" fill="#262a5e" stroke="#15172e" stroke-width="0.35"/>
<circle cx="626.66" cy="305.41" r="1.45" fill="#262a5e" stroke="#15172e" stroke-width="0.35"/>
<circle cx="647.7" cy="305.31" r="1.45" fill="#262a5e" stroke="#15172e" stroke-width="0.35"/>
<circle cx="635.5" cy="304.57" r="1.45" fill="#262a5e" stroke="#15172e" stroke-width="0.35"/>
<circle cx="628.31" cy="303.52" r="1.45" fill="#262a5e" stroke="#15172e" stroke-width="0.35"/>
<circle cx="623.77" cy="303.5" r="1.45" fill="#262a5e" stroke="#15172e" stroke-width="0.35"/>
<circle cx="646.45" cy="307.04" r="1.45" fill="#262a5e" stroke="#15172e" stroke-width="0.35"/>
<circle cx="620.9" cy="306.53" r="1.45" fill="#262a5e" stroke="#15172e" stroke-width="0.35"/>
<circle cx="655.93" cy="304.1" r="1.45" fill="#262a5e" stroke="#15172e" stroke-width="0.35"/>
<circle cx="650.49" cy="306.25" r="1.45" fill="#262a5e" stroke="#15172e" stroke-width="0.35"/>
<circle cx="635.27" cy="308.91" r="1.45" fill="#262a5e" stroke="#15172e" stroke-width="0.35"/>
<circle cx="630.48" cy="306.74" r="1.45" fill="#262a5e" stroke="#15172e" stroke-width="0.35"/>
<circle cx="644.32" cy="309.88" r="1.45" fill="#262a5e" stroke="#15172e" stroke-width="0.35"/>
<circle cx="628.11" cy="308.89" r="1.45" fill="#262a5e" stroke="#15172e" stroke-width="0.35"/>
<circle cx="645.22" cy="307.6" r="1.45" fill="#262a5e" stroke="#15172e" stroke-width="0.35"/>
<circle cx="631.02" cy="305.69" r="1.45" fill="#262a5e" stroke="#15172e" stroke-width="0.35"/>
<circle cx="614.56" cy="304.26" r="1.45" fill="#262a5e" stroke="#15172e" stroke-width="0.35"/>
<circle cx="615.32" cy="308.29" r="1.45" fill="#262a5e" stroke="#15172e" stroke-width="0.35"/>
<circle cx="624.01" cy="304.48" r="1.45" fill="#262a5e" stroke="#15172e" stroke-width="0.35"/>
<circle cx="615.97" cy="308.95" r="1.45" fill="#262a5e" stroke="#15172e" stroke-width="0.35"/>
<circle cx="652.92" cy="307.83" r="1.45" fill="#262a5e" stroke="#15172e" stroke-width="0.35"/>
<circle cx="625.25" cy="305" r="1.45" fill="#262a5e" stroke="#15172e" stroke-width="0.35"/>
<circle cx="625.77" cy="306.43" r="1.45" fill="#262a5e" stroke="#15172e" stroke-width="0.35"/>
<circle cx="619.4" cy="306.34" r="1.45" fill="#262a5e" stroke="#15172e" stroke-width="0.35"/>
<circle cx="624.37" cy="309.75" r="1.45" fill="#262a5e" stroke="#15172e" stroke-width="0.35"/>
<circle cx="657.71" cy="307.01" r="1.45" fill="#262a5e" stroke="#15172e" stroke-width="0.35"/>
<circle cx="623.49" cy="309.77" r="1.45" fill="#262a5e" stroke="#15172e" stroke-width="0.35"/>
<circle cx="626.55" cy="305.75" r="1.45" fill="#262a5e" stroke="#15172e" stroke-width="0.35"/>
<circle cx="612.05" cy="305.92" r="1.45" fill="#262a5e" stroke="#15172e" stroke-width="0.35"/>
<circle cx="634.31" cy="306.72" r="1.45" fill="#262a5e" stroke="#15172e" stroke-width="0.35"/>
<circle cx="621.45" cy="306.73" r="1.45" fill="#262a5e" stroke="#15172e" stroke-width="0.35"/>
<circle cx="612.23" cy="305.14" r="1.45" fill="#262a5e" stroke="#15172e" stroke-width="0.35"/>
<circle cx="616.22" cy="306.04" r="1.45" fill="#262a5e" stroke="#15172e" stroke-width="0.35"/>
<circle cx="626.42" cy="305.11" r="1.45" fill="#262a5e" stroke="#15172e" stroke-width="0.35"/>
<circle cx="635.34" cy="306.12" r="1.45" fill="#262a5e" stroke="#15172e" stroke-width="0.35"/>
<circle cx="644.91" cy="307.54" r="1.45" fill="#262a5e" stroke="#15172e" stroke-width="0.35"/>
<circle cx="650.52" cy="308.16" r="1.45" fill="#262a5e" stroke="#15172e" stroke-width="0.35"/>
<circle cx="649.34" cy="309.22" r="1.45" fill="#262a5e" stroke="#15172e" stroke-width="0.35"/>
<circle cx="638.24" cy="306.57" r="1.45" fill="#262a5e" stroke="#15172e" stroke-width="0.35"/>
<circle cx="658.48" cy="305.72" r="1.45" fill="#262a5e" stroke="#15172e" stroke-width="0.35"/>
<circle cx="649.62" cy="308.09" r="1.45" fill="#262a5e" stroke="#15172e" stroke-width="0.35"/>
<circle cx="626.49" cy="309.01" r="1.45" fill="#262a5e" stroke="#15172e" stroke-width="0.35"/>
<circle cx="655.33" cy="308.01" r="1.45" fill="#262a5e" stroke="#15172e" stroke-width="0.35"/>
<circle cx="649.95" cy="308.9" r="1.45" fill="#262a5e" stroke="#15172e" stroke-width="0.35"/>
<circle cx="629.74" cy="307.51" r="1.45" fill="#262a5e" stroke="#15172e" stroke-width="0.35"/>
<circle cx="642.15" cy="309.01" r="1.45" fill="#262a5e" stroke="#15172e" stroke-width="0.35"/>
<circle cx="652.36" cy="308.97" r="1.45" fill="#262a5e" stroke="#15172e" stroke-width="0.35"/>
<circle cx="644.86" cy="309.29" r="1.45" fill="#262a5e" stroke="#15172e" stroke-width="0.35"/>
<circle cx="648.22" cy="308.33" r="1.45" fill="#262a5e" stroke="#15172e" stroke-width="0.35"/>
<circle cx="632.82" cy="305.15" r="1.45" fill="#262a5e" stroke="#15172e" stroke-width="0.35"/>
<circle cx="629.53" cy="306.73" r="1.45" fill="#262a5e" stroke="#15172e" stroke-width="0.35"/>
<circle cx="628.57" cy="309.01" r="1.45" fill="#262a5e" stroke="#15172e" stroke-width="0.35"/>
<circle cx="643.99" cy="308.01" r="1.45" fill="#262a5e" stroke="#15172e" stroke-width="0.35"/>
<circle cx="646.29" cy="308.27" r="1.45" fill="#262a5e" stroke="#15172e" stroke-width="0.35"/>
<circle cx="641.64" cy="305.02" r="1.45" fill="#262a5e" stroke="#15172e" stroke-width="0.35"/>
<circle cx="652.12" cy="308.59" r="1.45" fill="#262a5e" stroke="#15172e" stroke-width="0.35"/>
<circle cx="642.1" cy="307.57" r="1.45" fill="#262a5e" stroke="#15172e" stroke-width="0.35"/>
<circle cx="647.42" cy="305.32" r="1.45" fill="#262a5e" stroke="#15172e" stroke-width="0.35"/>
<circle cx="650.05" cy="306.21" r="1.45" fill="#262a5e" stroke="#15172e" stroke-width="0.35"/>
<circle cx="591.49" cy="302.02" r="1.45" fill="#262a5e" stroke="#15172e" stroke-width="0.35"/>
<circle cx="595.1" cy="302.05" r="1.45" fill="#262a5e" stroke="#15172e" stroke-width="0.35"/>
<circle cx="597.93" cy="303.07" r="1.45" fill="#262a5e" stroke="#15172e" stroke-width="0.35"/>
<circle cx="600.46" cy="302.46" r="1.45" fill="#262a5e" stroke="#15172e" stroke-width="0.35"/>
<circle cx="603.27" cy="302.92" r="1.45" fill="#262a5e" stroke="#15172e" stroke-width="0.35"/>
<circle cx="606.44" cy="302.94" r="1.45" fill="#262a5e" stroke="#15172e" stroke-width="0.35"/>
<circle cx="609.11" cy="302.39" r="1.45" fill="#262a5e" stroke="#15172e" stroke-width="0.35"/>
<circle cx="611.34" cy="302.7" r="1.45" fill="#262a5e" stroke="#15172e" stroke-width="0.35"/>
<circle cx="614.88" cy="302.87" r="1.45" fill="#262a5e" stroke="#15172e" stroke-width="0.35"/>
<circle cx="617.49" cy="302.61" r="1.45" fill="#262a5e" stroke="#15172e" stroke-width="0.35"/>
<circle cx="619.71" cy="303.02" r="1.45" fill="#262a5e" stroke="#15172e" stroke-width="0.35"/>
<circle cx="623.27" cy="303.63" r="1.45" fill="#262a5e" stroke="#15172e" stroke-width="0.35"/>
<circle cx="626.09" cy="303.25" r="1.45" fill="#262a5e" stroke="#15172e" stroke-width="0.35"/>
<circle cx="628.73" cy="303.56" r="1.45" fill="#262a5e" stroke="#15172e" stroke-width="0.35"/>
<circle cx="631.49" cy="303.24" r="1.45" fill="#262a5e" stroke="#15172e" stroke-width="0.35"/>
<circle cx="634.83" cy="303.44" r="1.45" fill="#262a5e" stroke="#15172e" stroke-width="0.35"/>
<circle cx="637.75" cy="304.42" r="1.45" fill="#262a5e" stroke="#15172e" stroke-width="0.35"/>
<circle cx="639.42" cy="303.95" r="1.45" fill="#262a5e" stroke="#15172e" stroke-width="0.35"/>
<circle cx="536.9" cy="306.5" r="1.45" fill="#262a5e" stroke="#15172e" stroke-width="0.35"/>
<circle cx="538.9" cy="307.5" r="1.45" fill="#262a5e" stroke="#15172e" stroke-width="0.35"/>
<circle cx="540.5" cy="308.5" r="1.45" fill="#262a5e" stroke="#15172e" stroke-width="0.35"/>
<circle cx="514.17" cy="309.41" r="1.45" fill="#262a5e" stroke="#15172e" stroke-width="0.35"/>
<circle cx="477.5" cy="305.14" r="1.45" fill="#262a5e" stroke="#15172e" stroke-width="0.35"/>
<circle cx="453.77" cy="309.27" r="1.45" fill="#262a5e" stroke="#15172e" stroke-width="0.35"/>
<circle cx="453.86" cy="307.05" r="1.45" fill="#262a5e" stroke="#15172e" stroke-width="0.35"/>
<circle cx="447.03" cy="306.7" r="1.45" fill="#262a5e" stroke="#15172e" stroke-width="0.35"/>
<circle cx="527.32" cy="304.31" r="1.45" fill="#262a5e" stroke="#15172e" stroke-width="0.35"/>
<circle cx="514.2" cy="306.6" r="1.45" fill="#262a5e" stroke="#15172e" stroke-width="0.35"/>
<circle cx="520.8" cy="307.79" r="1.45" fill="#262a5e" stroke="#15172e" stroke-width="0.35"/>
<circle cx="455.91" cy="308.98" r="1.45" fill="#262a5e" stroke="#15172e" stroke-width="0.35"/>
<circle cx="481.13" cy="303.65" r="1.45" fill="#262a5e" stroke="#15172e" stroke-width="0.35"/>
<circle cx="433.36" cy="306.5" r="1.45" fill="#262a5e" stroke="#15172e" stroke-width="0.35"/>
<circle cx="477.63" cy="305.34" r="1.45" fill="#262a5e" stroke="#15172e" stroke-width="0.35"/>
<circle cx="446.93" cy="305.6" r="1.45" fill="#262a5e" stroke="#15172e" stroke-width="0.35"/>
<circle cx="464.29" cy="308.63" r="1.45" fill="#262a5e" stroke="#15172e" stroke-width="0.35"/>
<circle cx="433.17" cy="308.08" r="1.45" fill="#262a5e" stroke="#15172e" stroke-width="0.35"/>
<circle cx="516.07" cy="304.23" r="1.45" fill="#262a5e" stroke="#15172e" stroke-width="0.35"/>
<circle cx="524.71" cy="307.85" r="1.45" fill="#262a5e" stroke="#15172e" stroke-width="0.35"/>
<circle cx="522.26" cy="305.27" r="1.45" fill="#262a5e" stroke="#15172e" stroke-width="0.35"/>
<circle cx="469.85" cy="305.9" r="1.45" fill="#262a5e" stroke="#15172e" stroke-width="0.35"/>
<circle cx="531.88" cy="307.09" r="1.45" fill="#262a5e" stroke="#15172e" stroke-width="0.35"/>
<circle cx="468.71" cy="306.11" r="1.45" fill="#262a5e" stroke="#15172e" stroke-width="0.35"/>
<circle cx="460.24" cy="303.79" r="1.45" fill="#262a5e" stroke="#15172e" stroke-width="0.35"/>
<circle cx="443.07" cy="308.59" r="1.45" fill="#262a5e" stroke="#15172e" stroke-width="0.35"/>
<circle cx="461.28" cy="309.21" r="1.45" fill="#262a5e" stroke="#15172e" stroke-width="0.35"/>
<circle cx="457.68" cy="305.12" r="1.45" fill="#262a5e" stroke="#15172e" stroke-width="0.35"/>
<circle cx="483.59" cy="304.66" r="1.45" fill="#262a5e" stroke="#15172e" stroke-width="0.35"/>
<circle cx="469.96" cy="309.33" r="1.45" fill="#262a5e" stroke="#15172e" stroke-width="0.35"/>
<circle cx="520.54" cy="308.45" r="1.45" fill="#262a5e" stroke="#15172e" stroke-width="0.35"/>
<circle cx="495.46" cy="309.07" r="1.45" fill="#262a5e" stroke="#15172e" stroke-width="0.35"/>
<circle cx="526.13" cy="306.85" r="1.45" fill="#262a5e" stroke="#15172e" stroke-width="0.35"/>
<circle cx="504.24" cy="303.8" r="1.45" fill="#262a5e" stroke="#15172e" stroke-width="0.35"/>
<circle cx="505.5" cy="306.25" r="1.45" fill="#262a5e" stroke="#15172e" stroke-width="0.35"/>
<circle cx="507.51" cy="307.43" r="1.45" fill="#262a5e" stroke="#15172e" stroke-width="0.35"/>
<circle cx="461.33" cy="303.8" r="1.45" fill="#262a5e" stroke="#15172e" stroke-width="0.35"/>
<circle cx="524.75" cy="304.28" r="1.45" fill="#262a5e" stroke="#15172e" stroke-width="0.35"/>
<circle cx="479.75" cy="305.6" r="1.45" fill="#262a5e" stroke="#15172e" stroke-width="0.35"/>
<circle cx="462.48" cy="308.01" r="1.45" fill="#262a5e" stroke="#15172e" stroke-width="0.35"/>
<circle cx="529.65" cy="305.09" r="1.45" fill="#262a5e" stroke="#15172e" stroke-width="0.35"/>
<circle cx="497.94" cy="305.34" r="1.45" fill="#262a5e" stroke="#15172e" stroke-width="0.35"/>
<circle cx="488.17" cy="305.91" r="1.45" fill="#262a5e" stroke="#15172e" stroke-width="0.35"/>
<circle cx="449.57" cy="304.49" r="1.45" fill="#262a5e" stroke="#15172e" stroke-width="0.35"/>
<circle cx="453.58" cy="309.03" r="1.45" fill="#262a5e" stroke="#15172e" stroke-width="0.35"/>
<circle cx="466.3" cy="301.2" r="1.45" fill="#262a5e" stroke="#15172e" stroke-width="0.35"/>
<circle cx="470.4" cy="302.4" r="1.45" fill="#262a5e" stroke="#15172e" stroke-width="0.35"/>
<circle cx="480.6" cy="301.7" r="1.45" fill="#262a5e" stroke="#15172e" stroke-width="0.35"/>
<circle cx="492.8" cy="301.2" r="1.45" fill="#262a5e" stroke="#15172e" stroke-width="0.35"/>
<circle cx="477" cy="303" r="1.45" fill="#262a5e" stroke="#15172e" stroke-width="0.35"/>
<circle cx="486" cy="304" r="1.45" fill="#262a5e" stroke="#15172e" stroke-width="0.35"/>
<circle cx="499" cy="302.5" r="1.45" fill="#262a5e" stroke="#15172e" stroke-width="0.35"/>
<circle cx="502.7" cy="302.9" r="1.45" fill="#262a5e" stroke="#15172e" stroke-width="0.35"/>
<circle cx="507.3" cy="302.2" r="1.45" fill="#262a5e" stroke="#15172e" stroke-width="0.35"/>
<circle cx="510" cy="303" r="1.45" fill="#262a5e" stroke="#15172e" stroke-width="0.35"/>
<circle cx="512" cy="302" r="1.45" fill="#262a5e" stroke="#15172e" stroke-width="0.35"/>
<circle cx="520" cy="301.7" r="1.45" fill="#262a5e" stroke="#15172e" stroke-width="0.35"/>
<circle cx="522" cy="303" r="1.45" fill="#262a5e" stroke="#15172e" stroke-width="0.35"/>
<circle cx="527.7" cy="301.6" r="1.45" fill="#262a5e" stroke="#15172e" stroke-width="0.35"/>
<circle cx="529.7" cy="304" r="1.45" fill="#262a5e" stroke="#15172e" stroke-width="0.35"/>
<circle cx="433" cy="307.3" r="1.45" fill="#262a5e" stroke="#15172e" stroke-width="0.35"/>
<circle cx="437.7" cy="309.3" r="1.45" fill="#262a5e" stroke="#15172e" stroke-width="0.35"/>
<circle cx="439.7" cy="308.3" r="1.45" fill="#262a5e" stroke="#15172e" stroke-width="0.35"/>
<circle cx="444.3" cy="307.3" r="1.45" fill="#262a5e" stroke="#15172e" stroke-width="0.35"/>
<circle cx="445.8" cy="307.3" r="1.45" fill="#262a5e" stroke="#15172e" stroke-width="0.35"/>
<circle cx="449.4" cy="309.3" r="1.45" fill="#262a5e" stroke="#15172e" stroke-width="0.35"/>
<line x1="427.9" y1="309.2" x2="430.4" y2="309.2" stroke="#999" stroke-width="0.7" />
<text x="426" y="311.7" font-size="7.2" font-weight="normal" font-style="normal" fill="#444" text-anchor="end" stroke="#444" stroke-width="0.2">0</text>
<line x1="427.9" y1="281.7" x2="430.4" y2="281.7" stroke="#999" stroke-width="0.7" />
<text x="426" y="284.2" font-size="7.2" font-weight="normal" font-style="normal" fill="#444" text-anchor="end" stroke="#444" stroke-width="0.2">5</text>
<line x1="427.9" y1="254.2" x2="430.4" y2="254.2" stroke="#999" stroke-width="0.7" />
<text x="426" y="256.7" font-size="7.2" font-weight="normal" font-style="normal" fill="#444" text-anchor="end" stroke="#444" stroke-width="0.2">10</text>
<line x1="427.9" y1="226.7" x2="430.4" y2="226.7" stroke="#999" stroke-width="0.7" />
<text x="426" y="229.2" font-size="7.2" font-weight="normal" font-style="normal" fill="#444" text-anchor="end" stroke="#444" stroke-width="0.2">15</text>
<line x1="660.3" y1="309.1" x2="662.8" y2="309.1" stroke="#7f95d0" stroke-width="0.7" />
<text x="664.9" y="311.4" font-size="6.8" font-weight="normal" font-style="normal" fill="#5a78c8" text-anchor="start" >0</text>
<line x1="660.3" y1="290.66" x2="662.8" y2="290.66" stroke="#7f95d0" stroke-width="0.7" />
<text x="664.9" y="292.96" font-size="6.8" font-weight="normal" font-style="normal" fill="#5a78c8" text-anchor="start" >20</text>
<line x1="660.3" y1="272.22" x2="662.8" y2="272.22" stroke="#7f95d0" stroke-width="0.7" />
<text x="664.9" y="274.52" font-size="6.8" font-weight="normal" font-style="normal" fill="#5a78c8" text-anchor="start" >40</text>
<line x1="660.3" y1="253.78" x2="662.8" y2="253.78" stroke="#7f95d0" stroke-width="0.7" />
<text x="664.9" y="256.08" font-size="6.8" font-weight="normal" font-style="normal" fill="#5a78c8" text-anchor="start" >60</text>
<line x1="660.3" y1="235.34" x2="662.8" y2="235.34" stroke="#7f95d0" stroke-width="0.7" />
<text x="664.9" y="237.64" font-size="6.8" font-weight="normal" font-style="normal" fill="#5a78c8" text-anchor="start" >80</text>
<line x1="660.3" y1="216.9" x2="662.8" y2="216.9" stroke="#7f95d0" stroke-width="0.7" />
<text x="664.9" y="219.2" font-size="6.8" font-weight="normal" font-style="normal" fill="#5a78c8" text-anchor="start" >100</text>
<rect x="434.9" y="223.5" width="4.8" height="7.13" fill="#e8232a"/>
<rect x="434.9" y="230.58" width="4.8" height="7.13" fill="#f7a032"/>
<rect x="434.9" y="237.66" width="4.8" height="7.13" fill="#5db544"/>
<rect x="434.9" y="244.74" width="4.8" height="7.13" fill="#7fcaee"/>
<rect x="434.9" y="251.82" width="4.8" height="7.13" fill="#262a5e"/>
<line x1="439.7" y1="230.58" x2="441.2" y2="230.58" stroke="#777" stroke-width="0.5" />
<text x="442.6" y="232.28" font-size="5" font-weight="normal" font-style="normal" fill="#666" text-anchor="start" >0.8</text>
<line x1="439.7" y1="237.66" x2="441.2" y2="237.66" stroke="#777" stroke-width="0.5" />
<text x="442.6" y="239.36" font-size="5" font-weight="normal" font-style="normal" fill="#666" text-anchor="start" >0.6</text>
<line x1="439.7" y1="244.74" x2="441.2" y2="244.74" stroke="#777" stroke-width="0.5" />
<text x="442.6" y="246.44" font-size="5" font-weight="normal" font-style="normal" fill="#666" text-anchor="start" >0.4</text>
<line x1="439.7" y1="251.82" x2="441.2" y2="251.82" stroke="#777" stroke-width="0.5" />
<text x="442.6" y="253.52" font-size="5" font-weight="normal" font-style="normal" fill="#666" text-anchor="start" >0.2</text>
<text x="441.7" y="223.6" font-size="5.2" font-style="italic" fill="#666">r<tspan font-size="3.6" dy="-2">2</tspan></text>
<text transform="translate(413,267.2) rotate(-90)" font-size="12.8" text-anchor="middle" fill="#222">-log<tspan font-size="7.7" dy="3.6">10</tspan><tspan dy="-3.6">(</tspan><tspan font-style="italic">P</tspan>)</text>
<text transform="translate(678.6,274.8) rotate(90)" font-size="7.1" text-anchor="middle" fill="#5a78c8">Recombination rate (cM/Mb)</text>
<rect x="430.2" y="317.7" width="230.3" height="63.7" fill="#fff" stroke="#aaa" stroke-width="0.9"/>
<line x1="466.2" y1="381.4" x2="466.2" y2="383.6" stroke="#999" stroke-width="0.7" />
<text x="466.2" y="392" font-size="8.2" font-weight="bold" font-style="normal" fill="#444" text-anchor="middle" >61.4</text>
<line x1="512.2" y1="381.4" x2="512.2" y2="383.6" stroke="#999" stroke-width="0.7" />
<text x="512.2" y="392" font-size="8.2" font-weight="bold" font-style="normal" fill="#444" text-anchor="middle" >61.5</text>
<line x1="558.4" y1="381.4" x2="558.4" y2="383.6" stroke="#999" stroke-width="0.7" />
<text x="558.4" y="392" font-size="8.2" font-weight="bold" font-style="normal" fill="#444" text-anchor="middle" >61.6</text>
<line x1="604.6" y1="381.4" x2="604.6" y2="383.6" stroke="#999" stroke-width="0.7" />
<text x="604.6" y="392" font-size="8.2" font-weight="bold" font-style="normal" fill="#444" text-anchor="middle" >61.7</text>
<line x1="650.7" y1="381.4" x2="650.7" y2="383.6" stroke="#999" stroke-width="0.7" />
<text x="650.7" y="392" font-size="8.2" font-weight="bold" font-style="normal" fill="#444" text-anchor="middle" >61.8</text>
<text x="556.4" y="400.8" font-size="8.27" font-weight="bold" font-style="normal" fill="#555" text-anchor="middle" >Position on chr11 (Mb)</text>
<path d="M430.6,320.05 h3.6 M431.8,319.1 L430.6,320.05 L431.8,321" stroke="#333" stroke-width="0.5" fill="none"/>
<text x="434.8" y="321.3" font-size="4.4" font-weight="normal" font-style="normal" fill="#333" text-anchor="start" stroke="#333" stroke-width="0.12">SYT7</text>
<line x1="430.6" y1="323.6" x2="442.7" y2="323.6" stroke="#2b3075" stroke-width="0.65" />
<rect x="430.6" y="322.75" width="0.8" height="1.7" fill="#2b3075"/>
<rect x="442" y="322.75" width="0.8" height="1.7" fill="#2b3075"/>
<path d="M471.86,320.05 h3.6 M474.26,319.1 L475.46,320.05 L474.26,321" stroke="#333" stroke-width="0.5" fill="none"/>
<text x="453.2" y="321.3" font-size="4.4" font-weight="normal" font-style="normal" fill="#333" text-anchor="start" stroke="#333" stroke-width="0.12">RPLP0P2</text>
<line x1="458" y1="323.6" x2="470" y2="323.6" stroke="#2b3075" stroke-width="0.65" />
<rect x="459.5" y="322.75" width="0.6" height="1.7" fill="#2b3075"/>
<rect x="462" y="322.75" width="0.6" height="1.7" fill="#2b3075"/>
<rect x="464" y="322.75" width="0.6" height="1.7" fill="#2b3075"/>
<rect x="468" y="322.75" width="2" height="1.7" fill="#2b3075"/>
<path d="M511.7,320.05 h3.6 M514.1,319.1 L515.3,320.05 L514.1,321" stroke="#333" stroke-width="0.5" fill="none"/>
<text x="495" y="321.3" font-size="4.4" font-weight="normal" font-style="normal" fill="#333" text-anchor="start" stroke="#333" stroke-width="0.12">DAGLA</text>
<line x1="488.2" y1="323.6" x2="519.2" y2="323.6" stroke="#2b3075" stroke-width="0.65" />
<rect x="506" y="322.75" width="0.6" height="1.7" fill="#2b3075"/>
<rect x="508" y="322.75" width="0.6" height="1.7" fill="#2b3075"/>
<rect x="510" y="322.75" width="0.6" height="1.7" fill="#2b3075"/>
<rect x="512" y="322.75" width="1.5" height="1.7" fill="#2b3075"/>
<rect x="514.5" y="322.75" width="4.7" height="1.7" fill="#2b3075"/>
<path d="M535.57,320.05 h3.6 M537.97,319.1 L539.17,320.05 L537.97,321" stroke="#333" stroke-width="0.5" fill="none"/>
<text x="521.8" y="321.3" font-size="4.4" font-weight="normal" font-style="normal" fill="#333" text-anchor="start" stroke="#333" stroke-width="0.12">MYRF</text>
<line x1="521.3" y1="323.6" x2="538.6" y2="323.6" stroke="#2b3075" stroke-width="0.65" />
<rect x="521.3" y="322.75" width="0.6" height="1.7" fill="#2b3075"/>
<rect x="527" y="322.75" width="0.6" height="1.7" fill="#2b3075"/>
<rect x="529" y="322.75" width="1.5" height="1.7" fill="#2b3075"/>
<rect x="531.5" y="322.75" width="7.1" height="1.7" fill="#2b3075"/>
<path d="M568.92,320.05 h3.6 M571.32,319.1 L572.52,320.05 L571.32,321" stroke="#333" stroke-width="0.5" fill="none"/>
<text x="554.5" y="321.3" font-size="4.4" font-weight="normal" font-style="normal" fill="#333" text-anchor="start" stroke="#333" stroke-width="0.12">FADS2</text>
<line x1="550.8" y1="323.6" x2="575" y2="323.6" stroke="#2b3075" stroke-width="0.65" />
<rect x="551.2" y="322.75" width="0.6" height="1.7" fill="#2b3075"/>
<rect x="556.5" y="322.75" width="0.6" height="1.7" fill="#2b3075"/>
<rect x="561.5" y="322.75" width="0.6" height="1.7" fill="#2b3075"/>
<rect x="565.5" y="322.75" width="0.6" height="1.7" fill="#2b3075"/>
<rect x="569.3" y="322.75" width="0.6" height="1.7" fill="#2b3075"/>
<rect x="572.9" y="322.75" width="2.1" height="1.7" fill="#2b3075"/>
<path d="M582.9,320.05 h3.6 M584.1,319.1 L582.9,320.05 L584.1,321" stroke="#333" stroke-width="0.5" fill="none"/>
<text x="587.1" y="321.3" font-size="4.4" font-weight="normal" font-style="normal" fill="#333" text-anchor="start" stroke="#333" stroke-width="0.12">RAB3IL1</text>
<line x1="588.1" y1="323.6" x2="599.2" y2="323.6" stroke="#2b3075" stroke-width="0.65" />
<rect x="588.1" y="322.75" width="6.3" height="1.7" fill="#2b3075"/>
<rect x="597.5" y="322.75" width="0.6" height="1.7" fill="#2b3075"/>
<path d="M612.4,320.05 h3.6 M613.6,319.1 L612.4,320.05 L613.6,321" stroke="#333" stroke-width="0.5" fill="none"/>
<text x="616.6" y="321.3" font-size="4.4" font-weight="normal" font-style="normal" fill="#333" text-anchor="start" stroke="#333" stroke-width="0.12">FTH1</text>
<rect x="619.2" y="322.75" width="1.1" height="1.7" fill="#2b3075"/>
<path d="M464.2,328.95 h3.6 M466.6,328 L467.8,328.95 L466.6,329.9" stroke="#333" stroke-width="0.5" fill="none"/>
<text x="434.3" y="330.2" font-size="4.4" font-weight="normal" font-style="normal" fill="#333" text-anchor="start" stroke="#333" stroke-width="0.12">LOC101927495</text>
<line x1="445.9" y1="332.6" x2="454.8" y2="332.6" stroke="#2b3075" stroke-width="0.65" />
<rect x="446" y="331.75" width="0.5" height="1.7" fill="#2b3075"/>
<rect x="448.5" y="331.75" width="0.5" height="1.7" fill="#2b3075"/>
<rect x="451" y="331.75" width="0.5" height="1.7" fill="#2b3075"/>
<rect x="453.8" y="331.75" width="1" height="1.7" fill="#2b3075"/>
<path d="M506,328.95 h3.6 M507.2,328 L506,328.95 L507.2,329.9" stroke="#333" stroke-width="0.5" fill="none"/>
<text x="510.2" y="330.2" font-size="4.4" font-weight="normal" font-style="normal" fill="#333" text-anchor="start" stroke="#333" stroke-width="0.12">DKFZP434K028</text>
<rect x="522.4" y="331.75" width="1" height="1.7" fill="#2b3075"/>
<path d="M572.3,328.95 h3.6 M573.5,328 L572.3,328.95 L573.5,329.9" stroke="#333" stroke-width="0.5" fill="none"/>
<text x="576.5" y="330.2" font-size="4.4" font-weight="normal" font-style="normal" fill="#333" text-anchor="start" stroke="#333" stroke-width="0.12">FADS3</text>
<line x1="577" y1="332.6" x2="585.5" y2="332.6" stroke="#2b3075" stroke-width="0.65" />
<rect x="577" y="331.75" width="3.6" height="1.7" fill="#2b3075"/>
<rect x="582" y="331.75" width="0.6" height="1.7" fill="#2b3075"/>
<rect x="585" y="331.75" width="0.6" height="1.7" fill="#2b3075"/>
<path d="M622.36,328.95 h3.6 M624.76,328 L625.96,328.95 L624.76,329.9" stroke="#333" stroke-width="0.5" fill="none"/>
<text x="608.1" y="330.2" font-size="4.4" font-weight="normal" font-style="normal" fill="#333" text-anchor="start" stroke="#333" stroke-width="0.12">BEST1</text>
<line x1="612.4" y1="332.6" x2="619.7" y2="332.6" stroke="#2b3075" stroke-width="0.65" />
<rect x="612.4" y="331.75" width="7.3" height="1.7" fill="#2b3075"/>
<path d="M527.6,338.05 h3.6 M528.8,337.1 L527.6,338.05 L528.8,339" stroke="#333" stroke-width="0.5" fill="none"/>
<text x="531.8" y="339.3" font-size="4.4" font-weight="normal" font-style="normal" fill="#333" text-anchor="start" stroke="#333" stroke-width="0.12">TMEM258</text>
<rect x="538.8" y="340.95" width="0.9" height="1.7" fill="#2b3075"/>
<path d="M569.2,338.05 h3.6 M570.4,337.1 L569.2,338.05 L570.4,339" stroke="#333" stroke-width="0.5" fill="none"/>
<text x="573.4" y="339.3" font-size="4.4" font-weight="normal" font-style="normal" fill="#333" text-anchor="start" stroke="#333" stroke-width="0.12">MIR6746</text>
<rect x="579.5" y="340.95" width="0.5" height="1.7" fill="#2b3075"/>
<path d="M530.5,348.15 h3.6 M531.7,347.2 L530.5,348.15 L531.7,349.1" stroke="#333" stroke-width="0.5" fill="none"/>
<text x="534.7" y="349.4" font-size="4.4" font-weight="normal" font-style="normal" fill="#333" text-anchor="start" stroke="#333" stroke-width="0.12">MIR611</text>
<rect x="539.8" y="350.65" width="0.5" height="1.7" fill="#2b3075"/>
<path d="M545.51,357.35 h3.6 M547.91,356.4 L549.11,357.35 L547.91,358.3" stroke="#333" stroke-width="0.5" fill="none"/>
<text x="533.7" y="358.6" font-size="4.4" font-weight="normal" font-style="normal" fill="#333" text-anchor="start" stroke="#333" stroke-width="0.12">FEN1</text>
<rect x="540.5" y="359.65" width="2.1" height="1.7" fill="#2b3075"/>
<path d="M538.4,366.15 h3.6 M539.6,365.2 L538.4,366.15 L539.6,367.1" stroke="#333" stroke-width="0.5" fill="none"/>
<text x="542.6" y="367.4" font-size="4.4" font-weight="normal" font-style="normal" fill="#333" text-anchor="start" stroke="#333" stroke-width="0.12">FADS1</text>
<line x1="543.1" y1="369.5" x2="551.5" y2="369.5" stroke="#2b3075" stroke-width="0.65" />
<rect x="543.1" y="368.65" width="2.6" height="1.7" fill="#2b3075"/>
<rect x="547" y="368.65" width="0.6" height="1.7" fill="#2b3075"/>
<rect x="551" y="368.65" width="0.6" height="1.7" fill="#2b3075"/>
<path d="M539.5,375.45 h3.6 M540.7,374.5 L539.5,375.45 L540.7,376.4" stroke="#333" stroke-width="0.5" fill="none"/>
<text x="543.7" y="376.7" font-size="4.4" font-weight="normal" font-style="normal" fill="#333" text-anchor="start" stroke="#333" stroke-width="0.12">MIR1908</text>
<rect x="550.3" y="377.95" width="0.5" height="1.7" fill="#2b3075"/>
<text x="543.7" y="224.3" font-size="4.8" font-weight="normal" font-style="normal" fill="#333" text-anchor="middle" >rs174547</text>
<text x="136.8" y="439.1" font-size="32" font-weight="bold" font-style="normal" fill="#111" text-anchor="start" >E</text>
<line x1="183.3" y1="422.7" x2="183.3" y2="638.3" stroke="#333" stroke-width="1" />
<line x1="182.8" y1="637.9" x2="510" y2="637.9" stroke="#333" stroke-width="1" />
<line x1="181" y1="628.2" x2="183.3" y2="628.2" stroke="#333" stroke-width="0.8" />
<line x1="181" y1="576.2" x2="183.3" y2="576.2" stroke="#333" stroke-width="0.8" />
<text x="179" y="579.8" font-size="10.6" font-weight="bold" font-style="normal" fill="#222" text-anchor="end" >30000</text>
<line x1="181" y1="524.2" x2="183.3" y2="524.2" stroke="#333" stroke-width="0.8" />
<text x="179" y="527.8" font-size="10.6" font-weight="bold" font-style="normal" fill="#222" text-anchor="end" >60000</text>
<line x1="181" y1="472.2" x2="183.3" y2="472.2" stroke="#333" stroke-width="0.8" />
<text x="179" y="475.8" font-size="10.6" font-weight="bold" font-style="normal" fill="#222" text-anchor="end" >90000</text>
<rect x="208.8" y="580.5" width="23.95" height="47.7" fill="#e8907a"/>
<text x="221.2" y="578.2" font-size="9" font-weight="bold" font-style="normal" fill="#222" text-anchor="middle" stroke="#222" stroke-width="0.15">54.4%</text>
<rect x="232.7" y="596.9" width="23.95" height="31.3" fill="#2f9980"/>
<text x="245.1" y="594.6" font-size="9" font-weight="bold" font-style="normal" fill="#222" text-anchor="middle" stroke="#222" stroke-width="0.15">35.7%</text>
<rect x="256.6" y="619.9" width="23.95" height="8.3" fill="#4bb1c8"/>
<text x="269" y="617.6" font-size="9" font-weight="bold" font-style="normal" fill="#222" text-anchor="middle" stroke="#222" stroke-width="0.15">9.9%</text>
<line x1="244.6" y1="637.9" x2="244.6" y2="640.6" stroke="#333" stroke-width="0.8" />
<text x="242" y="649" font-size="7.67" font-weight="bold" font-style="normal" fill="#222" text-anchor="middle" stroke="#222" stroke-width="0.12">MCM6-rs4988235_GG</text>
<rect x="311.2" y="501.1" width="23.95" height="127.1" fill="#e8907a"/>
<text x="323.6" y="498.8" font-size="9" font-weight="bold" font-style="normal" fill="#222" text-anchor="middle" stroke="#222" stroke-width="0.15">43.7%</text>
<rect x="335.1" y="497.9" width="23.95" height="130.3" fill="#2f9980"/>
<text x="347.5" y="495.6" font-size="9" font-weight="bold" font-style="normal" fill="#222" text-anchor="middle" stroke="#222" stroke-width="0.15">44.7%</text>
<rect x="359" y="594.2" width="23.95" height="34" fill="#4bb1c8"/>
<text x="371.4" y="591.9" font-size="9" font-weight="bold" font-style="normal" fill="#222" text-anchor="middle" stroke="#222" stroke-width="0.15">11.6%</text>
<line x1="347" y1="637.9" x2="347" y2="640.6" stroke="#333" stroke-width="0.8" />
<text x="344.4" y="649" font-size="7.67" font-weight="bold" font-style="normal" fill="#222" text-anchor="middle" stroke="#222" stroke-width="0.12">MCM6-rs4988235_GA</text>
<rect x="413.6" y="444.1" width="23.95" height="184.1" fill="#e8907a"/>
<text x="426" y="441.8" font-size="9" font-weight="bold" font-style="normal" fill="#222" text-anchor="middle" stroke="#222" stroke-width="0.15">42.7%</text>
<rect x="437.5" y="432.3" width="23.95" height="195.9" fill="#2f9980"/>
<text x="449.9" y="430" font-size="9" font-weight="bold" font-style="normal" fill="#222" text-anchor="middle" stroke="#222" stroke-width="0.15">45.4%</text>
<rect x="461.4" y="577" width="23.95" height="51.2" fill="#4bb1c8"/>
<text x="473.8" y="574.7" font-size="9" font-weight="bold" font-style="normal" fill="#222" text-anchor="middle" stroke="#222" stroke-width="0.15">12.0%</text>
<line x1="449.4" y1="637.9" x2="449.4" y2="640.6" stroke="#333" stroke-width="0.8" />
<text x="446.8" y="649" font-size="7.67" font-weight="bold" font-style="normal" fill="#222" text-anchor="middle" stroke="#222" stroke-width="0.12">MCM6-rs4988235_AA</text>
<rect x="480" y="473.7" width="11.9" height="12.3" fill="#e8907a"/>
<text x="496.6" y="482.8" font-size="8.07" font-weight="bold" font-style="normal" fill="#222" text-anchor="start" stroke="#222" stroke-width="0.12">FADS1-rs174547_TT</text>
<rect x="480" y="486.8" width="11.9" height="12.3" fill="#2f9980"/>
<text x="496.6" y="495.9" font-size="8.07" font-weight="bold" font-style="normal" fill="#222" text-anchor="start" stroke="#222" stroke-width="0.12">FADS1-rs174547_TC</text>
<rect x="480" y="499.9" width="11.9" height="12.3" fill="#4bb1c8"/>
<text x="496.6" y="509" font-size="8.07" font-weight="bold" font-style="normal" fill="#222" text-anchor="start" stroke="#222" stroke-width="0.12">FADS1-rs174547_CC</text>
</svg></body></html>
